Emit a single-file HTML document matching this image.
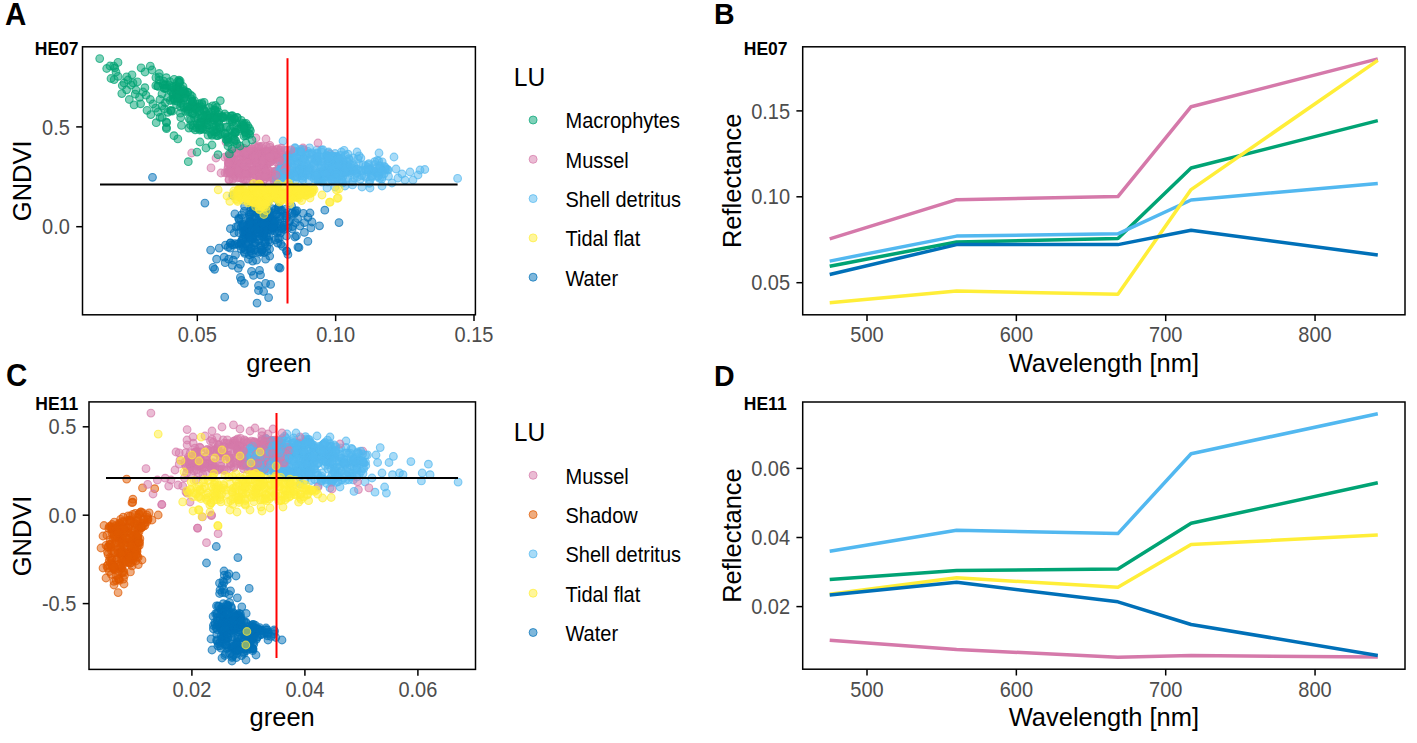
<!DOCTYPE html><html><head><meta charset="utf-8"><style>html,body{margin:0;padding:0;background:#fff;width:1417px;height:743px;overflow:hidden}</style></head><body><svg width="1417" height="743" viewBox="0 0 1417 743" style="position:absolute;left:0;top:0;font-family:'Liberation Sans',sans-serif">
<rect width="1417" height="743" fill="#fff"/>
<style>circle.g,circle.m,circle.s,circle.t,circle.w,circle.o{r:3.85px;fill-opacity:.5;stroke-opacity:.7;stroke-width:1.1px}circle.g{fill:#00A374;stroke:#00A374}circle.m{fill:#D579AA;stroke:#D579AA}circle.s{fill:#52B8F0;stroke:#52B8F0}circle.t{fill:#FFEE38;stroke:#FFEE38}circle.w{fill:#0070B8;stroke:#0070B8}circle.o{fill:#E05A00;stroke:#E05A00}</style>
<circle class="w" cx="249.9" cy="216.9"/>
<circle class="w" cx="279.4" cy="238.4"/>
<circle class="w" cx="269.9" cy="226.0"/>
<circle class="w" cx="266.0" cy="235.3"/>
<circle class="w" cx="244.3" cy="230.7"/>
<circle class="w" cx="252.2" cy="204.9"/>
<circle class="w" cx="258.0" cy="225.7"/>
<circle class="w" cx="262.9" cy="222.0"/>
<circle class="w" cx="260.0" cy="229.8"/>
<circle class="w" cx="239.0" cy="219.3"/>
<circle class="w" cx="271.9" cy="227.6"/>
<circle class="w" cx="272.0" cy="208.6"/>
<circle class="w" cx="281.6" cy="228.7"/>
<circle class="w" cx="263.5" cy="213.4"/>
<circle class="w" cx="277.1" cy="232.5"/>
<circle class="w" cx="260.0" cy="229.6"/>
<circle class="w" cx="271.8" cy="230.4"/>
<circle class="w" cx="273.8" cy="228.1"/>
<circle class="w" cx="243.5" cy="224.8"/>
<circle class="w" cx="243.3" cy="239.6"/>
<circle class="w" cx="274.3" cy="225.6"/>
<circle class="w" cx="286.4" cy="209.1"/>
<circle class="w" cx="281.6" cy="210.3"/>
<circle class="w" cx="236.1" cy="226.9"/>
<circle class="w" cx="254.9" cy="223.6"/>
<circle class="w" cx="262.9" cy="228.4"/>
<circle class="w" cx="269.4" cy="215.6"/>
<circle class="w" cx="248.7" cy="234.6"/>
<circle class="w" cx="282.7" cy="228.1"/>
<circle class="w" cx="264.9" cy="205.5"/>
<circle class="w" cx="269.7" cy="215.8"/>
<circle class="w" cx="280.5" cy="232.9"/>
<circle class="w" cx="254.8" cy="216.6"/>
<circle class="w" cx="258.6" cy="229.9"/>
<circle class="w" cx="267.4" cy="212.5"/>
<circle class="w" cx="264.8" cy="214.5"/>
<circle class="w" cx="257.3" cy="236.5"/>
<circle class="w" cx="255.8" cy="204.2"/>
<circle class="w" cx="251.7" cy="239.4"/>
<circle class="w" cx="241.2" cy="241.3"/>
<circle class="w" cx="259.9" cy="211.4"/>
<circle class="w" cx="256.0" cy="231.9"/>
<circle class="w" cx="278.4" cy="207.3"/>
<circle class="w" cx="261.0" cy="228.4"/>
<circle class="w" cx="280.9" cy="244.1"/>
<circle class="w" cx="288.8" cy="221.4"/>
<circle class="w" cx="243.3" cy="226.6"/>
<circle class="w" cx="246.9" cy="225.4"/>
<circle class="w" cx="255.7" cy="224.1"/>
<circle class="w" cx="267.3" cy="220.2"/>
<circle class="w" cx="278.9" cy="231.3"/>
<circle class="w" cx="241.7" cy="214.9"/>
<circle class="w" cx="244.6" cy="206.3"/>
<circle class="w" cx="264.1" cy="223.9"/>
<circle class="w" cx="268.6" cy="240.2"/>
<circle class="w" cx="274.8" cy="231.0"/>
<circle class="w" cx="261.6" cy="218.1"/>
<circle class="w" cx="230.4" cy="228.7"/>
<circle class="w" cx="259.2" cy="214.3"/>
<circle class="w" cx="250.7" cy="228.1"/>
<circle class="w" cx="285.4" cy="213.3"/>
<circle class="w" cx="254.8" cy="217.9"/>
<circle class="w" cx="257.1" cy="213.4"/>
<circle class="w" cx="263.8" cy="214.1"/>
<circle class="w" cx="275.5" cy="209.7"/>
<circle class="w" cx="245.3" cy="232.5"/>
<circle class="w" cx="265.0" cy="211.2"/>
<circle class="w" cx="263.6" cy="223.3"/>
<circle class="w" cx="277.9" cy="209.9"/>
<circle class="w" cx="234.2" cy="232.8"/>
<circle class="w" cx="271.7" cy="229.0"/>
<circle class="w" cx="251.2" cy="208.1"/>
<circle class="w" cx="235.5" cy="254.9"/>
<circle class="w" cx="258.7" cy="222.3"/>
<circle class="w" cx="266.9" cy="225.6"/>
<circle class="w" cx="249.5" cy="223.5"/>
<circle class="w" cx="263.7" cy="234.8"/>
<circle class="w" cx="292.6" cy="226.5"/>
<circle class="w" cx="268.9" cy="210.9"/>
<circle class="w" cx="251.1" cy="230.0"/>
<circle class="w" cx="249.9" cy="221.5"/>
<circle class="w" cx="296.8" cy="210.7"/>
<circle class="w" cx="253.3" cy="207.2"/>
<circle class="w" cx="269.2" cy="224.5"/>
<circle class="w" cx="258.9" cy="229.3"/>
<circle class="w" cx="228.1" cy="247.2"/>
<circle class="w" cx="274.9" cy="198.0"/>
<circle class="w" cx="265.6" cy="230.2"/>
<circle class="w" cx="273.8" cy="222.1"/>
<circle class="w" cx="279.8" cy="223.7"/>
<circle class="w" cx="258.9" cy="239.5"/>
<circle class="w" cx="242.6" cy="224.0"/>
<circle class="w" cx="258.7" cy="240.9"/>
<circle class="w" cx="249.6" cy="212.1"/>
<circle class="w" cx="246.6" cy="230.2"/>
<circle class="w" cx="261.8" cy="226.9"/>
<circle class="w" cx="243.2" cy="232.1"/>
<circle class="w" cx="278.0" cy="238.6"/>
<circle class="w" cx="279.1" cy="205.4"/>
<circle class="w" cx="266.0" cy="212.0"/>
<circle class="w" cx="269.0" cy="229.5"/>
<circle class="w" cx="251.3" cy="197.0"/>
<circle class="w" cx="263.4" cy="224.4"/>
<circle class="w" cx="255.8" cy="233.3"/>
<circle class="w" cx="255.5" cy="222.8"/>
<circle class="w" cx="267.4" cy="214.7"/>
<circle class="w" cx="271.6" cy="216.4"/>
<circle class="w" cx="260.4" cy="230.5"/>
<circle class="w" cx="280.1" cy="216.2"/>
<circle class="w" cx="263.6" cy="220.3"/>
<circle class="w" cx="238.2" cy="225.9"/>
<circle class="w" cx="295.2" cy="212.6"/>
<circle class="w" cx="274.6" cy="226.7"/>
<circle class="w" cx="279.9" cy="219.1"/>
<circle class="w" cx="272.1" cy="219.2"/>
<circle class="w" cx="297.6" cy="218.5"/>
<circle class="w" cx="263.7" cy="236.8"/>
<circle class="w" cx="252.4" cy="237.0"/>
<circle class="w" cx="291.6" cy="205.9"/>
<circle class="w" cx="268.6" cy="216.7"/>
<circle class="w" cx="262.8" cy="222.0"/>
<circle class="w" cx="235.0" cy="243.7"/>
<circle class="w" cx="264.1" cy="233.3"/>
<circle class="w" cx="251.8" cy="223.0"/>
<circle class="w" cx="252.9" cy="211.9"/>
<circle class="w" cx="292.2" cy="229.0"/>
<circle class="w" cx="283.9" cy="225.1"/>
<circle class="w" cx="258.5" cy="229.6"/>
<circle class="w" cx="310.9" cy="227.9"/>
<circle class="w" cx="264.2" cy="212.5"/>
<circle class="w" cx="266.0" cy="196.6"/>
<circle class="w" cx="276.6" cy="214.4"/>
<circle class="w" cx="262.4" cy="236.3"/>
<circle class="w" cx="284.8" cy="215.9"/>
<circle class="w" cx="244.2" cy="211.3"/>
<circle class="w" cx="248.2" cy="234.9"/>
<circle class="w" cx="266.2" cy="217.3"/>
<circle class="w" cx="263.6" cy="221.8"/>
<circle class="w" cx="242.8" cy="226.0"/>
<circle class="w" cx="286.5" cy="236.0"/>
<circle class="w" cx="254.0" cy="228.6"/>
<circle class="w" cx="247.4" cy="235.2"/>
<circle class="w" cx="261.1" cy="224.6"/>
<circle class="w" cx="283.4" cy="227.2"/>
<circle class="w" cx="271.0" cy="227.5"/>
<circle class="w" cx="267.4" cy="203.3"/>
<circle class="w" cx="267.5" cy="218.2"/>
<circle class="w" cx="286.4" cy="218.0"/>
<circle class="w" cx="249.3" cy="221.7"/>
<circle class="w" cx="277.6" cy="221.1"/>
<circle class="w" cx="267.0" cy="236.4"/>
<circle class="w" cx="271.6" cy="220.6"/>
<circle class="w" cx="283.7" cy="225.4"/>
<circle class="w" cx="271.2" cy="226.1"/>
<circle class="w" cx="225.5" cy="245.1"/>
<circle class="w" cx="258.3" cy="233.0"/>
<circle class="w" cx="253.7" cy="227.2"/>
<circle class="w" cx="245.9" cy="237.6"/>
<circle class="w" cx="254.5" cy="242.5"/>
<circle class="w" cx="265.8" cy="227.4"/>
<circle class="w" cx="248.9" cy="219.4"/>
<circle class="w" cx="267.3" cy="220.2"/>
<circle class="w" cx="257.6" cy="209.8"/>
<circle class="w" cx="257.8" cy="229.1"/>
<circle class="w" cx="240.6" cy="218.5"/>
<circle class="w" cx="246.4" cy="230.2"/>
<circle class="w" cx="250.9" cy="213.9"/>
<circle class="w" cx="254.5" cy="229.1"/>
<circle class="w" cx="244.9" cy="231.5"/>
<circle class="w" cx="294.3" cy="195.0"/>
<circle class="w" cx="249.1" cy="224.2"/>
<circle class="w" cx="269.1" cy="236.5"/>
<circle class="w" cx="259.3" cy="216.9"/>
<circle class="w" cx="232.8" cy="195.4"/>
<circle class="w" cx="239.3" cy="245.5"/>
<circle class="w" cx="244.1" cy="234.6"/>
<circle class="w" cx="267.2" cy="217.4"/>
<circle class="w" cx="244.6" cy="253.3"/>
<circle class="w" cx="274.2" cy="224.2"/>
<circle class="w" cx="238.9" cy="232.7"/>
<circle class="w" cx="234.9" cy="213.8"/>
<circle class="w" cx="261.5" cy="223.6"/>
<circle class="w" cx="265.9" cy="224.2"/>
<circle class="w" cx="259.2" cy="225.8"/>
<circle class="w" cx="241.2" cy="227.2"/>
<circle class="w" cx="275.3" cy="239.9"/>
<circle class="w" cx="233.9" cy="245.1"/>
<circle class="w" cx="252.2" cy="237.9"/>
<circle class="w" cx="250.5" cy="225.0"/>
<circle class="w" cx="262.0" cy="223.1"/>
<circle class="w" cx="264.3" cy="232.5"/>
<circle class="w" cx="272.5" cy="212.9"/>
<circle class="w" cx="274.4" cy="222.7"/>
<circle class="w" cx="238.7" cy="218.3"/>
<circle class="w" cx="284.3" cy="229.4"/>
<circle class="w" cx="250.4" cy="235.1"/>
<circle class="w" cx="249.6" cy="232.6"/>
<circle class="w" cx="294.1" cy="214.0"/>
<circle class="w" cx="280.5" cy="210.7"/>
<circle class="w" cx="258.2" cy="219.6"/>
<circle class="w" cx="289.7" cy="220.9"/>
<circle class="w" cx="249.3" cy="214.5"/>
<circle class="w" cx="259.5" cy="232.2"/>
<circle class="w" cx="276.2" cy="214.1"/>
<circle class="w" cx="275.4" cy="221.6"/>
<circle class="w" cx="259.6" cy="227.8"/>
<circle class="w" cx="292.2" cy="212.8"/>
<circle class="w" cx="262.3" cy="223.0"/>
<circle class="w" cx="256.5" cy="228.0"/>
<circle class="w" cx="253.3" cy="207.7"/>
<circle class="w" cx="263.8" cy="205.7"/>
<circle class="w" cx="264.0" cy="224.6"/>
<circle class="w" cx="288.0" cy="228.0"/>
<circle class="w" cx="267.6" cy="211.5"/>
<circle class="w" cx="269.8" cy="242.2"/>
<circle class="w" cx="272.9" cy="227.4"/>
<circle class="w" cx="303.4" cy="213.3"/>
<circle class="w" cx="242.8" cy="238.2"/>
<circle class="w" cx="264.8" cy="210.3"/>
<circle class="w" cx="286.6" cy="216.0"/>
<circle class="w" cx="282.7" cy="246.5"/>
<circle class="w" cx="269.7" cy="256.1"/>
<circle class="w" cx="252.8" cy="253.5"/>
<circle class="w" cx="228.6" cy="259.2"/>
<circle class="w" cx="264.3" cy="252.6"/>
<circle class="w" cx="280.1" cy="268.1"/>
<circle class="w" cx="232.0" cy="244.7"/>
<circle class="w" cx="230.5" cy="242.9"/>
<circle class="w" cx="244.2" cy="252.0"/>
<circle class="w" cx="252.9" cy="238.7"/>
<circle class="w" cx="261.0" cy="246.2"/>
<circle class="w" cx="265.5" cy="242.3"/>
<circle class="w" cx="240.7" cy="243.2"/>
<circle class="w" cx="247.5" cy="246.2"/>
<circle class="w" cx="260.5" cy="252.5"/>
<circle class="w" cx="254.7" cy="249.8"/>
<circle class="w" cx="249.4" cy="237.9"/>
<circle class="w" cx="246.0" cy="244.2"/>
<circle class="w" cx="249.7" cy="236.4"/>
<circle class="w" cx="245.8" cy="243.9"/>
<circle class="w" cx="240.6" cy="243.6"/>
<circle class="w" cx="250.5" cy="251.2"/>
<circle class="w" cx="265.1" cy="243.8"/>
<circle class="w" cx="259.4" cy="247.8"/>
<circle class="w" cx="249.4" cy="254.8"/>
<circle class="w" cx="261.8" cy="251.6"/>
<circle class="w" cx="238.1" cy="243.8"/>
<circle class="w" cx="266.9" cy="246.3"/>
<circle class="w" cx="242.0" cy="240.1"/>
<circle class="w" cx="255.7" cy="243.0"/>
<circle class="w" cx="287.9" cy="254.4"/>
<circle class="w" cx="254.3" cy="245.3"/>
<circle class="w" cx="258.4" cy="251.9"/>
<circle class="w" cx="248.8" cy="244.7"/>
<circle class="w" cx="266.7" cy="251.5"/>
<circle class="w" cx="261.9" cy="249.9"/>
<circle class="w" cx="245.1" cy="249.6"/>
<circle class="w" cx="261.9" cy="249.8"/>
<circle class="w" cx="251.5" cy="253.3"/>
<circle class="w" cx="241.1" cy="249.0"/>
<circle class="w" cx="250.7" cy="248.8"/>
<circle class="w" cx="264.4" cy="241.7"/>
<circle class="w" cx="251.0" cy="247.8"/>
<circle class="w" cx="252.7" cy="261.1"/>
<circle class="w" cx="243.4" cy="247.6"/>
<circle class="w" cx="295.5" cy="211.1"/>
<circle class="w" cx="324.8" cy="210.2"/>
<circle class="w" cx="339.0" cy="222.6"/>
<circle class="w" cx="319.5" cy="225.8"/>
<circle class="w" cx="307.9" cy="217.3"/>
<circle class="w" cx="304.4" cy="222.6"/>
<circle class="w" cx="295.5" cy="222.6"/>
<circle class="w" cx="304.4" cy="232.4"/>
<circle class="w" cx="307.9" cy="241.3"/>
<circle class="w" cx="299.0" cy="247.5"/>
<circle class="w" cx="296.4" cy="236.0"/>
<circle class="w" cx="286.6" cy="251.1"/>
<circle class="w" cx="204.9" cy="203.1"/>
<circle class="w" cx="152.5" cy="177.3"/>
<circle class="w" cx="310.0" cy="213.0"/>
<circle class="w" cx="312.0" cy="222.0"/>
<circle class="w" cx="300.0" cy="226.0"/>
<circle class="w" cx="210.6" cy="250.1"/>
<circle class="w" cx="219.2" cy="248.1"/>
<circle class="w" cx="216.6" cy="259.2"/>
<circle class="w" cx="213.1" cy="267.3"/>
<circle class="w" cx="214.6" cy="269.3"/>
<circle class="w" cx="224.2" cy="257.2"/>
<circle class="w" cx="225.2" cy="262.7"/>
<circle class="w" cx="230.3" cy="243.1"/>
<circle class="w" cx="230.3" cy="248.1"/>
<circle class="w" cx="233.3" cy="260.2"/>
<circle class="w" cx="232.3" cy="265.3"/>
<circle class="w" cx="238.3" cy="268.3"/>
<circle class="w" cx="240.4" cy="264.3"/>
<circle class="w" cx="240.4" cy="277.4"/>
<circle class="w" cx="241.4" cy="280.4"/>
<circle class="w" cx="244.4" cy="283.4"/>
<circle class="w" cx="251.5" cy="271.3"/>
<circle class="w" cx="253.5" cy="275.4"/>
<circle class="w" cx="259.5" cy="270.3"/>
<circle class="w" cx="260.5" cy="274.9"/>
<circle class="w" cx="258.5" cy="285.5"/>
<circle class="w" cx="258.5" cy="290.5"/>
<circle class="w" cx="265.6" cy="283.4"/>
<circle class="w" cx="270.6" cy="284.4"/>
<circle class="w" cx="263.6" cy="291.5"/>
<circle class="w" cx="268.6" cy="297.6"/>
<circle class="w" cx="224.7" cy="297.1"/>
<circle class="w" cx="257.0" cy="303.1"/>
<circle class="w" cx="278.7" cy="267.3"/>
<circle class="w" cx="286.8" cy="251.1"/>
<circle class="w" cx="269.6" cy="249.1"/>
<circle class="w" cx="265.6" cy="259.2"/>
<circle class="w" cx="256.5" cy="260.2"/>
<circle class="w" cx="248.4" cy="259.2"/>
<circle class="w" cx="297.9" cy="247.1"/>
<circle class="w" cx="277.7" cy="243.1"/>
<circle class="w" cx="294.9" cy="237.0"/>
<circle class="s" cx="353.0" cy="157.8"/>
<circle class="s" cx="290.5" cy="178.8"/>
<circle class="s" cx="379.3" cy="174.5"/>
<circle class="s" cx="322.5" cy="171.7"/>
<circle class="m" cx="235.1" cy="163.6"/>
<circle class="m" cx="273.0" cy="177.3"/>
<circle class="m" cx="250.1" cy="160.1"/>
<circle class="s" cx="280.0" cy="175.2"/>
<circle class="s" cx="371.7" cy="177.4"/>
<circle class="s" cx="289.5" cy="173.7"/>
<circle class="m" cx="262.9" cy="157.1"/>
<circle class="m" cx="248.0" cy="159.5"/>
<circle class="s" cx="337.6" cy="161.2"/>
<circle class="s" cx="298.8" cy="161.8"/>
<circle class="m" cx="259.4" cy="178.8"/>
<circle class="s" cx="294.9" cy="176.3"/>
<circle class="m" cx="273.4" cy="150.2"/>
<circle class="s" cx="369.9" cy="180.5"/>
<circle class="m" cx="243.8" cy="172.0"/>
<circle class="m" cx="233.3" cy="174.3"/>
<circle class="s" cx="342.8" cy="176.8"/>
<circle class="s" cx="335.1" cy="153.5"/>
<circle class="m" cx="252.5" cy="165.8"/>
<circle class="m" cx="276.9" cy="176.5"/>
<circle class="m" cx="260.0" cy="156.5"/>
<circle class="s" cx="321.1" cy="167.8"/>
<circle class="s" cx="327.8" cy="170.3"/>
<circle class="s" cx="321.8" cy="171.2"/>
<circle class="s" cx="323.0" cy="162.4"/>
<circle class="s" cx="303.9" cy="149.8"/>
<circle class="m" cx="266.8" cy="154.2"/>
<circle class="m" cx="267.4" cy="151.6"/>
<circle class="m" cx="280.5" cy="153.4"/>
<circle class="m" cx="256.8" cy="180.2"/>
<circle class="m" cx="272.9" cy="174.4"/>
<circle class="m" cx="243.3" cy="153.1"/>
<circle class="s" cx="336.7" cy="160.4"/>
<circle class="m" cx="251.5" cy="165.0"/>
<circle class="s" cx="335.6" cy="175.8"/>
<circle class="s" cx="327.8" cy="168.6"/>
<circle class="s" cx="290.1" cy="185.2"/>
<circle class="m" cx="250.2" cy="176.0"/>
<circle class="s" cx="319.8" cy="177.8"/>
<circle class="m" cx="243.7" cy="161.8"/>
<circle class="s" cx="284.9" cy="164.7"/>
<circle class="s" cx="309.2" cy="153.3"/>
<circle class="m" cx="230.2" cy="170.0"/>
<circle class="m" cx="255.3" cy="160.8"/>
<circle class="s" cx="340.6" cy="161.5"/>
<circle class="s" cx="325.1" cy="167.7"/>
<circle class="m" cx="211.0" cy="167.9"/>
<circle class="s" cx="330.8" cy="175.6"/>
<circle class="m" cx="253.7" cy="151.8"/>
<circle class="s" cx="336.4" cy="177.1"/>
<circle class="s" cx="297.2" cy="161.2"/>
<circle class="m" cx="233.3" cy="173.5"/>
<circle class="s" cx="326.7" cy="156.2"/>
<circle class="s" cx="314.1" cy="172.8"/>
<circle class="s" cx="317.0" cy="153.0"/>
<circle class="s" cx="297.2" cy="164.6"/>
<circle class="m" cx="252.4" cy="171.4"/>
<circle class="m" cx="224.8" cy="157.2"/>
<circle class="s" cx="295.4" cy="172.3"/>
<circle class="m" cx="221.0" cy="173.0"/>
<circle class="m" cx="280.5" cy="168.5"/>
<circle class="s" cx="340.2" cy="163.0"/>
<circle class="m" cx="228.6" cy="170.9"/>
<circle class="s" cx="349.8" cy="171.1"/>
<circle class="m" cx="235.3" cy="162.3"/>
<circle class="m" cx="266.0" cy="139.0"/>
<circle class="m" cx="279.5" cy="168.1"/>
<circle class="s" cx="334.6" cy="166.3"/>
<circle class="s" cx="283.9" cy="161.9"/>
<circle class="s" cx="336.4" cy="171.2"/>
<circle class="m" cx="264.2" cy="158.5"/>
<circle class="m" cx="240.1" cy="177.9"/>
<circle class="m" cx="230.3" cy="155.7"/>
<circle class="m" cx="258.2" cy="147.8"/>
<circle class="m" cx="263.7" cy="152.4"/>
<circle class="s" cx="324.7" cy="176.5"/>
<circle class="s" cx="344.6" cy="168.9"/>
<circle class="s" cx="296.5" cy="177.2"/>
<circle class="s" cx="308.0" cy="170.3"/>
<circle class="s" cx="366.0" cy="177.4"/>
<circle class="m" cx="242.7" cy="167.1"/>
<circle class="m" cx="330.0" cy="154.0"/>
<circle class="s" cx="317.1" cy="149.8"/>
<circle class="s" cx="294.4" cy="150.9"/>
<circle class="s" cx="330.9" cy="164.0"/>
<circle class="s" cx="362.1" cy="171.0"/>
<circle class="m" cx="267.5" cy="164.1"/>
<circle class="s" cx="302.9" cy="149.4"/>
<circle class="m" cx="238.9" cy="163.4"/>
<circle class="s" cx="385.1" cy="170.1"/>
<circle class="s" cx="348.4" cy="166.5"/>
<circle class="m" cx="276.2" cy="162.0"/>
<circle class="m" cx="270.7" cy="156.2"/>
<circle class="m" cx="269.2" cy="161.4"/>
<circle class="s" cx="371.8" cy="172.4"/>
<circle class="m" cx="252.5" cy="149.0"/>
<circle class="m" cx="262.0" cy="186.0"/>
<circle class="s" cx="332.0" cy="156.0"/>
<circle class="s" cx="367.9" cy="167.4"/>
<circle class="s" cx="281.6" cy="179.6"/>
<circle class="m" cx="244.3" cy="173.6"/>
<circle class="s" cx="292.1" cy="155.7"/>
<circle class="s" cx="308.9" cy="180.3"/>
<circle class="s" cx="352.6" cy="181.7"/>
<circle class="m" cx="241.0" cy="158.1"/>
<circle class="m" cx="283.3" cy="160.3"/>
<circle class="s" cx="331.1" cy="176.6"/>
<circle class="m" cx="272.0" cy="177.8"/>
<circle class="m" cx="261.6" cy="171.6"/>
<circle class="m" cx="261.0" cy="147.3"/>
<circle class="s" cx="365.7" cy="166.0"/>
<circle class="m" cx="240.3" cy="165.7"/>
<circle class="m" cx="245.3" cy="162.1"/>
<circle class="m" cx="251.2" cy="155.5"/>
<circle class="s" cx="307.8" cy="151.3"/>
<circle class="m" cx="262.7" cy="153.5"/>
<circle class="s" cx="374.7" cy="161.7"/>
<circle class="s" cx="299.4" cy="156.5"/>
<circle class="m" cx="234.3" cy="160.5"/>
<circle class="m" cx="253.2" cy="180.5"/>
<circle class="s" cx="348.3" cy="170.9"/>
<circle class="s" cx="284.1" cy="175.6"/>
<circle class="m" cx="280.7" cy="151.9"/>
<circle class="m" cx="263.1" cy="169.9"/>
<circle class="s" cx="315.5" cy="161.7"/>
<circle class="s" cx="296.0" cy="171.1"/>
<circle class="s" cx="297.5" cy="176.8"/>
<circle class="s" cx="382.2" cy="161.8"/>
<circle class="s" cx="322.7" cy="149.7"/>
<circle class="m" cx="281.3" cy="166.9"/>
<circle class="m" cx="318.0" cy="143.0"/>
<circle class="m" cx="239.0" cy="171.3"/>
<circle class="m" cx="271.0" cy="175.6"/>
<circle class="s" cx="348.3" cy="166.5"/>
<circle class="m" cx="276.3" cy="155.5"/>
<circle class="s" cx="301.7" cy="167.3"/>
<circle class="m" cx="263.1" cy="156.9"/>
<circle class="m" cx="272.5" cy="149.9"/>
<circle class="m" cx="241.6" cy="167.8"/>
<circle class="s" cx="287.5" cy="164.4"/>
<circle class="m" cx="256.6" cy="169.5"/>
<circle class="m" cx="280.0" cy="156.8"/>
<circle class="s" cx="332.2" cy="163.1"/>
<circle class="s" cx="378.7" cy="161.1"/>
<circle class="s" cx="338.3" cy="176.6"/>
<circle class="m" cx="228.4" cy="163.1"/>
<circle class="s" cx="302.2" cy="164.9"/>
<circle class="m" cx="280.2" cy="172.1"/>
<circle class="m" cx="277.9" cy="148.8"/>
<circle class="s" cx="309.5" cy="147.9"/>
<circle class="s" cx="327.5" cy="156.0"/>
<circle class="m" cx="231.3" cy="171.4"/>
<circle class="s" cx="365.7" cy="169.9"/>
<circle class="m" cx="250.6" cy="150.7"/>
<circle class="m" cx="242.2" cy="172.6"/>
<circle class="s" cx="295.1" cy="152.2"/>
<circle class="s" cx="301.8" cy="178.3"/>
<circle class="s" cx="384.5" cy="166.5"/>
<circle class="s" cx="275.2" cy="175.3"/>
<circle class="m" cx="259.7" cy="154.5"/>
<circle class="s" cx="337.6" cy="170.4"/>
<circle class="s" cx="328.1" cy="161.2"/>
<circle class="s" cx="327.7" cy="157.9"/>
<circle class="s" cx="289.5" cy="175.7"/>
<circle class="s" cx="324.2" cy="173.4"/>
<circle class="m" cx="245.2" cy="179.6"/>
<circle class="s" cx="304.6" cy="165.8"/>
<circle class="m" cx="246.2" cy="155.8"/>
<circle class="m" cx="234.4" cy="175.7"/>
<circle class="m" cx="266.8" cy="151.0"/>
<circle class="s" cx="424.8" cy="169.5"/>
<circle class="m" cx="266.8" cy="158.5"/>
<circle class="m" cx="227.1" cy="172.9"/>
<circle class="s" cx="294.6" cy="164.3"/>
<circle class="m" cx="252.8" cy="163.3"/>
<circle class="s" cx="322.2" cy="172.5"/>
<circle class="m" cx="279.0" cy="166.2"/>
<circle class="s" cx="295.1" cy="148.5"/>
<circle class="s" cx="392.0" cy="183.0"/>
<circle class="m" cx="282.0" cy="165.8"/>
<circle class="s" cx="368.2" cy="165.0"/>
<circle class="s" cx="283.0" cy="141.0"/>
<circle class="s" cx="290.4" cy="161.8"/>
<circle class="m" cx="228.2" cy="166.5"/>
<circle class="s" cx="376.5" cy="172.2"/>
<circle class="s" cx="288.7" cy="155.3"/>
<circle class="s" cx="337.9" cy="157.8"/>
<circle class="s" cx="382.0" cy="186.0"/>
<circle class="m" cx="240.5" cy="153.5"/>
<circle class="s" cx="295.4" cy="180.4"/>
<circle class="s" cx="297.9" cy="169.9"/>
<circle class="s" cx="405.0" cy="180.0"/>
<circle class="s" cx="285.1" cy="158.5"/>
<circle class="s" cx="298.2" cy="168.2"/>
<circle class="m" cx="274.3" cy="181.2"/>
<circle class="s" cx="374.3" cy="171.5"/>
<circle class="m" cx="266.7" cy="164.2"/>
<circle class="m" cx="227.8" cy="168.8"/>
<circle class="m" cx="237.4" cy="171.7"/>
<circle class="s" cx="317.3" cy="153.7"/>
<circle class="s" cx="288.2" cy="154.7"/>
<circle class="m" cx="274.0" cy="151.8"/>
<circle class="s" cx="341.4" cy="152.0"/>
<circle class="s" cx="321.2" cy="176.4"/>
<circle class="s" cx="306.2" cy="155.8"/>
<circle class="m" cx="241.1" cy="151.9"/>
<circle class="m" cx="275.7" cy="158.4"/>
<circle class="m" cx="262.9" cy="177.0"/>
<circle class="s" cx="336.8" cy="158.0"/>
<circle class="m" cx="228.4" cy="158.7"/>
<circle class="s" cx="378.3" cy="176.0"/>
<circle class="s" cx="316.5" cy="173.5"/>
<circle class="m" cx="216.0" cy="158.0"/>
<circle class="m" cx="253.3" cy="158.7"/>
<circle class="m" cx="266.6" cy="167.0"/>
<circle class="s" cx="339.0" cy="170.4"/>
<circle class="s" cx="342.7" cy="173.1"/>
<circle class="m" cx="233.5" cy="170.4"/>
<circle class="m" cx="271.4" cy="161.4"/>
<circle class="m" cx="249.5" cy="173.4"/>
<circle class="m" cx="247.2" cy="179.3"/>
<circle class="s" cx="394.0" cy="157.0"/>
<circle class="s" cx="338.3" cy="161.0"/>
<circle class="m" cx="240.1" cy="171.6"/>
<circle class="m" cx="263.9" cy="167.7"/>
<circle class="s" cx="374.6" cy="164.5"/>
<circle class="s" cx="322.3" cy="174.8"/>
<circle class="s" cx="349.5" cy="159.9"/>
<circle class="s" cx="320.8" cy="174.6"/>
<circle class="s" cx="291.2" cy="165.8"/>
<circle class="s" cx="361.6" cy="175.6"/>
<circle class="s" cx="346.9" cy="161.3"/>
<circle class="s" cx="329.9" cy="157.0"/>
<circle class="s" cx="369.3" cy="183.3"/>
<circle class="m" cx="276.8" cy="155.0"/>
<circle class="s" cx="339.7" cy="172.3"/>
<circle class="s" cx="362.0" cy="187.0"/>
<circle class="s" cx="307.9" cy="160.6"/>
<circle class="s" cx="334.6" cy="161.2"/>
<circle class="m" cx="235.5" cy="166.1"/>
<circle class="m" cx="273.1" cy="159.8"/>
<circle class="s" cx="278.4" cy="176.5"/>
<circle class="m" cx="246.8" cy="175.7"/>
<circle class="s" cx="345.0" cy="171.6"/>
<circle class="s" cx="329.4" cy="169.2"/>
<circle class="s" cx="289.3" cy="156.8"/>
<circle class="m" cx="233.3" cy="162.4"/>
<circle class="s" cx="292.6" cy="173.1"/>
<circle class="s" cx="344.1" cy="150.3"/>
<circle class="s" cx="360.2" cy="179.3"/>
<circle class="s" cx="311.1" cy="176.3"/>
<circle class="s" cx="332.3" cy="171.8"/>
<circle class="s" cx="314.0" cy="163.2"/>
<circle class="s" cx="344.9" cy="170.5"/>
<circle class="m" cx="265.0" cy="178.6"/>
<circle class="s" cx="346.4" cy="169.6"/>
<circle class="s" cx="346.0" cy="179.5"/>
<circle class="s" cx="286.8" cy="179.6"/>
<circle class="m" cx="234.3" cy="161.4"/>
<circle class="s" cx="343.8" cy="162.9"/>
<circle class="s" cx="340.8" cy="165.0"/>
<circle class="s" cx="323.0" cy="178.4"/>
<circle class="m" cx="281.2" cy="148.1"/>
<circle class="s" cx="348.1" cy="154.2"/>
<circle class="s" cx="381.4" cy="169.4"/>
<circle class="s" cx="345.4" cy="171.2"/>
<circle class="m" cx="236.4" cy="159.5"/>
<circle class="s" cx="321.2" cy="166.2"/>
<circle class="m" cx="266.3" cy="173.9"/>
<circle class="s" cx="289.1" cy="175.4"/>
<circle class="m" cx="237.3" cy="178.0"/>
<circle class="m" cx="245.2" cy="169.1"/>
<circle class="s" cx="326.4" cy="159.1"/>
<circle class="s" cx="323.6" cy="180.5"/>
<circle class="s" cx="396.0" cy="169.0"/>
<circle class="m" cx="254.7" cy="146.0"/>
<circle class="s" cx="290.0" cy="172.5"/>
<circle class="s" cx="306.7" cy="166.6"/>
<circle class="m" cx="303.0" cy="148.0"/>
<circle class="s" cx="388.1" cy="170.1"/>
<circle class="s" cx="303.2" cy="170.6"/>
<circle class="m" cx="237.2" cy="173.5"/>
<circle class="s" cx="321.5" cy="152.0"/>
<circle class="s" cx="278.9" cy="171.6"/>
<circle class="s" cx="320.2" cy="180.9"/>
<circle class="s" cx="336.6" cy="166.1"/>
<circle class="s" cx="341.8" cy="158.5"/>
<circle class="s" cx="348.0" cy="177.8"/>
<circle class="s" cx="357.1" cy="172.8"/>
<circle class="s" cx="386.0" cy="168.9"/>
<circle class="s" cx="295.0" cy="147.7"/>
<circle class="s" cx="413.0" cy="180.0"/>
<circle class="m" cx="257.6" cy="163.8"/>
<circle class="m" cx="270.7" cy="153.6"/>
<circle class="s" cx="292.2" cy="168.1"/>
<circle class="s" cx="317.0" cy="174.5"/>
<circle class="s" cx="335.4" cy="156.8"/>
<circle class="s" cx="312.4" cy="153.0"/>
<circle class="s" cx="302.9" cy="174.3"/>
<circle class="s" cx="356.3" cy="169.4"/>
<circle class="m" cx="233.3" cy="165.2"/>
<circle class="s" cx="333.0" cy="157.4"/>
<circle class="s" cx="331.0" cy="171.5"/>
<circle class="s" cx="316.7" cy="157.5"/>
<circle class="s" cx="326.5" cy="171.7"/>
<circle class="s" cx="360.7" cy="170.7"/>
<circle class="m" cx="264.9" cy="174.8"/>
<circle class="s" cx="293.7" cy="152.6"/>
<circle class="s" cx="309.5" cy="170.2"/>
<circle class="s" cx="340.7" cy="155.3"/>
<circle class="s" cx="319.0" cy="180.2"/>
<circle class="m" cx="248.8" cy="151.6"/>
<circle class="m" cx="238.8" cy="165.0"/>
<circle class="s" cx="294.2" cy="160.0"/>
<circle class="m" cx="273.4" cy="171.6"/>
<circle class="s" cx="314.0" cy="175.9"/>
<circle class="s" cx="304.6" cy="176.0"/>
<circle class="s" cx="326.2" cy="176.5"/>
<circle class="m" cx="243.2" cy="150.4"/>
<circle class="s" cx="285.3" cy="162.6"/>
<circle class="s" cx="317.9" cy="158.9"/>
<circle class="m" cx="239.6" cy="148.8"/>
<circle class="m" cx="241.4" cy="168.3"/>
<circle class="m" cx="266.4" cy="146.6"/>
<circle class="s" cx="278.0" cy="172.2"/>
<circle class="s" cx="351.9" cy="168.0"/>
<circle class="s" cx="310.3" cy="168.1"/>
<circle class="s" cx="333.3" cy="167.4"/>
<circle class="s" cx="370.5" cy="169.0"/>
<circle class="s" cx="300.5" cy="149.4"/>
<circle class="s" cx="326.5" cy="155.1"/>
<circle class="m" cx="248.8" cy="150.8"/>
<circle class="s" cx="368.1" cy="171.8"/>
<circle class="m" cx="242.4" cy="164.1"/>
<circle class="m" cx="252.5" cy="172.8"/>
<circle class="s" cx="376.2" cy="167.8"/>
<circle class="s" cx="314.3" cy="164.0"/>
<circle class="m" cx="276.3" cy="149.7"/>
<circle class="s" cx="339.4" cy="180.4"/>
<circle class="m" cx="230.2" cy="173.7"/>
<circle class="s" cx="348.0" cy="161.9"/>
<circle class="m" cx="228.9" cy="162.4"/>
<circle class="s" cx="338.2" cy="163.6"/>
<circle class="s" cx="303.2" cy="158.7"/>
<circle class="m" cx="256.0" cy="138.0"/>
<circle class="s" cx="287.4" cy="150.3"/>
<circle class="s" cx="302.9" cy="179.8"/>
<circle class="m" cx="247.6" cy="173.4"/>
<circle class="m" cx="268.3" cy="170.1"/>
<circle class="m" cx="267.8" cy="177.0"/>
<circle class="s" cx="358.8" cy="164.2"/>
<circle class="s" cx="304.7" cy="169.0"/>
<circle class="s" cx="301.1" cy="155.0"/>
<circle class="s" cx="281.2" cy="171.1"/>
<circle class="s" cx="321.5" cy="150.2"/>
<circle class="s" cx="336.4" cy="156.6"/>
<circle class="m" cx="244.0" cy="148.4"/>
<circle class="s" cx="300.7" cy="152.1"/>
<circle class="m" cx="252.3" cy="152.5"/>
<circle class="s" cx="377.2" cy="160.5"/>
<circle class="s" cx="287.2" cy="176.2"/>
<circle class="s" cx="384.1" cy="173.8"/>
<circle class="m" cx="243.1" cy="173.9"/>
<circle class="m" cx="234.5" cy="155.5"/>
<circle class="m" cx="243.3" cy="159.2"/>
<circle class="m" cx="225.0" cy="172.8"/>
<circle class="s" cx="372.7" cy="175.8"/>
<circle class="s" cx="309.1" cy="154.2"/>
<circle class="m" cx="239.2" cy="175.2"/>
<circle class="m" cx="250.6" cy="160.6"/>
<circle class="m" cx="239.0" cy="168.0"/>
<circle class="s" cx="380.0" cy="165.8"/>
<circle class="m" cx="269.9" cy="145.3"/>
<circle class="m" cx="257.2" cy="167.5"/>
<circle class="m" cx="252.2" cy="158.9"/>
<circle class="m" cx="271.3" cy="173.8"/>
<circle class="m" cx="234.5" cy="171.3"/>
<circle class="m" cx="262.8" cy="151.7"/>
<circle class="m" cx="244.5" cy="161.7"/>
<circle class="m" cx="269.3" cy="151.9"/>
<circle class="m" cx="252.7" cy="170.6"/>
<circle class="s" cx="348.2" cy="169.5"/>
<circle class="m" cx="229.1" cy="179.3"/>
<circle class="s" cx="420.0" cy="170.0"/>
<circle class="m" cx="243.4" cy="179.4"/>
<circle class="s" cx="309.8" cy="174.8"/>
<circle class="m" cx="245.7" cy="154.2"/>
<circle class="s" cx="331.9" cy="160.9"/>
<circle class="s" cx="353.8" cy="166.6"/>
<circle class="m" cx="263.4" cy="164.4"/>
<circle class="s" cx="297.9" cy="171.8"/>
<circle class="s" cx="328.8" cy="161.6"/>
<circle class="m" cx="274.7" cy="152.7"/>
<circle class="m" cx="272.5" cy="175.1"/>
<circle class="m" cx="256.9" cy="157.5"/>
<circle class="m" cx="229.8" cy="160.4"/>
<circle class="m" cx="280.8" cy="150.1"/>
<circle class="s" cx="334.2" cy="159.5"/>
<circle class="s" cx="410.0" cy="172.0"/>
<circle class="m" cx="261.7" cy="146.2"/>
<circle class="m" cx="267.8" cy="160.9"/>
<circle class="m" cx="234.0" cy="139.0"/>
<circle class="s" cx="300.5" cy="173.3"/>
<circle class="s" cx="303.4" cy="173.4"/>
<circle class="s" cx="347.9" cy="171.1"/>
<circle class="s" cx="347.0" cy="165.6"/>
<circle class="m" cx="264.0" cy="157.0"/>
<circle class="s" cx="332.6" cy="178.6"/>
<circle class="s" cx="331.9" cy="180.5"/>
<circle class="m" cx="232.7" cy="179.3"/>
<circle class="s" cx="316.0" cy="158.5"/>
<circle class="m" cx="262.8" cy="176.0"/>
<circle class="s" cx="330.9" cy="169.1"/>
<circle class="s" cx="402.0" cy="174.0"/>
<circle class="s" cx="333.2" cy="156.4"/>
<circle class="m" cx="246.1" cy="154.6"/>
<circle class="m" cx="257.1" cy="152.7"/>
<circle class="s" cx="300.4" cy="151.3"/>
<circle class="m" cx="272.8" cy="159.6"/>
<circle class="s" cx="313.8" cy="174.3"/>
<circle class="s" cx="377.9" cy="172.8"/>
<circle class="m" cx="247.2" cy="151.9"/>
<circle class="m" cx="263.4" cy="165.5"/>
<circle class="s" cx="276.3" cy="176.3"/>
<circle class="s" cx="285.3" cy="158.6"/>
<circle class="m" cx="270.0" cy="162.2"/>
<circle class="s" cx="357.0" cy="152.0"/>
<circle class="s" cx="328.6" cy="152.0"/>
<circle class="s" cx="334.6" cy="179.7"/>
<circle class="s" cx="322.3" cy="182.1"/>
<circle class="m" cx="254.0" cy="174.5"/>
<circle class="m" cx="267.4" cy="156.4"/>
<circle class="m" cx="245.8" cy="161.1"/>
<circle class="m" cx="256.0" cy="153.1"/>
<circle class="s" cx="387.4" cy="169.3"/>
<circle class="s" cx="327.9" cy="158.1"/>
<circle class="m" cx="256.6" cy="151.3"/>
<circle class="s" cx="457.6" cy="178.4"/>
<circle class="s" cx="300.7" cy="175.8"/>
<circle class="s" cx="290.5" cy="173.0"/>
<circle class="s" cx="342.0" cy="180.4"/>
<circle class="s" cx="293.1" cy="157.6"/>
<circle class="s" cx="301.8" cy="152.8"/>
<circle class="s" cx="342.6" cy="183.0"/>
<circle class="s" cx="276.3" cy="180.3"/>
<circle class="s" cx="321.8" cy="160.6"/>
<circle class="m" cx="265.1" cy="176.6"/>
<circle class="s" cx="345.4" cy="155.2"/>
<circle class="m" cx="241.0" cy="178.0"/>
<circle class="m" cx="227.5" cy="156.4"/>
<circle class="m" cx="274.3" cy="172.0"/>
<circle class="s" cx="378.7" cy="172.1"/>
<circle class="s" cx="335.2" cy="170.7"/>
<circle class="m" cx="236.9" cy="164.9"/>
<circle class="s" cx="330.7" cy="171.2"/>
<circle class="m" cx="257.5" cy="159.2"/>
<circle class="s" cx="350.4" cy="172.7"/>
<circle class="s" cx="299.8" cy="168.9"/>
<circle class="m" cx="245.3" cy="169.1"/>
<circle class="s" cx="317.8" cy="180.2"/>
<circle class="m" cx="261.8" cy="156.6"/>
<circle class="s" cx="314.9" cy="158.6"/>
<circle class="m" cx="246.5" cy="167.8"/>
<circle class="m" cx="260.6" cy="174.9"/>
<circle class="m" cx="262.8" cy="159.8"/>
<circle class="s" cx="328.0" cy="152.9"/>
<circle class="s" cx="281.7" cy="164.2"/>
<circle class="m" cx="270.1" cy="147.4"/>
<circle class="s" cx="398.0" cy="178.0"/>
<circle class="s" cx="300.1" cy="170.2"/>
<circle class="m" cx="239.8" cy="173.2"/>
<circle class="s" cx="302.5" cy="170.1"/>
<circle class="s" cx="335.6" cy="163.2"/>
<circle class="s" cx="354.3" cy="177.8"/>
<circle class="s" cx="339.6" cy="167.3"/>
<circle class="m" cx="260.8" cy="156.2"/>
<circle class="m" cx="264.9" cy="171.2"/>
<circle class="s" cx="291.2" cy="160.5"/>
<circle class="s" cx="371.3" cy="175.9"/>
<circle class="m" cx="251.2" cy="151.6"/>
<circle class="s" cx="382.2" cy="177.0"/>
<circle class="s" cx="329.6" cy="174.8"/>
<circle class="m" cx="259.6" cy="154.0"/>
<circle class="m" cx="291.0" cy="150.0"/>
<circle class="s" cx="277.3" cy="170.9"/>
<circle class="m" cx="231.9" cy="150.9"/>
<circle class="m" cx="257.1" cy="151.6"/>
<circle class="m" cx="243.2" cy="161.9"/>
<circle class="m" cx="244.7" cy="151.7"/>
<circle class="m" cx="243.7" cy="160.8"/>
<circle class="m" cx="266.6" cy="151.9"/>
<circle class="s" cx="326.5" cy="156.5"/>
<circle class="m" cx="268.2" cy="175.6"/>
<circle class="m" cx="247.3" cy="163.2"/>
<circle class="m" cx="282.1" cy="171.3"/>
<circle class="s" cx="388.5" cy="176.3"/>
<circle class="m" cx="270.8" cy="171.6"/>
<circle class="s" cx="309.5" cy="168.2"/>
<circle class="m" cx="230.8" cy="158.8"/>
<circle class="s" cx="354.3" cy="170.5"/>
<circle class="m" cx="284.0" cy="160.0"/>
<circle class="s" cx="339.9" cy="175.0"/>
<circle class="m" cx="231.2" cy="156.3"/>
<circle class="m" cx="243.0" cy="174.8"/>
<circle class="m" cx="265.2" cy="154.9"/>
<circle class="s" cx="305.1" cy="159.6"/>
<circle class="s" cx="337.3" cy="156.4"/>
<circle class="m" cx="238.6" cy="153.2"/>
<circle class="m" cx="260.7" cy="178.6"/>
<circle class="m" cx="265.0" cy="156.8"/>
<circle class="s" cx="327.5" cy="169.6"/>
<circle class="m" cx="275.5" cy="156.0"/>
<circle class="m" cx="281.2" cy="171.8"/>
<circle class="s" cx="379.4" cy="166.0"/>
<circle class="m" cx="279.8" cy="157.6"/>
<circle class="s" cx="287.7" cy="156.7"/>
<circle class="s" cx="287.4" cy="171.4"/>
<circle class="s" cx="332.8" cy="159.2"/>
<circle class="m" cx="276.6" cy="157.4"/>
<circle class="s" cx="317.5" cy="161.2"/>
<circle class="s" cx="355.9" cy="173.6"/>
<circle class="m" cx="235.8" cy="153.2"/>
<circle class="m" cx="252.7" cy="155.4"/>
<circle class="s" cx="379.0" cy="153.0"/>
<circle class="s" cx="372.4" cy="170.6"/>
<circle class="s" cx="297.0" cy="157.8"/>
<circle class="s" cx="316.0" cy="160.6"/>
<circle class="s" cx="327.0" cy="188.0"/>
<circle class="s" cx="322.6" cy="158.2"/>
<circle class="s" cx="381.7" cy="178.9"/>
<circle class="s" cx="276.7" cy="178.2"/>
<circle class="s" cx="338.6" cy="165.4"/>
<circle class="m" cx="255.7" cy="166.2"/>
<circle class="s" cx="357.9" cy="158.9"/>
<circle class="s" cx="342.3" cy="164.5"/>
<circle class="m" cx="248.0" cy="170.7"/>
<circle class="s" cx="331.7" cy="155.9"/>
<circle class="s" cx="329.1" cy="166.1"/>
<circle class="m" cx="270.0" cy="182.0"/>
<circle class="s" cx="334.6" cy="160.3"/>
<circle class="s" cx="337.1" cy="178.7"/>
<circle class="s" cx="303.1" cy="176.3"/>
<circle class="s" cx="357.2" cy="177.4"/>
<circle class="s" cx="323.3" cy="172.5"/>
<circle class="s" cx="385.2" cy="167.5"/>
<circle class="m" cx="233.2" cy="177.7"/>
<circle class="m" cx="228.3" cy="172.4"/>
<circle class="s" cx="335.0" cy="187.0"/>
<circle class="s" cx="343.0" cy="160.5"/>
<circle class="s" cx="359.1" cy="155.9"/>
<circle class="s" cx="330.6" cy="173.7"/>
<circle class="s" cx="339.0" cy="168.5"/>
<circle class="s" cx="303.9" cy="158.5"/>
<circle class="m" cx="275.8" cy="171.1"/>
<circle class="s" cx="314.2" cy="178.7"/>
<circle class="m" cx="277.4" cy="176.8"/>
<circle class="s" cx="302.4" cy="172.4"/>
<circle class="s" cx="345.9" cy="169.3"/>
<circle class="s" cx="318.0" cy="160.4"/>
<circle class="s" cx="280.2" cy="174.4"/>
<circle class="m" cx="259.0" cy="173.8"/>
<circle class="s" cx="335.9" cy="165.9"/>
<circle class="m" cx="191.7" cy="153.0"/>
<circle class="s" cx="287.4" cy="164.6"/>
<circle class="s" cx="348.4" cy="171.5"/>
<circle class="m" cx="226.0" cy="142.0"/>
<circle class="s" cx="327.8" cy="181.8"/>
<circle class="s" cx="286.9" cy="169.2"/>
<circle class="s" cx="335.1" cy="174.7"/>
<circle class="m" cx="258.5" cy="156.5"/>
<circle class="m" cx="255.5" cy="175.1"/>
<circle class="s" cx="354.0" cy="166.0"/>
<circle class="s" cx="308.2" cy="169.0"/>
<circle class="m" cx="254.3" cy="157.4"/>
<circle class="s" cx="332.7" cy="161.1"/>
<circle class="s" cx="348.8" cy="158.7"/>
<circle class="m" cx="237.4" cy="160.5"/>
<circle class="m" cx="243.5" cy="152.4"/>
<circle class="m" cx="258.1" cy="172.8"/>
<circle class="s" cx="289.0" cy="169.3"/>
<circle class="m" cx="270.3" cy="157.0"/>
<circle class="s" cx="332.3" cy="168.6"/>
<circle class="s" cx="379.5" cy="178.4"/>
<circle class="s" cx="302.6" cy="161.0"/>
<circle class="s" cx="281.6" cy="176.8"/>
<circle class="s" cx="281.8" cy="168.9"/>
<circle class="s" cx="282.1" cy="177.8"/>
<circle class="s" cx="280.4" cy="169.5"/>
<circle class="s" cx="341.6" cy="173.8"/>
<circle class="s" cx="345.3" cy="172.7"/>
<circle class="s" cx="352.8" cy="169.1"/>
<circle class="s" cx="317.4" cy="156.5"/>
<circle class="m" cx="228.6" cy="162.6"/>
<circle class="s" cx="341.2" cy="179.4"/>
<circle class="m" cx="258.7" cy="166.0"/>
<circle class="m" cx="246.1" cy="151.7"/>
<circle class="s" cx="313.4" cy="162.7"/>
<circle class="s" cx="365.9" cy="169.6"/>
<circle class="m" cx="260.9" cy="176.6"/>
<circle class="m" cx="270.3" cy="157.7"/>
<circle class="m" cx="279.3" cy="160.9"/>
<circle class="s" cx="364.5" cy="176.1"/>
<circle class="s" cx="368.7" cy="169.0"/>
<circle class="m" cx="256.5" cy="147.5"/>
<circle class="m" cx="254.0" cy="169.8"/>
<circle class="m" cx="258.6" cy="146.3"/>
<circle class="s" cx="313.6" cy="170.8"/>
<circle class="s" cx="338.5" cy="164.7"/>
<circle class="s" cx="294.2" cy="175.9"/>
<circle class="m" cx="276.1" cy="175.2"/>
<circle class="s" cx="327.7" cy="157.8"/>
<circle class="m" cx="285.3" cy="150.1"/>
<circle class="m" cx="266.8" cy="173.6"/>
<circle class="m" cx="250.1" cy="149.0"/>
<circle class="m" cx="265.6" cy="171.5"/>
<circle class="m" cx="270.2" cy="155.3"/>
<circle class="s" cx="290.8" cy="169.6"/>
<circle class="s" cx="317.6" cy="180.8"/>
<circle class="m" cx="238.9" cy="159.5"/>
<circle class="s" cx="325.4" cy="173.6"/>
<circle class="m" cx="241.1" cy="163.5"/>
<circle class="m" cx="264.4" cy="158.5"/>
<circle class="s" cx="418.0" cy="175.0"/>
<circle class="s" cx="370.0" cy="188.0"/>
<circle class="m" cx="285.8" cy="167.9"/>
<circle class="s" cx="345.0" cy="186.0"/>
<circle class="s" cx="338.9" cy="158.4"/>
<circle class="s" cx="346.0" cy="167.3"/>
<circle class="m" cx="228.8" cy="164.0"/>
<circle class="s" cx="307.1" cy="173.8"/>
<circle class="s" cx="379.6" cy="168.5"/>
<circle class="m" cx="231.5" cy="152.7"/>
<circle class="m" cx="285.1" cy="169.8"/>
<circle class="s" cx="350.5" cy="164.6"/>
<circle class="s" cx="360.9" cy="158.0"/>
<circle class="s" cx="357.8" cy="169.3"/>
<circle class="s" cx="284.5" cy="172.7"/>
<circle class="m" cx="251.2" cy="172.1"/>
<circle class="m" cx="261.5" cy="185.0"/>
<circle class="m" cx="229.0" cy="180.0"/>
<circle class="s" cx="335.9" cy="173.2"/>
<circle class="s" cx="308.2" cy="171.5"/>
<circle class="m" cx="256.8" cy="162.4"/>
<circle class="s" cx="368.8" cy="163.7"/>
<circle class="s" cx="311.6" cy="154.4"/>
<circle class="s" cx="310.8" cy="159.3"/>
<circle class="m" cx="261.5" cy="163.8"/>
<circle class="m" cx="262.5" cy="161.0"/>
<circle class="m" cx="238.2" cy="172.0"/>
<circle class="s" cx="320.1" cy="168.5"/>
<circle class="s" cx="352.5" cy="184.9"/>
<circle class="m" cx="245.3" cy="173.5"/>
<circle class="m" cx="244.0" cy="166.5"/>
<circle class="m" cx="264.6" cy="176.3"/>
<circle class="s" cx="321.4" cy="165.8"/>
<circle class="s" cx="335.9" cy="177.7"/>
<circle class="s" cx="377.7" cy="176.6"/>
<circle class="s" cx="381.9" cy="171.1"/>
<circle class="s" cx="363.1" cy="164.9"/>
<circle class="m" cx="230.1" cy="172.0"/>
<circle class="s" cx="315.6" cy="172.3"/>
<circle class="s" cx="367.9" cy="169.4"/>
<circle class="m" cx="238.5" cy="147.9"/>
<circle class="s" cx="305.7" cy="162.7"/>
<circle class="m" cx="273.1" cy="155.1"/>
<circle class="m" cx="253.6" cy="170.5"/>
<circle class="s" cx="316.3" cy="176.2"/>
<circle class="s" cx="328.7" cy="157.2"/>
<circle class="s" cx="294.6" cy="157.2"/>
<circle class="m" cx="237.6" cy="170.6"/>
<circle class="m" cx="270.0" cy="156.8"/>
<circle class="s" cx="331.8" cy="179.8"/>
<circle class="g" cx="159.0" cy="76.8"/>
<circle class="g" cx="209.1" cy="107.5"/>
<circle class="g" cx="193.2" cy="125.4"/>
<circle class="g" cx="219.6" cy="125.0"/>
<circle class="g" cx="218.6" cy="114.5"/>
<circle class="g" cx="222.6" cy="116.4"/>
<circle class="g" cx="189.4" cy="119.2"/>
<circle class="g" cx="165.0" cy="88.3"/>
<circle class="g" cx="198.0" cy="107.7"/>
<circle class="g" cx="182.4" cy="98.3"/>
<circle class="g" cx="166.9" cy="85.4"/>
<circle class="g" cx="188.0" cy="110.0"/>
<circle class="g" cx="215.7" cy="118.0"/>
<circle class="g" cx="238.8" cy="128.7"/>
<circle class="g" cx="158.1" cy="86.4"/>
<circle class="g" cx="179.0" cy="98.0"/>
<circle class="g" cx="249.7" cy="134.4"/>
<circle class="g" cx="205.5" cy="129.6"/>
<circle class="g" cx="232.8" cy="131.5"/>
<circle class="g" cx="174.3" cy="89.3"/>
<circle class="g" cx="240.5" cy="129.1"/>
<circle class="g" cx="242.0" cy="127.3"/>
<circle class="g" cx="191.2" cy="98.9"/>
<circle class="g" cx="214.0" cy="110.0"/>
<circle class="g" cx="175.9" cy="91.4"/>
<circle class="g" cx="194.7" cy="114.5"/>
<circle class="g" cx="203.6" cy="109.4"/>
<circle class="g" cx="198.3" cy="124.7"/>
<circle class="g" cx="206.3" cy="126.9"/>
<circle class="g" cx="204.0" cy="110.5"/>
<circle class="g" cx="212.5" cy="105.8"/>
<circle class="g" cx="204.2" cy="102.4"/>
<circle class="g" cx="157.6" cy="86.0"/>
<circle class="g" cx="226.4" cy="115.8"/>
<circle class="g" cx="192.0" cy="105.2"/>
<circle class="g" cx="195.4" cy="109.3"/>
<circle class="g" cx="216.9" cy="107.5"/>
<circle class="g" cx="245.1" cy="132.5"/>
<circle class="g" cx="211.0" cy="122.1"/>
<circle class="g" cx="185.6" cy="111.5"/>
<circle class="g" cx="163.0" cy="83.8"/>
<circle class="g" cx="180.5" cy="107.1"/>
<circle class="g" cx="193.6" cy="107.7"/>
<circle class="g" cx="222.3" cy="117.1"/>
<circle class="g" cx="178.9" cy="80.2"/>
<circle class="g" cx="176.8" cy="93.4"/>
<circle class="g" cx="181.4" cy="97.8"/>
<circle class="g" cx="204.1" cy="121.9"/>
<circle class="g" cx="192.1" cy="96.4"/>
<circle class="g" cx="235.2" cy="132.3"/>
<circle class="g" cx="203.2" cy="129.2"/>
<circle class="g" cx="241.3" cy="120.4"/>
<circle class="g" cx="206.9" cy="114.5"/>
<circle class="g" cx="205.2" cy="117.2"/>
<circle class="g" cx="198.1" cy="118.6"/>
<circle class="g" cx="159.3" cy="80.3"/>
<circle class="g" cx="218.6" cy="122.4"/>
<circle class="g" cx="199.0" cy="103.9"/>
<circle class="g" cx="233.8" cy="141.5"/>
<circle class="g" cx="201.8" cy="104.4"/>
<circle class="g" cx="244.3" cy="123.6"/>
<circle class="g" cx="177.2" cy="91.4"/>
<circle class="g" cx="245.3" cy="132.1"/>
<circle class="g" cx="230.4" cy="118.3"/>
<circle class="g" cx="187.3" cy="92.2"/>
<circle class="g" cx="169.9" cy="81.6"/>
<circle class="g" cx="165.3" cy="85.4"/>
<circle class="g" cx="177.5" cy="87.9"/>
<circle class="g" cx="192.1" cy="101.7"/>
<circle class="g" cx="202.4" cy="117.4"/>
<circle class="g" cx="179.3" cy="98.9"/>
<circle class="g" cx="234.5" cy="133.1"/>
<circle class="g" cx="222.2" cy="118.0"/>
<circle class="g" cx="164.2" cy="88.4"/>
<circle class="g" cx="216.4" cy="135.6"/>
<circle class="g" cx="201.5" cy="121.6"/>
<circle class="g" cx="194.5" cy="117.7"/>
<circle class="g" cx="174.8" cy="100.7"/>
<circle class="g" cx="159.3" cy="73.5"/>
<circle class="g" cx="190.4" cy="94.8"/>
<circle class="g" cx="173.1" cy="95.2"/>
<circle class="g" cx="233.6" cy="126.2"/>
<circle class="g" cx="226.1" cy="139.3"/>
<circle class="g" cx="227.8" cy="136.7"/>
<circle class="g" cx="176.5" cy="104.7"/>
<circle class="g" cx="177.7" cy="101.5"/>
<circle class="g" cx="232.5" cy="122.0"/>
<circle class="g" cx="184.6" cy="93.3"/>
<circle class="g" cx="174.0" cy="98.7"/>
<circle class="g" cx="237.3" cy="117.7"/>
<circle class="g" cx="177.9" cy="87.3"/>
<circle class="g" cx="183.3" cy="99.4"/>
<circle class="g" cx="234.1" cy="118.9"/>
<circle class="g" cx="235.0" cy="131.7"/>
<circle class="g" cx="228.0" cy="137.7"/>
<circle class="g" cx="173.8" cy="98.6"/>
<circle class="g" cx="213.1" cy="117.9"/>
<circle class="g" cx="155.9" cy="77.6"/>
<circle class="g" cx="180.4" cy="113.2"/>
<circle class="g" cx="208.7" cy="118.1"/>
<circle class="g" cx="188.5" cy="109.0"/>
<circle class="g" cx="201.1" cy="129.5"/>
<circle class="g" cx="172.9" cy="100.2"/>
<circle class="g" cx="208.5" cy="124.7"/>
<circle class="g" cx="211.3" cy="112.0"/>
<circle class="g" cx="163.7" cy="81.1"/>
<circle class="g" cx="226.9" cy="127.4"/>
<circle class="g" cx="248.5" cy="133.4"/>
<circle class="g" cx="172.3" cy="90.2"/>
<circle class="g" cx="220.0" cy="134.6"/>
<circle class="g" cx="206.2" cy="115.3"/>
<circle class="g" cx="211.9" cy="134.3"/>
<circle class="g" cx="193.1" cy="128.2"/>
<circle class="g" cx="188.9" cy="128.1"/>
<circle class="g" cx="195.7" cy="108.6"/>
<circle class="g" cx="174.1" cy="79.4"/>
<circle class="g" cx="215.4" cy="110.1"/>
<circle class="g" cx="246.1" cy="123.4"/>
<circle class="g" cx="163.7" cy="85.2"/>
<circle class="g" cx="184.7" cy="90.9"/>
<circle class="g" cx="236.3" cy="122.9"/>
<circle class="g" cx="221.2" cy="133.6"/>
<circle class="g" cx="195.2" cy="129.8"/>
<circle class="g" cx="180.1" cy="87.1"/>
<circle class="g" cx="183.0" cy="86.5"/>
<circle class="g" cx="199.7" cy="130.0"/>
<circle class="g" cx="224.8" cy="114.0"/>
<circle class="g" cx="217.1" cy="121.9"/>
<circle class="g" cx="236.1" cy="132.5"/>
<circle class="g" cx="232.3" cy="115.6"/>
<circle class="g" cx="173.3" cy="94.1"/>
<circle class="g" cx="185.6" cy="94.0"/>
<circle class="g" cx="191.7" cy="104.3"/>
<circle class="g" cx="199.6" cy="128.3"/>
<circle class="g" cx="229.7" cy="120.0"/>
<circle class="g" cx="194.6" cy="101.0"/>
<circle class="g" cx="197.9" cy="107.0"/>
<circle class="g" cx="187.8" cy="92.6"/>
<circle class="g" cx="196.8" cy="127.7"/>
<circle class="g" cx="171.3" cy="91.9"/>
<circle class="g" cx="166.4" cy="88.7"/>
<circle class="g" cx="249.5" cy="128.5"/>
<circle class="g" cx="170.2" cy="100.5"/>
<circle class="g" cx="190.5" cy="125.0"/>
<circle class="g" cx="241.3" cy="124.8"/>
<circle class="g" cx="180.7" cy="117.4"/>
<circle class="g" cx="221.7" cy="117.0"/>
<circle class="g" cx="217.9" cy="135.6"/>
<circle class="g" cx="192.5" cy="106.6"/>
<circle class="g" cx="204.1" cy="120.3"/>
<circle class="g" cx="192.9" cy="102.1"/>
<circle class="g" cx="231.9" cy="116.1"/>
<circle class="g" cx="214.5" cy="130.0"/>
<circle class="g" cx="178.3" cy="88.8"/>
<circle class="g" cx="218.2" cy="117.1"/>
<circle class="g" cx="243.6" cy="125.4"/>
<circle class="g" cx="244.0" cy="126.5"/>
<circle class="g" cx="230.7" cy="116.2"/>
<circle class="g" cx="206.3" cy="123.0"/>
<circle class="g" cx="177.6" cy="87.8"/>
<circle class="g" cx="201.0" cy="106.6"/>
<circle class="g" cx="207.0" cy="119.9"/>
<circle class="g" cx="213.8" cy="115.2"/>
<circle class="g" cx="199.6" cy="110.3"/>
<circle class="g" cx="193.3" cy="113.5"/>
<circle class="g" cx="188.1" cy="107.0"/>
<circle class="g" cx="216.8" cy="129.0"/>
<circle class="g" cx="212.8" cy="117.2"/>
<circle class="g" cx="216.1" cy="126.3"/>
<circle class="g" cx="214.1" cy="120.1"/>
<circle class="g" cx="227.5" cy="138.7"/>
<circle class="g" cx="176.8" cy="94.1"/>
<circle class="g" cx="192.2" cy="113.3"/>
<circle class="g" cx="225.1" cy="133.5"/>
<circle class="g" cx="216.0" cy="131.9"/>
<circle class="g" cx="188.1" cy="111.5"/>
<circle class="g" cx="214.4" cy="117.9"/>
<circle class="g" cx="246.3" cy="127.8"/>
<circle class="g" cx="181.0" cy="103.4"/>
<circle class="g" cx="212.0" cy="135.4"/>
<circle class="g" cx="179.3" cy="98.5"/>
<circle class="g" cx="232.7" cy="136.2"/>
<circle class="g" cx="232.3" cy="120.7"/>
<circle class="g" cx="207.2" cy="124.8"/>
<circle class="g" cx="172.8" cy="87.7"/>
<circle class="g" cx="208.1" cy="135.2"/>
<circle class="g" cx="169.6" cy="85.4"/>
<circle class="g" cx="196.9" cy="109.6"/>
<circle class="g" cx="214.0" cy="126.7"/>
<circle class="g" cx="247.7" cy="125.8"/>
<circle class="g" cx="155.8" cy="85.7"/>
<circle class="g" cx="210.7" cy="132.4"/>
<circle class="g" cx="207.5" cy="115.7"/>
<circle class="g" cx="179.6" cy="94.7"/>
<circle class="g" cx="223.6" cy="117.7"/>
<circle class="g" cx="226.8" cy="140.4"/>
<circle class="g" cx="183.2" cy="89.6"/>
<circle class="g" cx="177.9" cy="81.5"/>
<circle class="g" cx="246.4" cy="134.5"/>
<circle class="g" cx="234.7" cy="118.5"/>
<circle class="g" cx="201.3" cy="118.3"/>
<circle class="g" cx="242.6" cy="123.4"/>
<circle class="g" cx="181.5" cy="93.1"/>
<circle class="g" cx="166.3" cy="77.7"/>
<circle class="g" cx="220.3" cy="127.9"/>
<circle class="g" cx="199.4" cy="125.3"/>
<circle class="g" cx="180.2" cy="81.0"/>
<circle class="g" cx="167.7" cy="97.4"/>
<circle class="g" cx="201.8" cy="102.8"/>
<circle class="g" cx="225.7" cy="127.0"/>
<circle class="g" cx="234.4" cy="139.7"/>
<circle class="g" cx="215.2" cy="110.9"/>
<circle class="g" cx="176.5" cy="85.9"/>
<circle class="g" cx="205.6" cy="111.5"/>
<circle class="g" cx="212.9" cy="131.0"/>
<circle class="g" cx="244.5" cy="129.3"/>
<circle class="g" cx="192.4" cy="101.4"/>
<circle class="g" cx="244.0" cy="128.4"/>
<circle class="g" cx="190.7" cy="120.1"/>
<circle class="g" cx="224.7" cy="132.9"/>
<circle class="g" cx="246.0" cy="135.7"/>
<circle class="g" cx="184.0" cy="107.4"/>
<circle class="g" cx="167.8" cy="112.3"/>
<circle class="g" cx="179.3" cy="91.3"/>
<circle class="g" cx="199.7" cy="111.0"/>
<circle class="g" cx="162.0" cy="93.9"/>
<circle class="g" cx="202.4" cy="128.0"/>
<circle class="g" cx="203.2" cy="115.7"/>
<circle class="g" cx="172.0" cy="86.6"/>
<circle class="g" cx="172.3" cy="111.1"/>
<circle class="g" cx="190.4" cy="100.7"/>
<circle class="g" cx="182.9" cy="91.4"/>
<circle class="g" cx="230.4" cy="129.2"/>
<circle class="g" cx="219.3" cy="126.6"/>
<circle class="g" cx="228.4" cy="142.5"/>
<circle class="g" cx="215.5" cy="105.5"/>
<circle class="g" cx="197.4" cy="123.3"/>
<circle class="g" cx="183.5" cy="105.1"/>
<circle class="g" cx="177.3" cy="97.7"/>
<circle class="g" cx="217.0" cy="117.5"/>
<circle class="g" cx="236.9" cy="143.9"/>
<circle class="g" cx="200.6" cy="122.6"/>
<circle class="g" cx="184.3" cy="97.8"/>
<circle class="g" cx="235.6" cy="140.6"/>
<circle class="g" cx="187.0" cy="106.8"/>
<circle class="g" cx="99.7" cy="58.6"/>
<circle class="g" cx="106.7" cy="68.5"/>
<circle class="g" cx="113.7" cy="66.1"/>
<circle class="g" cx="118.0" cy="62.4"/>
<circle class="g" cx="114.8" cy="67.8"/>
<circle class="g" cx="111.0" cy="78.5"/>
<circle class="g" cx="114.2" cy="79.6"/>
<circle class="g" cx="118.0" cy="76.4"/>
<circle class="g" cx="122.3" cy="85.5"/>
<circle class="g" cx="126.6" cy="76.9"/>
<circle class="g" cx="132.0" cy="74.8"/>
<circle class="g" cx="133.0" cy="82.8"/>
<circle class="g" cx="137.4" cy="81.8"/>
<circle class="g" cx="121.8" cy="93.6"/>
<circle class="g" cx="126.6" cy="89.8"/>
<circle class="g" cx="129.3" cy="99.5"/>
<circle class="g" cx="134.1" cy="104.9"/>
<circle class="g" cx="135.2" cy="94.1"/>
<circle class="g" cx="139.5" cy="97.4"/>
<circle class="g" cx="140.6" cy="103.8"/>
<circle class="g" cx="144.9" cy="87.7"/>
<circle class="g" cx="146.0" cy="95.2"/>
<circle class="g" cx="150.3" cy="99.5"/>
<circle class="g" cx="147.0" cy="110.3"/>
<circle class="g" cx="150.8" cy="114.6"/>
<circle class="g" cx="155.7" cy="108.1"/>
<circle class="g" cx="156.2" cy="122.7"/>
<circle class="g" cx="160.0" cy="117.3"/>
<circle class="g" cx="166.4" cy="122.1"/>
<circle class="g" cx="166.4" cy="127.5"/>
<circle class="g" cx="160.0" cy="99.5"/>
<circle class="g" cx="165.3" cy="102.7"/>
<circle class="g" cx="170.7" cy="110.3"/>
<circle class="g" cx="141.1" cy="67.8"/>
<circle class="g" cx="150.3" cy="66.1"/>
<circle class="g" cx="179.3" cy="82.3"/>
<circle class="g" cx="179.4" cy="82.4"/>
<circle class="g" cx="220.3" cy="100.7"/>
<circle class="g" cx="218.7" cy="112.0"/>
<circle class="g" cx="237.0" cy="117.4"/>
<circle class="g" cx="250.4" cy="130.8"/>
<circle class="g" cx="166.5" cy="122.7"/>
<circle class="g" cx="166.5" cy="128.7"/>
<circle class="g" cx="174.0" cy="135.7"/>
<circle class="g" cx="177.8" cy="138.9"/>
<circle class="g" cx="181.5" cy="125.4"/>
<circle class="g" cx="170.8" cy="110.9"/>
<circle class="g" cx="162.2" cy="117.4"/>
<circle class="g" cx="164.3" cy="108.8"/>
<circle class="g" cx="131.0" cy="85.0"/>
<circle class="g" cx="128.0" cy="80.0"/>
<circle class="g" cx="124.0" cy="83.0"/>
<circle class="g" cx="136.0" cy="90.0"/>
<circle class="g" cx="143.0" cy="92.0"/>
<circle class="g" cx="153.0" cy="104.0"/>
<circle class="g" cx="158.0" cy="112.0"/>
<circle class="g" cx="162.0" cy="106.0"/>
<circle class="g" cx="116.0" cy="72.0"/>
<circle class="g" cx="110.0" cy="66.0"/>
<circle class="g" cx="145.0" cy="72.0"/>
<circle class="g" cx="152.0" cy="70.0"/>
<circle class="g" cx="197.0" cy="152.1"/>
<circle class="g" cx="188.3" cy="161.7"/>
<circle class="g" cx="218.0" cy="154.7"/>
<circle class="g" cx="229.4" cy="153.9"/>
<circle class="g" cx="232.0" cy="149.0"/>
<circle class="g" cx="240.0" cy="146.0"/>
<circle class="g" cx="246.0" cy="143.0"/>
<circle class="g" cx="252.0" cy="140.0"/>
<circle class="g" cx="244.0" cy="136.0"/>
<circle class="g" cx="228.0" cy="146.0"/>
<circle class="g" cx="212.0" cy="145.0"/>
<circle class="g" cx="200.0" cy="142.0"/>
<circle class="g" cx="206.0" cy="148.0"/>
<circle class="t" cx="273.8" cy="188.2"/>
<circle class="t" cx="265.9" cy="193.0"/>
<circle class="t" cx="302.6" cy="189.0"/>
<circle class="t" cx="300.5" cy="188.6"/>
<circle class="t" cx="259.4" cy="187.2"/>
<circle class="t" cx="263.7" cy="207.1"/>
<circle class="t" cx="295.9" cy="195.7"/>
<circle class="t" cx="270.0" cy="189.2"/>
<circle class="t" cx="233.9" cy="194.7"/>
<circle class="t" cx="248.1" cy="202.8"/>
<circle class="t" cx="241.1" cy="197.9"/>
<circle class="t" cx="306.0" cy="187.8"/>
<circle class="t" cx="256.4" cy="200.2"/>
<circle class="t" cx="259.5" cy="184.3"/>
<circle class="t" cx="258.2" cy="191.0"/>
<circle class="t" cx="261.7" cy="197.2"/>
<circle class="t" cx="286.0" cy="196.8"/>
<circle class="t" cx="299.3" cy="194.6"/>
<circle class="t" cx="272.6" cy="197.9"/>
<circle class="t" cx="242.3" cy="200.1"/>
<circle class="t" cx="239.1" cy="196.3"/>
<circle class="t" cx="252.8" cy="201.9"/>
<circle class="t" cx="249.0" cy="193.6"/>
<circle class="t" cx="290.0" cy="195.2"/>
<circle class="t" cx="308.7" cy="193.1"/>
<circle class="t" cx="238.3" cy="189.2"/>
<circle class="t" cx="266.3" cy="210.6"/>
<circle class="t" cx="270.1" cy="188.3"/>
<circle class="t" cx="264.3" cy="194.4"/>
<circle class="t" cx="260.3" cy="197.8"/>
<circle class="t" cx="306.4" cy="195.1"/>
<circle class="t" cx="266.7" cy="201.9"/>
<circle class="t" cx="270.3" cy="196.4"/>
<circle class="t" cx="292.6" cy="192.4"/>
<circle class="t" cx="250.6" cy="201.6"/>
<circle class="t" cx="279.4" cy="189.4"/>
<circle class="t" cx="300.3" cy="188.1"/>
<circle class="t" cx="298.3" cy="191.3"/>
<circle class="t" cx="265.5" cy="198.9"/>
<circle class="t" cx="305.9" cy="195.3"/>
<circle class="t" cx="276.9" cy="188.9"/>
<circle class="t" cx="267.3" cy="197.3"/>
<circle class="t" cx="314.1" cy="189.6"/>
<circle class="t" cx="279.4" cy="202.0"/>
<circle class="t" cx="255.6" cy="206.7"/>
<circle class="t" cx="285.0" cy="193.9"/>
<circle class="t" cx="241.6" cy="198.1"/>
<circle class="t" cx="233.8" cy="191.0"/>
<circle class="t" cx="235.7" cy="198.9"/>
<circle class="t" cx="269.8" cy="190.7"/>
<circle class="t" cx="239.9" cy="189.6"/>
<circle class="t" cx="297.2" cy="194.1"/>
<circle class="t" cx="267.7" cy="191.9"/>
<circle class="t" cx="266.9" cy="190.5"/>
<circle class="t" cx="262.2" cy="201.4"/>
<circle class="t" cx="275.4" cy="188.7"/>
<circle class="t" cx="239.2" cy="189.9"/>
<circle class="t" cx="268.8" cy="189.8"/>
<circle class="t" cx="291.0" cy="186.6"/>
<circle class="t" cx="265.8" cy="191.4"/>
<circle class="t" cx="255.6" cy="197.9"/>
<circle class="t" cx="293.3" cy="195.5"/>
<circle class="t" cx="274.4" cy="196.7"/>
<circle class="t" cx="262.8" cy="200.8"/>
<circle class="t" cx="257.6" cy="200.0"/>
<circle class="t" cx="295.7" cy="191.5"/>
<circle class="t" cx="246.2" cy="194.2"/>
<circle class="t" cx="237.4" cy="200.2"/>
<circle class="t" cx="305.9" cy="189.1"/>
<circle class="t" cx="306.8" cy="190.2"/>
<circle class="t" cx="237.6" cy="191.4"/>
<circle class="t" cx="261.1" cy="186.7"/>
<circle class="t" cx="242.2" cy="189.9"/>
<circle class="t" cx="247.7" cy="200.8"/>
<circle class="t" cx="265.3" cy="194.1"/>
<circle class="t" cx="264.9" cy="199.6"/>
<circle class="t" cx="253.6" cy="199.4"/>
<circle class="t" cx="252.6" cy="201.5"/>
<circle class="t" cx="299.4" cy="198.4"/>
<circle class="t" cx="272.9" cy="195.7"/>
<circle class="t" cx="263.8" cy="214.5"/>
<circle class="t" cx="313.0" cy="187.9"/>
<circle class="t" cx="304.7" cy="190.9"/>
<circle class="t" cx="245.1" cy="195.5"/>
<circle class="t" cx="283.9" cy="186.5"/>
<circle class="t" cx="260.6" cy="197.5"/>
<circle class="t" cx="262.5" cy="199.4"/>
<circle class="t" cx="267.9" cy="194.7"/>
<circle class="t" cx="289.0" cy="190.1"/>
<circle class="t" cx="247.8" cy="193.5"/>
<circle class="t" cx="292.8" cy="188.0"/>
<circle class="t" cx="303.3" cy="193.8"/>
<circle class="t" cx="309.8" cy="193.9"/>
<circle class="t" cx="249.2" cy="190.5"/>
<circle class="t" cx="271.6" cy="195.3"/>
<circle class="t" cx="290.3" cy="197.9"/>
<circle class="t" cx="275.0" cy="191.5"/>
<circle class="t" cx="291.6" cy="196.9"/>
<circle class="t" cx="260.3" cy="202.3"/>
<circle class="t" cx="294.0" cy="196.7"/>
<circle class="t" cx="253.6" cy="183.7"/>
<circle class="t" cx="237.6" cy="201.5"/>
<circle class="t" cx="272.8" cy="194.4"/>
<circle class="t" cx="279.4" cy="192.1"/>
<circle class="t" cx="261.4" cy="201.7"/>
<circle class="t" cx="246.9" cy="192.8"/>
<circle class="t" cx="282.1" cy="200.0"/>
<circle class="t" cx="253.6" cy="202.0"/>
<circle class="t" cx="260.7" cy="197.8"/>
<circle class="t" cx="278.0" cy="184.0"/>
<circle class="t" cx="290.5" cy="189.2"/>
<circle class="t" cx="305.9" cy="189.3"/>
<circle class="t" cx="278.4" cy="191.4"/>
<circle class="t" cx="267.5" cy="200.7"/>
<circle class="t" cx="298.2" cy="190.9"/>
<circle class="t" cx="289.3" cy="197.2"/>
<circle class="t" cx="248.6" cy="199.2"/>
<circle class="t" cx="296.3" cy="186.8"/>
<circle class="t" cx="253.2" cy="196.8"/>
<circle class="t" cx="298.4" cy="193.2"/>
<circle class="t" cx="234.3" cy="193.4"/>
<circle class="t" cx="254.1" cy="202.8"/>
<circle class="t" cx="301.6" cy="200.6"/>
<circle class="t" cx="304.4" cy="187.9"/>
<circle class="t" cx="258.7" cy="206.4"/>
<circle class="t" cx="251.5" cy="190.0"/>
<circle class="t" cx="288.5" cy="183.2"/>
<circle class="t" cx="259.5" cy="209.2"/>
<circle class="t" cx="305.3" cy="195.0"/>
<circle class="t" cx="259.1" cy="186.9"/>
<circle class="t" cx="297.5" cy="197.4"/>
<circle class="t" cx="261.6" cy="194.7"/>
<circle class="t" cx="246.3" cy="196.3"/>
<circle class="t" cx="281.5" cy="200.0"/>
<circle class="t" cx="252.7" cy="191.9"/>
<circle class="t" cx="290.8" cy="190.1"/>
<circle class="t" cx="273.1" cy="190.5"/>
<circle class="t" cx="259.3" cy="184.1"/>
<circle class="t" cx="254.9" cy="200.0"/>
<circle class="t" cx="301.6" cy="192.6"/>
<circle class="t" cx="293.9" cy="197.3"/>
<circle class="t" cx="245.4" cy="195.2"/>
<circle class="t" cx="284.9" cy="194.1"/>
<circle class="t" cx="268.8" cy="201.8"/>
<circle class="t" cx="263.7" cy="193.8"/>
<circle class="t" cx="276.3" cy="197.1"/>
<circle class="t" cx="274.5" cy="195.6"/>
<circle class="t" cx="243.0" cy="188.9"/>
<circle class="t" cx="266.7" cy="198.5"/>
<circle class="t" cx="292.6" cy="192.2"/>
<circle class="t" cx="253.0" cy="197.2"/>
<circle class="t" cx="266.3" cy="206.7"/>
<circle class="t" cx="264.9" cy="204.3"/>
<circle class="t" cx="287.2" cy="197.7"/>
<circle class="t" cx="257.9" cy="189.4"/>
<circle class="t" cx="254.4" cy="188.1"/>
<circle class="t" cx="292.5" cy="190.5"/>
<circle class="t" cx="262.0" cy="206.6"/>
<circle class="t" cx="297.9" cy="196.6"/>
<circle class="t" cx="249.0" cy="196.7"/>
<circle class="t" cx="284.3" cy="192.9"/>
<circle class="t" cx="243.7" cy="196.7"/>
<circle class="t" cx="245.1" cy="192.8"/>
<circle class="t" cx="257.9" cy="203.6"/>
<circle class="t" cx="296.1" cy="188.2"/>
<circle class="t" cx="277.4" cy="187.7"/>
<circle class="t" cx="289.8" cy="204.2"/>
<circle class="t" cx="258.1" cy="194.3"/>
<circle class="t" cx="306.7" cy="192.3"/>
<circle class="t" cx="253.7" cy="190.4"/>
<circle class="t" cx="238.6" cy="190.8"/>
<circle class="t" cx="264.3" cy="191.3"/>
<circle class="t" cx="295.5" cy="191.2"/>
<circle class="t" cx="277.5" cy="197.7"/>
<circle class="t" cx="286.7" cy="189.1"/>
<circle class="t" cx="258.5" cy="196.3"/>
<circle class="t" cx="285.0" cy="195.2"/>
<circle class="t" cx="253.9" cy="188.4"/>
<circle class="t" cx="259.8" cy="194.1"/>
<circle class="t" cx="246.8" cy="198.5"/>
<circle class="t" cx="291.5" cy="190.3"/>
<circle class="t" cx="311.8" cy="192.0"/>
<circle class="t" cx="299.9" cy="191.6"/>
<circle class="t" cx="267.7" cy="198.8"/>
<circle class="t" cx="296.4" cy="192.5"/>
<circle class="t" cx="288.6" cy="201.4"/>
<circle class="t" cx="288.8" cy="197.4"/>
<circle class="t" cx="265.5" cy="192.9"/>
<circle class="t" cx="287.5" cy="198.0"/>
<circle class="t" cx="258.7" cy="193.5"/>
<circle class="t" cx="295.3" cy="190.4"/>
<circle class="t" cx="277.6" cy="199.1"/>
<circle class="t" cx="260.5" cy="201.7"/>
<circle class="t" cx="241.0" cy="191.1"/>
<circle class="t" cx="293.2" cy="196.2"/>
<circle class="t" cx="280.5" cy="194.7"/>
<circle class="t" cx="237.6" cy="196.4"/>
<circle class="t" cx="276.3" cy="194.8"/>
<circle class="t" cx="289.7" cy="195.3"/>
<circle class="t" cx="264.7" cy="190.3"/>
<circle class="t" cx="309.8" cy="191.7"/>
<circle class="t" cx="302.4" cy="193.1"/>
<circle class="t" cx="297.8" cy="197.6"/>
<circle class="t" cx="292.1" cy="196.9"/>
<circle class="t" cx="268.4" cy="188.8"/>
<circle class="t" cx="237.4" cy="191.8"/>
<circle class="t" cx="257.4" cy="194.6"/>
<circle class="t" cx="296.7" cy="190.9"/>
<circle class="t" cx="258.7" cy="201.9"/>
<circle class="t" cx="240.1" cy="189.0"/>
<circle class="t" cx="272.5" cy="189.6"/>
<circle class="t" cx="297.5" cy="189.7"/>
<circle class="t" cx="245.5" cy="188.6"/>
<circle class="t" cx="261.3" cy="206.3"/>
<circle class="t" cx="265.0" cy="204.2"/>
<circle class="t" cx="312.4" cy="189.9"/>
<circle class="t" cx="288.5" cy="195.1"/>
<circle class="t" cx="306.1" cy="191.3"/>
<circle class="t" cx="275.7" cy="190.6"/>
<circle class="t" cx="291.8" cy="198.8"/>
<circle class="t" cx="252.2" cy="186.9"/>
<circle class="t" cx="256.7" cy="191.8"/>
<circle class="t" cx="259.6" cy="202.9"/>
<circle class="t" cx="239.0" cy="189.8"/>
<circle class="t" cx="280.4" cy="201.1"/>
<circle class="t" cx="300.5" cy="194.5"/>
<circle class="t" cx="259.5" cy="209.7"/>
<circle class="t" cx="288.6" cy="192.0"/>
<circle class="t" cx="283.3" cy="195.1"/>
<circle class="t" cx="312.3" cy="192.6"/>
<circle class="t" cx="218.2" cy="189.8"/>
<circle class="t" cx="229.8" cy="201.3"/>
<circle class="t" cx="330.1" cy="202.2"/>
<circle class="t" cx="338.1" cy="197.8"/>
<circle class="t" cx="336.4" cy="189.8"/>
<circle class="t" cx="339.0" cy="188.8"/>
<circle class="t" cx="337.2" cy="198.4"/>
<circle class="t" cx="329.5" cy="202.2"/>
<circle class="t" cx="227.0" cy="196.0"/>
<circle class="t" cx="322.0" cy="195.0"/>
<circle class="t" cx="310.0" cy="198.0"/>
<line x1="100" y1="184.4" x2="457.6" y2="184.4" stroke="#000" stroke-width="2"/>
<line x1="287.5" y1="58.2" x2="287.5" y2="303.5" stroke="#FF0000" stroke-width="2"/>
<rect x="82.5" y="46.8" width="392.9" height="268.0" fill="none" stroke="#000" stroke-width="1.5"/>
<line x1="197.3" y1="314.8" x2="197.3" y2="321.1" stroke="#000" stroke-width="1.5"/>
<text transform="translate(197.3,342.1) scale(1,1.06)" text-anchor="middle" font-size="20" fill="#4d4d4d">0.05</text>
<line x1="335.65" y1="314.8" x2="335.65" y2="321.1" stroke="#000" stroke-width="1.5"/>
<text transform="translate(335.65,342.1) scale(1,1.06)" text-anchor="middle" font-size="20" fill="#4d4d4d">0.10</text>
<line x1="474.0" y1="314.8" x2="474.0" y2="321.1" stroke="#000" stroke-width="1.5"/>
<text transform="translate(474.0,342.1) scale(1,1.06)" text-anchor="middle" font-size="20" fill="#4d4d4d">0.15</text>
<line x1="76.2" y1="126.9" x2="82.5" y2="126.9" stroke="#000" stroke-width="1.5"/>
<text transform="translate(69.9,134.5) scale(1,1.06)" text-anchor="end" font-size="20" fill="#4d4d4d">0.5</text>
<line x1="76.2" y1="226.7" x2="82.5" y2="226.7" stroke="#000" stroke-width="1.5"/>
<text transform="translate(69.9,234.29999999999998) scale(1,1.06)" text-anchor="end" font-size="20" fill="#4d4d4d">0.0</text>
<text transform="translate(278.9,371.7) scale(1,1.01)" text-anchor="middle" font-size="25.5" fill="#000">green</text>
<text transform="translate(31.0,180.8) rotate(-90) scale(1,1.01)" text-anchor="middle" font-size="25.5" fill="#000">GNDVI</text>
<circle class="o" cx="134.5" cy="523.0"/>
<circle class="o" cx="126.6" cy="552.9"/>
<circle class="o" cx="127.8" cy="553.9"/>
<circle class="o" cx="147.7" cy="520.0"/>
<circle class="o" cx="115.9" cy="542.3"/>
<circle class="o" cx="123.3" cy="571.0"/>
<circle class="o" cx="118.7" cy="525.2"/>
<circle class="o" cx="129.4" cy="520.6"/>
<circle class="o" cx="137.1" cy="551.6"/>
<circle class="o" cx="129.4" cy="520.2"/>
<circle class="o" cx="137.9" cy="542.7"/>
<circle class="o" cx="128.6" cy="562.3"/>
<circle class="o" cx="121.9" cy="557.8"/>
<circle class="o" cx="112.8" cy="565.4"/>
<circle class="o" cx="125.8" cy="527.2"/>
<circle class="o" cx="139.3" cy="545.5"/>
<circle class="o" cx="120.3" cy="548.9"/>
<circle class="o" cx="107.8" cy="568.2"/>
<circle class="o" cx="144.5" cy="522.8"/>
<circle class="o" cx="139.3" cy="513.6"/>
<circle class="o" cx="137.2" cy="524.8"/>
<circle class="o" cx="134.0" cy="557.1"/>
<circle class="o" cx="127.6" cy="557.3"/>
<circle class="o" cx="125.9" cy="552.8"/>
<circle class="o" cx="142.8" cy="512.9"/>
<circle class="o" cx="127.0" cy="520.6"/>
<circle class="o" cx="124.8" cy="531.2"/>
<circle class="o" cx="134.3" cy="554.7"/>
<circle class="o" cx="132.1" cy="565.9"/>
<circle class="o" cx="116.4" cy="559.7"/>
<circle class="o" cx="112.0" cy="527.1"/>
<circle class="o" cx="106.9" cy="535.2"/>
<circle class="o" cx="132.3" cy="545.2"/>
<circle class="o" cx="138.6" cy="514.4"/>
<circle class="o" cx="147.4" cy="517.4"/>
<circle class="o" cx="128.1" cy="528.1"/>
<circle class="o" cx="127.5" cy="539.5"/>
<circle class="o" cx="122.2" cy="572.7"/>
<circle class="o" cx="111.5" cy="558.2"/>
<circle class="o" cx="136.9" cy="548.8"/>
<circle class="o" cx="146.9" cy="521.9"/>
<circle class="o" cx="120.6" cy="519.4"/>
<circle class="o" cx="119.4" cy="564.0"/>
<circle class="o" cx="139.9" cy="538.7"/>
<circle class="o" cx="136.9" cy="537.7"/>
<circle class="o" cx="149.2" cy="512.8"/>
<circle class="o" cx="111.5" cy="550.7"/>
<circle class="o" cx="110.8" cy="546.9"/>
<circle class="o" cx="125.1" cy="529.6"/>
<circle class="o" cx="134.5" cy="549.4"/>
<circle class="o" cx="118.6" cy="571.5"/>
<circle class="o" cx="133.4" cy="560.4"/>
<circle class="o" cx="110.9" cy="544.6"/>
<circle class="o" cx="134.6" cy="547.5"/>
<circle class="o" cx="122.2" cy="525.5"/>
<circle class="o" cx="135.9" cy="535.0"/>
<circle class="o" cx="135.7" cy="543.4"/>
<circle class="o" cx="129.4" cy="552.9"/>
<circle class="o" cx="123.5" cy="579.1"/>
<circle class="o" cx="106.0" cy="545.3"/>
<circle class="o" cx="136.5" cy="553.6"/>
<circle class="o" cx="143.7" cy="519.3"/>
<circle class="o" cx="121.9" cy="550.2"/>
<circle class="o" cx="130.6" cy="521.1"/>
<circle class="o" cx="117.3" cy="557.9"/>
<circle class="o" cx="121.9" cy="567.8"/>
<circle class="o" cx="123.9" cy="559.0"/>
<circle class="o" cx="119.5" cy="533.6"/>
<circle class="o" cx="106.9" cy="566.1"/>
<circle class="o" cx="118.3" cy="553.1"/>
<circle class="o" cx="130.8" cy="562.8"/>
<circle class="o" cx="112.0" cy="529.4"/>
<circle class="o" cx="113.2" cy="531.8"/>
<circle class="o" cx="116.2" cy="580.3"/>
<circle class="o" cx="109.5" cy="544.3"/>
<circle class="o" cx="113.8" cy="553.0"/>
<circle class="o" cx="140.6" cy="512.1"/>
<circle class="o" cx="129.3" cy="553.9"/>
<circle class="o" cx="136.8" cy="539.4"/>
<circle class="o" cx="111.3" cy="574.3"/>
<circle class="o" cx="119.3" cy="535.9"/>
<circle class="o" cx="118.8" cy="527.1"/>
<circle class="o" cx="135.8" cy="534.1"/>
<circle class="o" cx="118.0" cy="529.6"/>
<circle class="o" cx="133.1" cy="530.4"/>
<circle class="o" cx="123.2" cy="564.3"/>
<circle class="o" cx="117.7" cy="549.9"/>
<circle class="o" cx="140.9" cy="528.0"/>
<circle class="o" cx="135.5" cy="543.1"/>
<circle class="o" cx="108.6" cy="547.1"/>
<circle class="o" cx="119.5" cy="580.3"/>
<circle class="o" cx="135.3" cy="540.3"/>
<circle class="o" cx="133.5" cy="525.5"/>
<circle class="o" cx="125.5" cy="553.1"/>
<circle class="o" cx="113.8" cy="529.1"/>
<circle class="o" cx="118.7" cy="540.8"/>
<circle class="o" cx="130.4" cy="571.9"/>
<circle class="o" cx="113.4" cy="538.5"/>
<circle class="o" cx="121.2" cy="537.3"/>
<circle class="o" cx="138.5" cy="519.9"/>
<circle class="o" cx="124.8" cy="531.3"/>
<circle class="o" cx="139.0" cy="531.7"/>
<circle class="o" cx="114.4" cy="567.0"/>
<circle class="o" cx="112.1" cy="524.5"/>
<circle class="o" cx="119.1" cy="579.0"/>
<circle class="o" cx="114.1" cy="569.0"/>
<circle class="o" cx="111.8" cy="529.0"/>
<circle class="o" cx="123.1" cy="562.7"/>
<circle class="o" cx="110.3" cy="562.9"/>
<circle class="o" cx="110.1" cy="539.7"/>
<circle class="o" cx="137.9" cy="517.4"/>
<circle class="o" cx="139.0" cy="526.7"/>
<circle class="o" cx="119.4" cy="543.3"/>
<circle class="o" cx="121.1" cy="568.0"/>
<circle class="o" cx="140.7" cy="523.3"/>
<circle class="o" cx="127.6" cy="542.6"/>
<circle class="o" cx="115.4" cy="537.8"/>
<circle class="o" cx="119.6" cy="552.5"/>
<circle class="o" cx="137.1" cy="520.9"/>
<circle class="o" cx="123.7" cy="528.6"/>
<circle class="o" cx="109.4" cy="571.5"/>
<circle class="o" cx="137.6" cy="546.7"/>
<circle class="o" cx="107.9" cy="564.9"/>
<circle class="o" cx="132.5" cy="536.3"/>
<circle class="o" cx="139.0" cy="542.1"/>
<circle class="o" cx="132.5" cy="535.3"/>
<circle class="o" cx="114.1" cy="536.7"/>
<circle class="o" cx="130.2" cy="516.1"/>
<circle class="o" cx="109.9" cy="557.5"/>
<circle class="o" cx="123.9" cy="521.8"/>
<circle class="o" cx="134.9" cy="540.8"/>
<circle class="o" cx="138.2" cy="557.2"/>
<circle class="o" cx="114.6" cy="569.9"/>
<circle class="o" cx="128.5" cy="527.3"/>
<circle class="o" cx="135.3" cy="513.4"/>
<circle class="o" cx="148.1" cy="518.9"/>
<circle class="o" cx="119.6" cy="539.0"/>
<circle class="o" cx="132.9" cy="558.7"/>
<circle class="o" cx="131.4" cy="559.6"/>
<circle class="o" cx="134.9" cy="536.6"/>
<circle class="o" cx="112.0" cy="533.0"/>
<circle class="o" cx="120.5" cy="565.8"/>
<circle class="o" cx="117.6" cy="564.7"/>
<circle class="o" cx="111.9" cy="560.2"/>
<circle class="o" cx="136.3" cy="521.5"/>
<circle class="o" cx="136.8" cy="549.8"/>
<circle class="o" cx="138.3" cy="564.6"/>
<circle class="o" cx="110.2" cy="544.4"/>
<circle class="o" cx="127.5" cy="542.4"/>
<circle class="o" cx="120.2" cy="523.5"/>
<circle class="o" cx="132.8" cy="514.3"/>
<circle class="o" cx="137.9" cy="538.0"/>
<circle class="o" cx="109.2" cy="526.6"/>
<circle class="o" cx="120.8" cy="536.7"/>
<circle class="o" cx="119.7" cy="565.8"/>
<circle class="o" cx="118.3" cy="578.7"/>
<circle class="o" cx="135.7" cy="542.5"/>
<circle class="o" cx="121.8" cy="542.7"/>
<circle class="o" cx="137.2" cy="556.7"/>
<circle class="o" cx="134.6" cy="549.3"/>
<circle class="o" cx="113.9" cy="581.3"/>
<circle class="o" cx="107.5" cy="551.9"/>
<circle class="o" cx="116.4" cy="575.5"/>
<circle class="o" cx="138.5" cy="529.6"/>
<circle class="o" cx="124.4" cy="575.4"/>
<circle class="o" cx="116.4" cy="529.7"/>
<circle class="o" cx="143.3" cy="526.5"/>
<circle class="o" cx="127.7" cy="531.6"/>
<circle class="o" cx="115.6" cy="525.8"/>
<circle class="o" cx="119.7" cy="526.1"/>
<circle class="o" cx="111.9" cy="563.9"/>
<circle class="o" cx="121.9" cy="538.3"/>
<circle class="o" cx="128.9" cy="556.5"/>
<circle class="o" cx="128.6" cy="562.1"/>
<circle class="o" cx="117.5" cy="536.7"/>
<circle class="o" cx="141.3" cy="526.7"/>
<circle class="o" cx="120.7" cy="558.5"/>
<circle class="o" cx="111.8" cy="547.1"/>
<circle class="o" cx="123.9" cy="549.9"/>
<circle class="o" cx="112.2" cy="564.8"/>
<circle class="o" cx="121.9" cy="541.8"/>
<circle class="o" cx="123.9" cy="572.5"/>
<circle class="o" cx="108.1" cy="554.4"/>
<circle class="o" cx="126.0" cy="559.7"/>
<circle class="o" cx="109.3" cy="560.6"/>
<circle class="o" cx="136.8" cy="536.0"/>
<circle class="o" cx="127.0" cy="538.1"/>
<circle class="o" cx="125.5" cy="545.4"/>
<circle class="o" cx="130.1" cy="520.0"/>
<circle class="o" cx="126.1" cy="538.3"/>
<circle class="o" cx="129.9" cy="563.5"/>
<circle class="o" cx="123.2" cy="517.2"/>
<circle class="o" cx="112.8" cy="567.8"/>
<circle class="o" cx="127.3" cy="532.1"/>
<circle class="o" cx="130.6" cy="542.7"/>
<circle class="o" cx="130.2" cy="552.0"/>
<circle class="o" cx="123.6" cy="544.0"/>
<circle class="o" cx="128.2" cy="515.8"/>
<circle class="o" cx="131.1" cy="547.2"/>
<circle class="o" cx="131.4" cy="545.4"/>
<circle class="o" cx="135.2" cy="529.1"/>
<circle class="o" cx="120.9" cy="551.7"/>
<circle class="o" cx="133.4" cy="536.7"/>
<circle class="o" cx="114.3" cy="529.0"/>
<circle class="o" cx="113.9" cy="529.5"/>
<circle class="o" cx="120.6" cy="546.7"/>
<circle class="o" cx="118.9" cy="530.0"/>
<circle class="o" cx="118.9" cy="523.6"/>
<circle class="o" cx="122.3" cy="521.5"/>
<circle class="o" cx="115.9" cy="535.2"/>
<circle class="o" cx="132.1" cy="555.6"/>
<circle class="o" cx="135.9" cy="561.0"/>
<circle class="o" cx="116.2" cy="530.1"/>
<circle class="o" cx="107.7" cy="547.1"/>
<circle class="o" cx="135.3" cy="524.7"/>
<circle class="o" cx="138.0" cy="538.2"/>
<circle class="o" cx="124.4" cy="527.4"/>
<circle class="o" cx="143.6" cy="519.5"/>
<circle class="o" cx="130.5" cy="522.1"/>
<circle class="o" cx="108.8" cy="528.4"/>
<circle class="o" cx="117.7" cy="531.6"/>
<circle class="o" cx="114.1" cy="567.5"/>
<circle class="o" cx="123.7" cy="534.7"/>
<circle class="o" cx="132.3" cy="552.7"/>
<circle class="o" cx="114.0" cy="534.8"/>
<circle class="o" cx="110.4" cy="526.4"/>
<circle class="o" cx="141.6" cy="527.6"/>
<circle class="o" cx="113.9" cy="551.8"/>
<circle class="o" cx="134.7" cy="546.7"/>
<circle class="o" cx="114.2" cy="568.0"/>
<circle class="o" cx="129.9" cy="537.9"/>
<circle class="o" cx="135.0" cy="551.3"/>
<circle class="o" cx="134.7" cy="548.3"/>
<circle class="o" cx="125.4" cy="560.8"/>
<circle class="o" cx="121.9" cy="555.6"/>
<circle class="o" cx="129.7" cy="557.2"/>
<circle class="o" cx="120.8" cy="553.4"/>
<circle class="o" cx="116.1" cy="527.8"/>
<circle class="o" cx="139.6" cy="542.7"/>
<circle class="o" cx="123.2" cy="528.3"/>
<circle class="o" cx="112.9" cy="566.2"/>
<circle class="o" cx="130.7" cy="544.9"/>
<circle class="o" cx="132.8" cy="533.5"/>
<circle class="o" cx="114.3" cy="522.1"/>
<circle class="o" cx="115.3" cy="543.5"/>
<circle class="o" cx="137.8" cy="534.9"/>
<circle class="o" cx="121.4" cy="553.0"/>
<circle class="o" cx="141.2" cy="526.9"/>
<circle class="o" cx="144.8" cy="525.7"/>
<circle class="o" cx="118.2" cy="532.8"/>
<circle class="o" cx="118.1" cy="592.6"/>
<circle class="o" cx="132.7" cy="502.2"/>
<circle class="o" cx="126.7" cy="479.1"/>
<circle class="o" cx="142.5" cy="487.9"/>
<circle class="o" cx="154.7" cy="488.7"/>
<circle class="o" cx="132.9" cy="499.2"/>
<circle class="o" cx="132.0" cy="502.7"/>
<circle class="o" cx="104.0" cy="525.5"/>
<circle class="o" cx="158.2" cy="515.0"/>
<circle class="o" cx="152.0" cy="520.0"/>
<circle class="o" cx="147.0" cy="515.0"/>
<circle class="o" cx="141.0" cy="512.0"/>
<circle class="o" cx="136.0" cy="555.0"/>
<circle class="o" cx="142.0" cy="560.0"/>
<circle class="o" cx="103.0" cy="568.0"/>
<circle class="o" cx="106.0" cy="578.0"/>
<circle class="o" cx="114.0" cy="585.0"/>
<circle class="o" cx="124.0" cy="584.0"/>
<circle class="o" cx="101.0" cy="548.0"/>
<circle class="o" cx="103.0" cy="536.0"/>
<circle class="w" cx="223.8" cy="621.4"/>
<circle class="w" cx="219.9" cy="626.3"/>
<circle class="w" cx="251.8" cy="633.1"/>
<circle class="w" cx="263.5" cy="633.3"/>
<circle class="w" cx="236.5" cy="648.7"/>
<circle class="w" cx="223.6" cy="636.2"/>
<circle class="w" cx="237.1" cy="628.1"/>
<circle class="w" cx="223.8" cy="637.4"/>
<circle class="w" cx="234.3" cy="629.3"/>
<circle class="w" cx="259.6" cy="627.6"/>
<circle class="w" cx="224.8" cy="655.5"/>
<circle class="w" cx="230.0" cy="620.6"/>
<circle class="w" cx="237.2" cy="628.5"/>
<circle class="w" cx="213.4" cy="625.5"/>
<circle class="w" cx="238.0" cy="616.4"/>
<circle class="w" cx="246.7" cy="643.5"/>
<circle class="w" cx="225.4" cy="638.3"/>
<circle class="w" cx="219.7" cy="626.5"/>
<circle class="w" cx="219.8" cy="645.8"/>
<circle class="w" cx="246.3" cy="638.2"/>
<circle class="w" cx="220.9" cy="648.1"/>
<circle class="w" cx="227.6" cy="605.1"/>
<circle class="w" cx="224.9" cy="632.6"/>
<circle class="w" cx="230.5" cy="630.3"/>
<circle class="w" cx="227.1" cy="627.6"/>
<circle class="w" cx="239.2" cy="629.8"/>
<circle class="w" cx="215.1" cy="624.4"/>
<circle class="w" cx="225.2" cy="644.5"/>
<circle class="w" cx="256.3" cy="639.3"/>
<circle class="w" cx="262.3" cy="630.5"/>
<circle class="w" cx="224.6" cy="626.4"/>
<circle class="w" cx="275.8" cy="637.5"/>
<circle class="w" cx="238.3" cy="631.4"/>
<circle class="w" cx="240.4" cy="618.4"/>
<circle class="w" cx="251.4" cy="637.9"/>
<circle class="w" cx="231.5" cy="608.0"/>
<circle class="w" cx="240.4" cy="614.2"/>
<circle class="w" cx="257.9" cy="629.5"/>
<circle class="w" cx="235.0" cy="628.2"/>
<circle class="w" cx="226.8" cy="648.5"/>
<circle class="w" cx="234.2" cy="613.7"/>
<circle class="w" cx="235.4" cy="619.4"/>
<circle class="w" cx="242.6" cy="626.3"/>
<circle class="w" cx="250.7" cy="641.3"/>
<circle class="w" cx="237.5" cy="638.9"/>
<circle class="w" cx="217.4" cy="614.3"/>
<circle class="w" cx="220.4" cy="608.9"/>
<circle class="w" cx="232.6" cy="656.3"/>
<circle class="w" cx="217.4" cy="617.7"/>
<circle class="w" cx="245.0" cy="648.3"/>
<circle class="w" cx="225.7" cy="639.3"/>
<circle class="w" cx="240.5" cy="627.2"/>
<circle class="w" cx="235.6" cy="617.0"/>
<circle class="w" cx="253.8" cy="644.1"/>
<circle class="w" cx="246.4" cy="650.7"/>
<circle class="w" cx="252.7" cy="633.8"/>
<circle class="w" cx="232.0" cy="657.5"/>
<circle class="w" cx="231.6" cy="621.8"/>
<circle class="w" cx="223.4" cy="608.9"/>
<circle class="w" cx="238.1" cy="621.8"/>
<circle class="w" cx="236.7" cy="617.9"/>
<circle class="w" cx="259.8" cy="631.0"/>
<circle class="w" cx="246.1" cy="644.7"/>
<circle class="w" cx="246.6" cy="644.0"/>
<circle class="w" cx="217.0" cy="625.5"/>
<circle class="w" cx="256.4" cy="631.0"/>
<circle class="w" cx="247.0" cy="636.9"/>
<circle class="w" cx="267.4" cy="629.9"/>
<circle class="w" cx="251.9" cy="627.4"/>
<circle class="w" cx="245.9" cy="623.1"/>
<circle class="w" cx="243.1" cy="632.2"/>
<circle class="w" cx="217.5" cy="629.8"/>
<circle class="w" cx="236.3" cy="620.9"/>
<circle class="w" cx="216.9" cy="613.5"/>
<circle class="w" cx="232.3" cy="638.8"/>
<circle class="w" cx="247.3" cy="649.1"/>
<circle class="w" cx="232.7" cy="647.3"/>
<circle class="w" cx="222.0" cy="607.2"/>
<circle class="w" cx="256.9" cy="631.1"/>
<circle class="w" cx="243.4" cy="651.8"/>
<circle class="w" cx="237.2" cy="615.1"/>
<circle class="w" cx="231.8" cy="648.7"/>
<circle class="w" cx="243.8" cy="653.4"/>
<circle class="w" cx="224.4" cy="618.4"/>
<circle class="w" cx="242.4" cy="637.1"/>
<circle class="w" cx="233.3" cy="648.2"/>
<circle class="w" cx="237.3" cy="642.0"/>
<circle class="w" cx="267.7" cy="633.9"/>
<circle class="w" cx="216.8" cy="634.3"/>
<circle class="w" cx="228.0" cy="629.8"/>
<circle class="w" cx="248.9" cy="644.8"/>
<circle class="w" cx="271.0" cy="636.4"/>
<circle class="w" cx="253.2" cy="649.1"/>
<circle class="w" cx="245.2" cy="628.9"/>
<circle class="w" cx="254.9" cy="629.6"/>
<circle class="w" cx="226.7" cy="618.8"/>
<circle class="w" cx="236.5" cy="643.6"/>
<circle class="w" cx="225.5" cy="653.7"/>
<circle class="w" cx="222.5" cy="641.8"/>
<circle class="w" cx="223.5" cy="616.4"/>
<circle class="w" cx="221.9" cy="630.5"/>
<circle class="w" cx="236.9" cy="653.6"/>
<circle class="w" cx="253.6" cy="637.8"/>
<circle class="w" cx="233.5" cy="655.0"/>
<circle class="w" cx="267.6" cy="635.8"/>
<circle class="w" cx="216.7" cy="639.9"/>
<circle class="w" cx="229.1" cy="648.2"/>
<circle class="w" cx="226.4" cy="645.1"/>
<circle class="w" cx="244.1" cy="638.5"/>
<circle class="w" cx="222.4" cy="625.8"/>
<circle class="w" cx="227.5" cy="606.5"/>
<circle class="w" cx="226.0" cy="640.3"/>
<circle class="w" cx="251.7" cy="628.4"/>
<circle class="w" cx="227.9" cy="605.8"/>
<circle class="w" cx="241.5" cy="626.7"/>
<circle class="w" cx="216.5" cy="605.9"/>
<circle class="w" cx="221.8" cy="623.4"/>
<circle class="w" cx="238.8" cy="647.0"/>
<circle class="w" cx="244.9" cy="634.3"/>
<circle class="w" cx="222.4" cy="621.4"/>
<circle class="w" cx="220.0" cy="627.6"/>
<circle class="w" cx="225.5" cy="611.9"/>
<circle class="w" cx="250.4" cy="625.6"/>
<circle class="w" cx="247.9" cy="630.3"/>
<circle class="w" cx="238.6" cy="649.8"/>
<circle class="w" cx="253.5" cy="627.1"/>
<circle class="w" cx="252.2" cy="625.6"/>
<circle class="w" cx="239.3" cy="630.1"/>
<circle class="w" cx="241.6" cy="655.6"/>
<circle class="w" cx="239.2" cy="646.8"/>
<circle class="w" cx="231.7" cy="628.0"/>
<circle class="w" cx="247.2" cy="630.4"/>
<circle class="w" cx="246.2" cy="635.3"/>
<circle class="w" cx="225.8" cy="622.7"/>
<circle class="w" cx="229.9" cy="621.5"/>
<circle class="w" cx="238.1" cy="648.1"/>
<circle class="w" cx="221.7" cy="638.7"/>
<circle class="w" cx="251.6" cy="639.9"/>
<circle class="w" cx="252.7" cy="650.6"/>
<circle class="w" cx="238.6" cy="615.4"/>
<circle class="w" cx="255.4" cy="632.5"/>
<circle class="w" cx="246.1" cy="626.6"/>
<circle class="w" cx="252.5" cy="624.6"/>
<circle class="w" cx="222.9" cy="636.6"/>
<circle class="w" cx="217.9" cy="646.0"/>
<circle class="w" cx="239.7" cy="643.5"/>
<circle class="w" cx="227.9" cy="621.2"/>
<circle class="w" cx="220.0" cy="642.3"/>
<circle class="w" cx="231.4" cy="631.0"/>
<circle class="w" cx="213.4" cy="628.8"/>
<circle class="w" cx="258.6" cy="628.9"/>
<circle class="w" cx="222.6" cy="615.8"/>
<circle class="w" cx="233.3" cy="615.9"/>
<circle class="w" cx="225.3" cy="618.0"/>
<circle class="w" cx="233.4" cy="646.3"/>
<circle class="w" cx="221.5" cy="609.8"/>
<circle class="w" cx="274.5" cy="631.4"/>
<circle class="w" cx="233.0" cy="628.5"/>
<circle class="w" cx="214.8" cy="622.5"/>
<circle class="w" cx="249.6" cy="648.5"/>
<circle class="w" cx="229.8" cy="624.9"/>
<circle class="w" cx="223.3" cy="603.7"/>
<circle class="w" cx="227.9" cy="637.4"/>
<circle class="w" cx="249.3" cy="640.6"/>
<circle class="w" cx="236.5" cy="645.0"/>
<circle class="w" cx="238.0" cy="637.4"/>
<circle class="w" cx="216.9" cy="640.8"/>
<circle class="w" cx="229.5" cy="629.6"/>
<circle class="w" cx="234.5" cy="630.5"/>
<circle class="w" cx="224.0" cy="632.5"/>
<circle class="w" cx="240.7" cy="617.2"/>
<circle class="w" cx="236.4" cy="627.3"/>
<circle class="w" cx="265.6" cy="632.6"/>
<circle class="w" cx="230.9" cy="633.3"/>
<circle class="w" cx="255.2" cy="632.1"/>
<circle class="w" cx="220.3" cy="619.4"/>
<circle class="w" cx="259.9" cy="629.8"/>
<circle class="w" cx="251.7" cy="647.8"/>
<circle class="w" cx="224.5" cy="638.6"/>
<circle class="w" cx="238.0" cy="614.6"/>
<circle class="w" cx="244.7" cy="648.4"/>
<circle class="w" cx="221.3" cy="635.9"/>
<circle class="w" cx="250.1" cy="628.8"/>
<circle class="w" cx="223.5" cy="610.8"/>
<circle class="w" cx="253.4" cy="642.3"/>
<circle class="w" cx="240.2" cy="619.8"/>
<circle class="w" cx="255.8" cy="632.1"/>
<circle class="w" cx="268.4" cy="632.3"/>
<circle class="w" cx="232.2" cy="614.2"/>
<circle class="w" cx="243.8" cy="621.4"/>
<circle class="w" cx="253.8" cy="628.1"/>
<circle class="w" cx="241.5" cy="637.7"/>
<circle class="w" cx="239.1" cy="613.4"/>
<circle class="w" cx="222.8" cy="609.5"/>
<circle class="w" cx="233.6" cy="637.3"/>
<circle class="w" cx="250.2" cy="641.4"/>
<circle class="w" cx="261.9" cy="634.5"/>
<circle class="w" cx="231.7" cy="647.1"/>
<circle class="w" cx="234.1" cy="616.7"/>
<circle class="w" cx="231.2" cy="606.5"/>
<circle class="w" cx="226.7" cy="627.4"/>
<circle class="w" cx="245.9" cy="622.2"/>
<circle class="w" cx="246.2" cy="645.2"/>
<circle class="w" cx="227.5" cy="638.1"/>
<circle class="w" cx="226.5" cy="632.8"/>
<circle class="w" cx="260.3" cy="634.6"/>
<circle class="w" cx="252.4" cy="648.5"/>
<circle class="w" cx="226.4" cy="625.7"/>
<circle class="w" cx="217.3" cy="621.1"/>
<circle class="w" cx="246.2" cy="633.2"/>
<circle class="w" cx="237.1" cy="644.4"/>
<circle class="w" cx="252.5" cy="636.3"/>
<circle class="w" cx="246.4" cy="647.0"/>
<circle class="w" cx="219.1" cy="606.3"/>
<circle class="w" cx="223.3" cy="611.1"/>
<circle class="w" cx="215.6" cy="613.7"/>
<circle class="w" cx="257.1" cy="637.2"/>
<circle class="w" cx="222.2" cy="611.2"/>
<circle class="w" cx="247.4" cy="645.0"/>
<circle class="w" cx="238.1" cy="623.6"/>
<circle class="w" cx="220.7" cy="614.8"/>
<circle class="w" cx="233.3" cy="612.6"/>
<circle class="w" cx="235.8" cy="650.3"/>
<circle class="w" cx="229.0" cy="611.7"/>
<circle class="w" cx="228.0" cy="621.1"/>
<circle class="w" cx="244.7" cy="634.9"/>
<circle class="w" cx="273.8" cy="633.8"/>
<circle class="w" cx="233.3" cy="643.9"/>
<circle class="w" cx="223.7" cy="610.1"/>
<circle class="w" cx="236.3" cy="657.6"/>
<circle class="w" cx="221.6" cy="629.3"/>
<circle class="w" cx="253.1" cy="638.7"/>
<circle class="w" cx="222.4" cy="622.7"/>
<circle class="w" cx="227.9" cy="614.5"/>
<circle class="w" cx="226.0" cy="644.6"/>
<circle class="w" cx="229.5" cy="653.3"/>
<circle class="w" cx="253.5" cy="624.3"/>
<circle class="w" cx="265.7" cy="629.7"/>
<circle class="w" cx="218.8" cy="622.9"/>
<circle class="w" cx="241.1" cy="649.0"/>
<circle class="w" cx="213.1" cy="616.3"/>
<circle class="w" cx="248.2" cy="631.2"/>
<circle class="w" cx="225.2" cy="610.9"/>
<circle class="w" cx="249.4" cy="634.5"/>
<circle class="w" cx="225.3" cy="628.7"/>
<circle class="w" cx="246.0" cy="635.5"/>
<circle class="w" cx="216.2" cy="628.1"/>
<circle class="w" cx="231.8" cy="623.7"/>
<circle class="w" cx="218.3" cy="643.7"/>
<circle class="w" cx="255.4" cy="625.4"/>
<circle class="w" cx="239.7" cy="625.8"/>
<circle class="w" cx="237.8" cy="650.6"/>
<circle class="w" cx="233.8" cy="621.0"/>
<circle class="w" cx="250.7" cy="630.6"/>
<circle class="w" cx="237.4" cy="624.7"/>
<circle class="w" cx="257.6" cy="637.0"/>
<circle class="w" cx="240.4" cy="622.5"/>
<circle class="w" cx="241.4" cy="620.8"/>
<circle class="w" cx="226.7" cy="613.7"/>
<circle class="w" cx="252.7" cy="648.7"/>
<circle class="w" cx="222.1" cy="592.5"/>
<circle class="w" cx="224.3" cy="575.2"/>
<circle class="w" cx="223.7" cy="589.5"/>
<circle class="w" cx="222.3" cy="585.7"/>
<circle class="w" cx="230.5" cy="590.9"/>
<circle class="w" cx="219.5" cy="583.1"/>
<circle class="w" cx="229.6" cy="602.6"/>
<circle class="w" cx="227.2" cy="579.5"/>
<circle class="w" cx="219.6" cy="593.5"/>
<circle class="w" cx="224.0" cy="582.4"/>
<circle class="w" cx="229.1" cy="594.6"/>
<circle class="w" cx="222.9" cy="581.1"/>
<circle class="w" cx="226.6" cy="604.7"/>
<circle class="w" cx="227.2" cy="575.7"/>
<circle class="w" cx="237.4" cy="597.8"/>
<circle class="w" cx="225.1" cy="592.8"/>
<circle class="w" cx="206.5" cy="563.0"/>
<circle class="w" cx="216.3" cy="546.5"/>
<circle class="w" cx="237.9" cy="557.6"/>
<circle class="w" cx="249.2" cy="588.4"/>
<circle class="w" cx="241.8" cy="606.8"/>
<circle class="w" cx="246.2" cy="613.5"/>
<circle class="w" cx="224.0" cy="571.0"/>
<circle class="w" cx="229.0" cy="574.0"/>
<circle class="w" cx="236.0" cy="576.0"/>
<circle class="w" cx="211.0" cy="639.0"/>
<circle class="w" cx="212.0" cy="650.0"/>
<circle class="w" cx="222.0" cy="658.0"/>
<circle class="w" cx="232.0" cy="661.0"/>
<circle class="w" cx="246.0" cy="660.0"/>
<circle class="w" cx="256.0" cy="655.0"/>
<circle class="w" cx="266.0" cy="628.0"/>
<circle class="w" cx="274.0" cy="630.0"/>
<circle class="w" cx="282.0" cy="640.0"/>
<circle class="w" cx="268.0" cy="640.0"/>
<circle class="w" cx="220.0" cy="590.0"/>
<circle class="w" cx="218.0" cy="606.0"/>
<circle class="s" cx="294.9" cy="453.7"/>
<circle class="m" cx="275.7" cy="457.0"/>
<circle class="s" cx="360.4" cy="460.6"/>
<circle class="s" cx="333.1" cy="455.3"/>
<circle class="s" cx="268.5" cy="450.2"/>
<circle class="s" cx="380.2" cy="447.6"/>
<circle class="m" cx="195.8" cy="464.8"/>
<circle class="s" cx="265.6" cy="465.9"/>
<circle class="s" cx="389.0" cy="462.5"/>
<circle class="s" cx="329.6" cy="453.9"/>
<circle class="m" cx="203.4" cy="464.5"/>
<circle class="s" cx="351.8" cy="473.7"/>
<circle class="s" cx="330.1" cy="443.6"/>
<circle class="s" cx="271.5" cy="456.4"/>
<circle class="s" cx="296.1" cy="454.5"/>
<circle class="m" cx="280.2" cy="466.3"/>
<circle class="m" cx="209.4" cy="465.3"/>
<circle class="s" cx="340.3" cy="454.1"/>
<circle class="s" cx="341.3" cy="470.7"/>
<circle class="m" cx="242.5" cy="462.0"/>
<circle class="m" cx="218.7" cy="445.1"/>
<circle class="s" cx="290.0" cy="483.0"/>
<circle class="m" cx="229.2" cy="443.7"/>
<circle class="m" cx="207.7" cy="464.0"/>
<circle class="m" cx="262.7" cy="454.2"/>
<circle class="s" cx="307.9" cy="465.0"/>
<circle class="s" cx="339.1" cy="467.7"/>
<circle class="m" cx="205.5" cy="459.6"/>
<circle class="s" cx="287.9" cy="441.8"/>
<circle class="s" cx="346.6" cy="453.1"/>
<circle class="s" cx="260.7" cy="467.2"/>
<circle class="s" cx="314.9" cy="454.6"/>
<circle class="s" cx="289.8" cy="452.4"/>
<circle class="m" cx="238.1" cy="445.5"/>
<circle class="m" cx="219.4" cy="451.6"/>
<circle class="s" cx="322.0" cy="459.3"/>
<circle class="m" cx="275.0" cy="458.2"/>
<circle class="s" cx="311.2" cy="467.6"/>
<circle class="s" cx="357.0" cy="477.0"/>
<circle class="s" cx="291.7" cy="443.6"/>
<circle class="m" cx="277.2" cy="453.9"/>
<circle class="s" cx="293.6" cy="452.6"/>
<circle class="m" cx="273.5" cy="448.5"/>
<circle class="m" cx="224.2" cy="470.5"/>
<circle class="m" cx="362.7" cy="451.1"/>
<circle class="m" cx="171.0" cy="480.0"/>
<circle class="m" cx="275.7" cy="448.7"/>
<circle class="m" cx="186.6" cy="473.2"/>
<circle class="s" cx="297.9" cy="474.1"/>
<circle class="s" cx="321.5" cy="481.3"/>
<circle class="s" cx="328.0" cy="461.4"/>
<circle class="s" cx="328.1" cy="464.8"/>
<circle class="s" cx="329.3" cy="479.9"/>
<circle class="m" cx="254.5" cy="447.9"/>
<circle class="m" cx="279.5" cy="455.3"/>
<circle class="s" cx="275.6" cy="457.6"/>
<circle class="s" cx="281.5" cy="448.1"/>
<circle class="s" cx="272.3" cy="450.1"/>
<circle class="s" cx="283.7" cy="458.4"/>
<circle class="m" cx="199.6" cy="447.2"/>
<circle class="s" cx="309.9" cy="441.7"/>
<circle class="s" cx="332.4" cy="474.0"/>
<circle class="s" cx="302.9" cy="460.6"/>
<circle class="m" cx="223.1" cy="440.0"/>
<circle class="m" cx="189.8" cy="463.7"/>
<circle class="s" cx="365.5" cy="462.1"/>
<circle class="m" cx="195.3" cy="451.9"/>
<circle class="s" cx="259.8" cy="461.6"/>
<circle class="s" cx="344.5" cy="473.7"/>
<circle class="s" cx="314.6" cy="479.5"/>
<circle class="s" cx="317.0" cy="436.0"/>
<circle class="m" cx="257.0" cy="456.7"/>
<circle class="s" cx="313.8" cy="452.9"/>
<circle class="s" cx="365.8" cy="465.5"/>
<circle class="s" cx="355.5" cy="457.4"/>
<circle class="s" cx="351.4" cy="448.3"/>
<circle class="m" cx="188.7" cy="459.5"/>
<circle class="s" cx="358.5" cy="461.2"/>
<circle class="s" cx="335.7" cy="467.9"/>
<circle class="m" cx="179.2" cy="452.9"/>
<circle class="m" cx="190.0" cy="468.8"/>
<circle class="s" cx="318.0" cy="486.0"/>
<circle class="m" cx="261.4" cy="465.7"/>
<circle class="m" cx="278.9" cy="445.3"/>
<circle class="s" cx="304.0" cy="447.1"/>
<circle class="m" cx="274.6" cy="449.5"/>
<circle class="s" cx="324.7" cy="449.8"/>
<circle class="s" cx="296.1" cy="465.7"/>
<circle class="s" cx="254.0" cy="461.8"/>
<circle class="s" cx="346.6" cy="475.0"/>
<circle class="s" cx="288.0" cy="471.1"/>
<circle class="m" cx="203.0" cy="463.9"/>
<circle class="m" cx="224.3" cy="452.8"/>
<circle class="s" cx="265.1" cy="439.9"/>
<circle class="s" cx="296.7" cy="457.2"/>
<circle class="s" cx="311.3" cy="469.5"/>
<circle class="s" cx="384.6" cy="487.0"/>
<circle class="s" cx="327.9" cy="452.1"/>
<circle class="m" cx="176.0" cy="452.0"/>
<circle class="m" cx="217.0" cy="452.8"/>
<circle class="m" cx="274.3" cy="463.3"/>
<circle class="m" cx="213.2" cy="466.9"/>
<circle class="s" cx="325.9" cy="456.5"/>
<circle class="s" cx="265.0" cy="468.8"/>
<circle class="m" cx="274.5" cy="440.1"/>
<circle class="s" cx="331.3" cy="454.2"/>
<circle class="s" cx="261.9" cy="454.9"/>
<circle class="s" cx="343.8" cy="461.7"/>
<circle class="s" cx="269.9" cy="455.1"/>
<circle class="s" cx="305.0" cy="460.7"/>
<circle class="m" cx="275.1" cy="440.7"/>
<circle class="m" cx="199.8" cy="465.7"/>
<circle class="s" cx="365.0" cy="482.0"/>
<circle class="s" cx="273.9" cy="468.0"/>
<circle class="m" cx="198.0" cy="460.6"/>
<circle class="m" cx="217.9" cy="446.6"/>
<circle class="s" cx="313.4" cy="447.8"/>
<circle class="s" cx="273.3" cy="461.5"/>
<circle class="s" cx="339.0" cy="472.8"/>
<circle class="s" cx="262.6" cy="452.9"/>
<circle class="m" cx="187.0" cy="440.0"/>
<circle class="s" cx="295.9" cy="453.7"/>
<circle class="m" cx="153.0" cy="494.0"/>
<circle class="s" cx="266.3" cy="470.9"/>
<circle class="s" cx="247.5" cy="462.5"/>
<circle class="s" cx="262.6" cy="469.6"/>
<circle class="s" cx="293.4" cy="468.9"/>
<circle class="s" cx="312.7" cy="452.3"/>
<circle class="s" cx="353.3" cy="460.6"/>
<circle class="s" cx="334.4" cy="468.7"/>
<circle class="s" cx="286.2" cy="470.3"/>
<circle class="s" cx="275.3" cy="454.2"/>
<circle class="m" cx="236.9" cy="452.0"/>
<circle class="m" cx="273.8" cy="442.6"/>
<circle class="s" cx="310.2" cy="467.5"/>
<circle class="s" cx="322.7" cy="456.5"/>
<circle class="s" cx="306.2" cy="459.4"/>
<circle class="m" cx="187.5" cy="468.9"/>
<circle class="s" cx="306.0" cy="439.0"/>
<circle class="m" cx="190.0" cy="502.0"/>
<circle class="s" cx="277.3" cy="453.2"/>
<circle class="s" cx="335.3" cy="457.7"/>
<circle class="s" cx="321.1" cy="456.3"/>
<circle class="s" cx="375.0" cy="492.2"/>
<circle class="s" cx="311.4" cy="475.2"/>
<circle class="s" cx="252.9" cy="460.3"/>
<circle class="m" cx="217.4" cy="448.7"/>
<circle class="s" cx="327.5" cy="440.1"/>
<circle class="s" cx="330.2" cy="445.9"/>
<circle class="s" cx="284.6" cy="477.5"/>
<circle class="m" cx="221.2" cy="466.4"/>
<circle class="m" cx="233.5" cy="441.4"/>
<circle class="s" cx="299.6" cy="452.0"/>
<circle class="s" cx="324.7" cy="450.6"/>
<circle class="s" cx="349.6" cy="464.8"/>
<circle class="s" cx="298.5" cy="443.3"/>
<circle class="m" cx="214.9" cy="469.7"/>
<circle class="m" cx="201.9" cy="468.5"/>
<circle class="s" cx="282.5" cy="449.8"/>
<circle class="m" cx="274.1" cy="459.5"/>
<circle class="s" cx="314.8" cy="468.9"/>
<circle class="m" cx="200.4" cy="447.8"/>
<circle class="m" cx="245.1" cy="458.1"/>
<circle class="s" cx="428.4" cy="464.2"/>
<circle class="s" cx="312.6" cy="446.8"/>
<circle class="m" cx="220.3" cy="458.9"/>
<circle class="m" cx="230.7" cy="466.4"/>
<circle class="s" cx="342.9" cy="461.4"/>
<circle class="s" cx="272.0" cy="455.5"/>
<circle class="s" cx="275.3" cy="466.4"/>
<circle class="s" cx="430.1" cy="474.7"/>
<circle class="s" cx="291.3" cy="472.7"/>
<circle class="m" cx="246.8" cy="448.4"/>
<circle class="m" cx="195.8" cy="451.8"/>
<circle class="s" cx="348.7" cy="479.8"/>
<circle class="s" cx="262.8" cy="445.7"/>
<circle class="s" cx="276.6" cy="448.6"/>
<circle class="s" cx="307.4" cy="442.2"/>
<circle class="m" cx="278.3" cy="456.8"/>
<circle class="s" cx="274.2" cy="443.7"/>
<circle class="s" cx="350.1" cy="476.4"/>
<circle class="m" cx="190.3" cy="452.7"/>
<circle class="s" cx="302.7" cy="474.8"/>
<circle class="m" cx="275.5" cy="443.7"/>
<circle class="s" cx="286.8" cy="445.0"/>
<circle class="s" cx="289.0" cy="472.8"/>
<circle class="s" cx="287.5" cy="459.7"/>
<circle class="m" cx="266.1" cy="445.3"/>
<circle class="m" cx="186.5" cy="466.4"/>
<circle class="m" cx="179.2" cy="464.2"/>
<circle class="s" cx="361.0" cy="471.3"/>
<circle class="s" cx="307.6" cy="455.9"/>
<circle class="m" cx="193.0" cy="437.0"/>
<circle class="s" cx="309.4" cy="473.5"/>
<circle class="s" cx="277.0" cy="445.0"/>
<circle class="m" cx="245.5" cy="453.2"/>
<circle class="s" cx="310.0" cy="463.6"/>
<circle class="m" cx="251.4" cy="441.1"/>
<circle class="s" cx="256.6" cy="453.1"/>
<circle class="s" cx="296.7" cy="445.5"/>
<circle class="s" cx="345.3" cy="464.2"/>
<circle class="m" cx="222.4" cy="469.1"/>
<circle class="s" cx="323.5" cy="455.2"/>
<circle class="s" cx="312.1" cy="445.2"/>
<circle class="s" cx="300.0" cy="484.0"/>
<circle class="s" cx="284.6" cy="436.3"/>
<circle class="s" cx="270.7" cy="473.1"/>
<circle class="m" cx="229.8" cy="464.3"/>
<circle class="s" cx="277.6" cy="472.3"/>
<circle class="m" cx="205.9" cy="456.8"/>
<circle class="m" cx="157.4" cy="480.0"/>
<circle class="s" cx="303.0" cy="466.8"/>
<circle class="s" cx="363.0" cy="462.1"/>
<circle class="m" cx="251.5" cy="448.7"/>
<circle class="s" cx="314.7" cy="453.8"/>
<circle class="s" cx="263.2" cy="445.3"/>
<circle class="m" cx="244.1" cy="464.9"/>
<circle class="s" cx="328.1" cy="453.3"/>
<circle class="s" cx="266.2" cy="465.8"/>
<circle class="m" cx="182.7" cy="486.1"/>
<circle class="s" cx="301.9" cy="475.2"/>
<circle class="m" cx="226.5" cy="443.4"/>
<circle class="s" cx="279.7" cy="442.4"/>
<circle class="m" cx="193.2" cy="443.2"/>
<circle class="m" cx="220.2" cy="455.2"/>
<circle class="s" cx="352.9" cy="462.5"/>
<circle class="s" cx="316.9" cy="458.2"/>
<circle class="s" cx="341.4" cy="458.1"/>
<circle class="m" cx="269.0" cy="444.8"/>
<circle class="m" cx="260.0" cy="448.8"/>
<circle class="s" cx="288.3" cy="448.6"/>
<circle class="m" cx="270.8" cy="450.8"/>
<circle class="s" cx="263.7" cy="467.0"/>
<circle class="m" cx="248.9" cy="457.6"/>
<circle class="s" cx="352.3" cy="449.4"/>
<circle class="s" cx="357.1" cy="474.4"/>
<circle class="m" cx="229.7" cy="457.8"/>
<circle class="m" cx="234.7" cy="440.7"/>
<circle class="s" cx="289.0" cy="471.0"/>
<circle class="m" cx="242.0" cy="465.2"/>
<circle class="m" cx="243.2" cy="455.1"/>
<circle class="m" cx="200.2" cy="466.1"/>
<circle class="m" cx="228.9" cy="456.0"/>
<circle class="s" cx="296.5" cy="466.1"/>
<circle class="s" cx="308.4" cy="475.5"/>
<circle class="s" cx="319.7" cy="458.9"/>
<circle class="m" cx="147.7" cy="484.4"/>
<circle class="s" cx="278.8" cy="465.7"/>
<circle class="m" cx="280.5" cy="444.4"/>
<circle class="m" cx="267.9" cy="457.0"/>
<circle class="s" cx="320.3" cy="451.0"/>
<circle class="m" cx="190.1" cy="459.2"/>
<circle class="s" cx="253.6" cy="458.9"/>
<circle class="s" cx="313.6" cy="457.7"/>
<circle class="m" cx="247.2" cy="465.9"/>
<circle class="m" cx="251.4" cy="470.1"/>
<circle class="m" cx="233.5" cy="424.9"/>
<circle class="s" cx="302.9" cy="458.8"/>
<circle class="m" cx="271.8" cy="449.2"/>
<circle class="m" cx="250.0" cy="431.0"/>
<circle class="m" cx="197.5" cy="451.7"/>
<circle class="s" cx="301.3" cy="450.5"/>
<circle class="s" cx="350.7" cy="457.1"/>
<circle class="s" cx="315.4" cy="460.6"/>
<circle class="m" cx="194.2" cy="466.1"/>
<circle class="m" cx="274.3" cy="468.5"/>
<circle class="s" cx="285.8" cy="448.5"/>
<circle class="s" cx="348.6" cy="472.9"/>
<circle class="s" cx="325.5" cy="479.9"/>
<circle class="m" cx="194.9" cy="448.2"/>
<circle class="m" cx="233.6" cy="442.8"/>
<circle class="s" cx="294.6" cy="460.9"/>
<circle class="s" cx="330.4" cy="453.7"/>
<circle class="m" cx="213.6" cy="470.5"/>
<circle class="s" cx="328.9" cy="451.6"/>
<circle class="s" cx="293.6" cy="447.1"/>
<circle class="s" cx="265.4" cy="469.4"/>
<circle class="s" cx="326.9" cy="459.2"/>
<circle class="m" cx="206.7" cy="459.9"/>
<circle class="s" cx="336.9" cy="466.8"/>
<circle class="m" cx="244.3" cy="439.8"/>
<circle class="s" cx="338.5" cy="449.4"/>
<circle class="m" cx="217.7" cy="470.2"/>
<circle class="m" cx="261.7" cy="455.1"/>
<circle class="s" cx="294.1" cy="473.8"/>
<circle class="m" cx="358.4" cy="489.6"/>
<circle class="s" cx="332.0" cy="450.0"/>
<circle class="s" cx="357.5" cy="461.0"/>
<circle class="m" cx="207.1" cy="463.4"/>
<circle class="s" cx="328.0" cy="469.0"/>
<circle class="s" cx="305.0" cy="474.3"/>
<circle class="m" cx="175.0" cy="470.0"/>
<circle class="m" cx="220.3" cy="453.3"/>
<circle class="s" cx="308.7" cy="448.6"/>
<circle class="s" cx="307.4" cy="465.7"/>
<circle class="m" cx="178.0" cy="485.0"/>
<circle class="s" cx="393.4" cy="456.4"/>
<circle class="s" cx="295.0" cy="471.6"/>
<circle class="m" cx="271.4" cy="441.7"/>
<circle class="s" cx="377.6" cy="462.5"/>
<circle class="s" cx="322.9" cy="444.7"/>
<circle class="m" cx="244.5" cy="458.4"/>
<circle class="s" cx="309.8" cy="453.6"/>
<circle class="s" cx="290.3" cy="471.6"/>
<circle class="m" cx="240.0" cy="429.0"/>
<circle class="s" cx="365.6" cy="455.1"/>
<circle class="s" cx="341.5" cy="479.8"/>
<circle class="m" cx="248.2" cy="441.9"/>
<circle class="m" cx="248.5" cy="464.7"/>
<circle class="s" cx="292.4" cy="459.3"/>
<circle class="s" cx="316.9" cy="464.2"/>
<circle class="m" cx="184.5" cy="477.9"/>
<circle class="m" cx="228.4" cy="447.8"/>
<circle class="s" cx="297.4" cy="469.7"/>
<circle class="s" cx="334.5" cy="456.1"/>
<circle class="m" cx="202.8" cy="463.1"/>
<circle class="m" cx="212.3" cy="466.6"/>
<circle class="s" cx="353.2" cy="479.9"/>
<circle class="s" cx="330.0" cy="461.5"/>
<circle class="m" cx="285.7" cy="455.7"/>
<circle class="s" cx="338.0" cy="481.8"/>
<circle class="m" cx="262.8" cy="468.4"/>
<circle class="m" cx="150.9" cy="413.1"/>
<circle class="m" cx="234.8" cy="443.1"/>
<circle class="m" cx="195.5" cy="463.5"/>
<circle class="m" cx="271.8" cy="440.7"/>
<circle class="s" cx="262.9" cy="470.3"/>
<circle class="s" cx="287.0" cy="434.0"/>
<circle class="m" cx="261.8" cy="435.7"/>
<circle class="s" cx="304.4" cy="456.1"/>
<circle class="m" cx="256.4" cy="469.2"/>
<circle class="s" cx="306.0" cy="444.9"/>
<circle class="s" cx="277.4" cy="471.4"/>
<circle class="m" cx="227.7" cy="451.3"/>
<circle class="m" cx="264.8" cy="463.6"/>
<circle class="s" cx="333.0" cy="453.9"/>
<circle class="m" cx="265.6" cy="438.2"/>
<circle class="m" cx="203.0" cy="467.1"/>
<circle class="m" cx="260.6" cy="447.3"/>
<circle class="s" cx="310.7" cy="443.4"/>
<circle class="s" cx="304.4" cy="452.0"/>
<circle class="m" cx="272.7" cy="454.4"/>
<circle class="s" cx="292.3" cy="450.1"/>
<circle class="s" cx="308.1" cy="439.3"/>
<circle class="s" cx="345.8" cy="447.3"/>
<circle class="m" cx="229.4" cy="457.9"/>
<circle class="m" cx="226.8" cy="469.7"/>
<circle class="s" cx="279.0" cy="464.4"/>
<circle class="m" cx="191.1" cy="465.0"/>
<circle class="m" cx="231.2" cy="444.9"/>
<circle class="m" cx="207.4" cy="474.1"/>
<circle class="m" cx="244.0" cy="459.6"/>
<circle class="m" cx="282.5" cy="454.8"/>
<circle class="m" cx="286.8" cy="447.1"/>
<circle class="s" cx="334.0" cy="472.0"/>
<circle class="s" cx="317.5" cy="475.1"/>
<circle class="s" cx="421.4" cy="480.9"/>
<circle class="m" cx="258.1" cy="446.7"/>
<circle class="s" cx="301.8" cy="445.0"/>
<circle class="m" cx="368.9" cy="487.9"/>
<circle class="s" cx="269.4" cy="455.4"/>
<circle class="s" cx="309.6" cy="454.0"/>
<circle class="m" cx="191.5" cy="466.4"/>
<circle class="m" cx="210.4" cy="464.3"/>
<circle class="m" cx="270.8" cy="440.3"/>
<circle class="s" cx="271.2" cy="447.2"/>
<circle class="m" cx="242.6" cy="454.7"/>
<circle class="s" cx="345.6" cy="453.0"/>
<circle class="s" cx="307.1" cy="468.0"/>
<circle class="m" cx="185.5" cy="465.3"/>
<circle class="s" cx="314.2" cy="447.8"/>
<circle class="m" cx="195.9" cy="452.5"/>
<circle class="s" cx="410.9" cy="461.6"/>
<circle class="s" cx="422.2" cy="473.0"/>
<circle class="s" cx="302.9" cy="465.3"/>
<circle class="m" cx="196.0" cy="480.0"/>
<circle class="s" cx="354.2" cy="458.0"/>
<circle class="m" cx="212.0" cy="463.7"/>
<circle class="s" cx="272.5" cy="454.1"/>
<circle class="s" cx="325.7" cy="461.6"/>
<circle class="s" cx="249.0" cy="455.8"/>
<circle class="m" cx="146.0" cy="468.6"/>
<circle class="s" cx="265.1" cy="457.1"/>
<circle class="m" cx="268.6" cy="444.5"/>
<circle class="s" cx="304.0" cy="456.7"/>
<circle class="m" cx="217.0" cy="437.6"/>
<circle class="s" cx="332.7" cy="480.9"/>
<circle class="m" cx="240.5" cy="438.4"/>
<circle class="m" cx="199.8" cy="456.6"/>
<circle class="m" cx="238.4" cy="450.4"/>
<circle class="m" cx="279.2" cy="447.9"/>
<circle class="m" cx="241.2" cy="463.5"/>
<circle class="m" cx="261.3" cy="441.1"/>
<circle class="m" cx="213.5" cy="450.4"/>
<circle class="m" cx="240.2" cy="445.9"/>
<circle class="s" cx="290.6" cy="475.7"/>
<circle class="s" cx="309.6" cy="460.0"/>
<circle class="s" cx="362.5" cy="468.4"/>
<circle class="s" cx="330.4" cy="456.6"/>
<circle class="s" cx="318.3" cy="463.3"/>
<circle class="m" cx="268.9" cy="450.8"/>
<circle class="m" cx="273.7" cy="444.9"/>
<circle class="m" cx="280.6" cy="449.2"/>
<circle class="s" cx="286.0" cy="438.0"/>
<circle class="s" cx="314.1" cy="469.4"/>
<circle class="m" cx="215.0" cy="449.9"/>
<circle class="m" cx="265.1" cy="459.4"/>
<circle class="m" cx="262.9" cy="460.7"/>
<circle class="m" cx="261.7" cy="459.7"/>
<circle class="m" cx="265.8" cy="451.1"/>
<circle class="m" cx="264.0" cy="459.3"/>
<circle class="m" cx="268.9" cy="453.8"/>
<circle class="s" cx="360.7" cy="451.2"/>
<circle class="m" cx="245.1" cy="454.7"/>
<circle class="s" cx="270.0" cy="441.3"/>
<circle class="m" cx="247.6" cy="465.3"/>
<circle class="m" cx="213.3" cy="442.2"/>
<circle class="m" cx="202.4" cy="516.9"/>
<circle class="m" cx="263.9" cy="461.4"/>
<circle class="m" cx="197.3" cy="461.4"/>
<circle class="s" cx="280.9" cy="472.2"/>
<circle class="s" cx="297.5" cy="471.3"/>
<circle class="s" cx="308.7" cy="460.3"/>
<circle class="m" cx="212.6" cy="451.7"/>
<circle class="m" cx="206.5" cy="456.1"/>
<circle class="s" cx="305.3" cy="470.4"/>
<circle class="s" cx="307.5" cy="472.0"/>
<circle class="m" cx="259.3" cy="462.7"/>
<circle class="m" cx="187.1" cy="429.6"/>
<circle class="m" cx="255.6" cy="450.8"/>
<circle class="s" cx="399.5" cy="473.0"/>
<circle class="s" cx="331.2" cy="445.9"/>
<circle class="s" cx="279.1" cy="476.8"/>
<circle class="s" cx="301.0" cy="438.6"/>
<circle class="s" cx="355.8" cy="463.0"/>
<circle class="s" cx="359.0" cy="453.5"/>
<circle class="m" cx="274.7" cy="466.3"/>
<circle class="m" cx="318.0" cy="487.0"/>
<circle class="m" cx="233.1" cy="444.7"/>
<circle class="s" cx="353.1" cy="458.6"/>
<circle class="s" cx="320.9" cy="480.5"/>
<circle class="s" cx="285.0" cy="459.8"/>
<circle class="m" cx="259.3" cy="465.1"/>
<circle class="m" cx="196.1" cy="460.4"/>
<circle class="s" cx="367.4" cy="454.9"/>
<circle class="s" cx="331.0" cy="456.7"/>
<circle class="s" cx="306.4" cy="440.6"/>
<circle class="s" cx="348.6" cy="463.0"/>
<circle class="m" cx="253.3" cy="463.3"/>
<circle class="s" cx="250.3" cy="459.9"/>
<circle class="s" cx="291.3" cy="448.1"/>
<circle class="s" cx="288.4" cy="455.7"/>
<circle class="m" cx="210.6" cy="449.5"/>
<circle class="s" cx="321.9" cy="445.6"/>
<circle class="s" cx="264.1" cy="452.8"/>
<circle class="s" cx="333.0" cy="450.4"/>
<circle class="m" cx="237.9" cy="449.5"/>
<circle class="s" cx="298.3" cy="464.9"/>
<circle class="s" cx="326.8" cy="483.5"/>
<circle class="m" cx="220.6" cy="463.1"/>
<circle class="m" cx="212.5" cy="465.3"/>
<circle class="m" cx="234.3" cy="467.0"/>
<circle class="s" cx="265.8" cy="438.6"/>
<circle class="m" cx="252.2" cy="452.0"/>
<circle class="m" cx="229.4" cy="458.2"/>
<circle class="m" cx="188.2" cy="459.0"/>
<circle class="m" cx="243.5" cy="468.8"/>
<circle class="s" cx="343.1" cy="463.1"/>
<circle class="m" cx="189.5" cy="463.4"/>
<circle class="m" cx="233.4" cy="462.3"/>
<circle class="m" cx="224.8" cy="455.8"/>
<circle class="s" cx="252.2" cy="446.6"/>
<circle class="s" cx="286.6" cy="469.2"/>
<circle class="m" cx="270.7" cy="463.9"/>
<circle class="m" cx="202.8" cy="474.3"/>
<circle class="s" cx="279.4" cy="459.4"/>
<circle class="s" cx="331.9" cy="451.3"/>
<circle class="m" cx="195.7" cy="451.6"/>
<circle class="s" cx="308.1" cy="449.6"/>
<circle class="m" cx="237.5" cy="458.7"/>
<circle class="s" cx="305.5" cy="436.7"/>
<circle class="m" cx="264.9" cy="441.6"/>
<circle class="m" cx="261.6" cy="453.2"/>
<circle class="s" cx="324.2" cy="443.5"/>
<circle class="s" cx="340.5" cy="447.9"/>
<circle class="s" cx="311.3" cy="480.5"/>
<circle class="s" cx="353.9" cy="466.1"/>
<circle class="s" cx="284.5" cy="452.7"/>
<circle class="s" cx="285.9" cy="454.7"/>
<circle class="s" cx="284.7" cy="468.9"/>
<circle class="s" cx="299.4" cy="477.2"/>
<circle class="s" cx="297.3" cy="444.0"/>
<circle class="s" cx="260.2" cy="451.6"/>
<circle class="m" cx="237.0" cy="449.6"/>
<circle class="s" cx="343.8" cy="459.3"/>
<circle class="m" cx="219.0" cy="469.2"/>
<circle class="s" cx="346.0" cy="441.0"/>
<circle class="m" cx="207.1" cy="449.5"/>
<circle class="s" cx="292.1" cy="473.6"/>
<circle class="m" cx="259.6" cy="444.7"/>
<circle class="s" cx="362.6" cy="454.0"/>
<circle class="s" cx="282.4" cy="438.5"/>
<circle class="m" cx="186.0" cy="492.0"/>
<circle class="s" cx="246.9" cy="456.7"/>
<circle class="s" cx="337.9" cy="474.8"/>
<circle class="s" cx="282.6" cy="447.5"/>
<circle class="m" cx="261.7" cy="439.7"/>
<circle class="s" cx="301.0" cy="448.0"/>
<circle class="s" cx="283.3" cy="473.1"/>
<circle class="m" cx="180.0" cy="460.0"/>
<circle class="s" cx="288.9" cy="460.0"/>
<circle class="s" cx="323.8" cy="450.7"/>
<circle class="s" cx="277.9" cy="445.3"/>
<circle class="s" cx="311.4" cy="457.0"/>
<circle class="s" cx="255.7" cy="452.5"/>
<circle class="m" cx="279.7" cy="449.4"/>
<circle class="m" cx="262.8" cy="464.1"/>
<circle class="m" cx="267.7" cy="447.8"/>
<circle class="s" cx="322.1" cy="473.0"/>
<circle class="s" cx="349.6" cy="473.6"/>
<circle class="m" cx="233.7" cy="467.6"/>
<circle class="s" cx="269.1" cy="450.1"/>
<circle class="m" cx="161.7" cy="504.5"/>
<circle class="s" cx="246.7" cy="465.1"/>
<circle class="m" cx="255.7" cy="467.9"/>
<circle class="m" cx="237.6" cy="451.5"/>
<circle class="s" cx="259.1" cy="462.8"/>
<circle class="s" cx="350.6" cy="460.6"/>
<circle class="s" cx="303.6" cy="455.7"/>
<circle class="s" cx="261.0" cy="469.1"/>
<circle class="m" cx="239.5" cy="451.9"/>
<circle class="m" cx="281.0" cy="443.2"/>
<circle class="s" cx="280.4" cy="456.9"/>
<circle class="s" cx="271.5" cy="440.9"/>
<circle class="m" cx="262.9" cy="453.7"/>
<circle class="s" cx="284.5" cy="457.9"/>
<circle class="s" cx="345.2" cy="464.7"/>
<circle class="s" cx="259.2" cy="467.0"/>
<circle class="s" cx="352.2" cy="476.2"/>
<circle class="s" cx="331.0" cy="477.0"/>
<circle class="m" cx="213.6" cy="458.7"/>
<circle class="s" cx="284.2" cy="462.2"/>
<circle class="m" cx="237.8" cy="438.8"/>
<circle class="s" cx="273.8" cy="471.4"/>
<circle class="s" cx="256.0" cy="455.4"/>
<circle class="s" cx="321.3" cy="476.1"/>
<circle class="m" cx="254.4" cy="441.7"/>
<circle class="m" cx="243.1" cy="446.7"/>
<circle class="m" cx="257.9" cy="443.6"/>
<circle class="s" cx="255.9" cy="452.7"/>
<circle class="m" cx="230.6" cy="463.3"/>
<circle class="m" cx="267.5" cy="457.3"/>
<circle class="s" cx="264.4" cy="469.5"/>
<circle class="m" cx="237.7" cy="455.8"/>
<circle class="s" cx="350.5" cy="453.4"/>
<circle class="m" cx="188.7" cy="462.8"/>
<circle class="s" cx="289.3" cy="467.2"/>
<circle class="m" cx="235.6" cy="446.0"/>
<circle class="s" cx="346.9" cy="468.7"/>
<circle class="s" cx="354.0" cy="491.4"/>
<circle class="m" cx="247.8" cy="469.7"/>
<circle class="m" cx="265.4" cy="457.4"/>
<circle class="s" cx="270.6" cy="453.0"/>
<circle class="s" cx="364.1" cy="463.0"/>
<circle class="s" cx="305.6" cy="474.7"/>
<circle class="s" cx="386.4" cy="493.1"/>
<circle class="s" cx="357.2" cy="467.9"/>
<circle class="m" cx="205.3" cy="467.4"/>
<circle class="s" cx="266.4" cy="458.6"/>
<circle class="s" cx="308.8" cy="457.7"/>
<circle class="s" cx="303.4" cy="471.2"/>
<circle class="s" cx="343.6" cy="478.1"/>
<circle class="s" cx="329.9" cy="446.7"/>
<circle class="m" cx="233.7" cy="458.5"/>
<circle class="m" cx="188.4" cy="456.8"/>
<circle class="s" cx="328.1" cy="458.1"/>
<circle class="s" cx="339.1" cy="461.5"/>
<circle class="s" cx="246.5" cy="451.4"/>
<circle class="s" cx="340.6" cy="458.7"/>
<circle class="s" cx="309.4" cy="439.7"/>
<circle class="s" cx="277.3" cy="469.7"/>
<circle class="m" cx="285.0" cy="458.9"/>
<circle class="m" cx="191.2" cy="473.9"/>
<circle class="m" cx="264.6" cy="469.0"/>
<circle class="s" cx="306.8" cy="442.6"/>
<circle class="s" cx="282.1" cy="443.5"/>
<circle class="s" cx="278.1" cy="441.5"/>
<circle class="s" cx="363.8" cy="468.6"/>
<circle class="m" cx="269.9" cy="461.2"/>
<circle class="m" cx="192.2" cy="462.2"/>
<circle class="m" cx="197.5" cy="528.1"/>
<circle class="s" cx="359.5" cy="459.6"/>
<circle class="s" cx="294.3" cy="442.9"/>
<circle class="s" cx="275.8" cy="453.7"/>
<circle class="s" cx="317.4" cy="447.9"/>
<circle class="m" cx="276.3" cy="457.7"/>
<circle class="m" cx="239.6" cy="446.9"/>
<circle class="m" cx="240.1" cy="462.1"/>
<circle class="m" cx="269.8" cy="446.1"/>
<circle class="s" cx="293.8" cy="438.0"/>
<circle class="s" cx="357.9" cy="452.0"/>
<circle class="s" cx="317.7" cy="475.1"/>
<circle class="s" cx="392.5" cy="474.7"/>
<circle class="s" cx="348.7" cy="454.2"/>
<circle class="s" cx="320.4" cy="450.4"/>
<circle class="s" cx="301.5" cy="471.2"/>
<circle class="m" cx="279.9" cy="463.6"/>
<circle class="s" cx="313.8" cy="445.2"/>
<circle class="s" cx="286.9" cy="464.0"/>
<circle class="m" cx="207.7" cy="449.9"/>
<circle class="m" cx="260.9" cy="467.4"/>
<circle class="s" cx="304.0" cy="445.2"/>
<circle class="s" cx="285.1" cy="474.5"/>
<circle class="s" cx="297.2" cy="448.6"/>
<circle class="m" cx="218.6" cy="444.4"/>
<circle class="m" cx="198.6" cy="473.0"/>
<circle class="s" cx="286.4" cy="443.6"/>
<circle class="m" cx="284.7" cy="463.1"/>
<circle class="m" cx="256.3" cy="444.2"/>
<circle class="m" cx="218.1" cy="533.7"/>
<circle class="m" cx="264.3" cy="457.4"/>
<circle class="s" cx="292.8" cy="440.6"/>
<circle class="s" cx="331.3" cy="480.2"/>
<circle class="m" cx="224.4" cy="443.2"/>
<circle class="s" cx="355.6" cy="468.1"/>
<circle class="m" cx="165.2" cy="478.2"/>
<circle class="s" cx="323.0" cy="479.1"/>
<circle class="s" cx="339.0" cy="456.5"/>
<circle class="s" cx="310.6" cy="471.6"/>
<circle class="m" cx="257.9" cy="470.8"/>
<circle class="s" cx="330.8" cy="468.5"/>
<circle class="s" cx="264.4" cy="449.2"/>
<circle class="s" cx="308.6" cy="474.6"/>
<circle class="m" cx="273.0" cy="429.0"/>
<circle class="s" cx="275.9" cy="463.4"/>
<circle class="s" cx="313.6" cy="462.0"/>
<circle class="m" cx="289.1" cy="450.7"/>
<circle class="s" cx="344.5" cy="463.3"/>
<circle class="m" cx="275.0" cy="470.7"/>
<circle class="s" cx="331.5" cy="482.3"/>
<circle class="m" cx="205.7" cy="466.7"/>
<circle class="s" cx="348.0" cy="472.0"/>
<circle class="m" cx="265.5" cy="441.9"/>
<circle class="m" cx="233.9" cy="445.4"/>
<circle class="s" cx="304.5" cy="467.7"/>
<circle class="s" cx="356.7" cy="468.5"/>
<circle class="s" cx="280.9" cy="470.9"/>
<circle class="s" cx="247.1" cy="453.2"/>
<circle class="s" cx="311.7" cy="443.9"/>
<circle class="m" cx="236.3" cy="449.7"/>
<circle class="m" cx="197.6" cy="528.1"/>
<circle class="s" cx="278.6" cy="458.2"/>
<circle class="s" cx="330.0" cy="488.0"/>
<circle class="m" cx="332.0" cy="489.0"/>
<circle class="s" cx="334.6" cy="470.6"/>
<circle class="m" cx="185.7" cy="452.7"/>
<circle class="m" cx="211.2" cy="468.4"/>
<circle class="s" cx="325.2" cy="465.5"/>
<circle class="m" cx="253.5" cy="442.4"/>
<circle class="m" cx="211.6" cy="515.0"/>
<circle class="s" cx="274.2" cy="473.6"/>
<circle class="s" cx="325.9" cy="461.9"/>
<circle class="s" cx="330.3" cy="462.9"/>
<circle class="m" cx="261.1" cy="449.7"/>
<circle class="s" cx="334.9" cy="473.8"/>
<circle class="s" cx="305.0" cy="461.6"/>
<circle class="m" cx="258.0" cy="469.0"/>
<circle class="s" cx="293.6" cy="474.1"/>
<circle class="m" cx="340.0" cy="444.0"/>
<circle class="s" cx="317.1" cy="472.8"/>
<circle class="s" cx="323.9" cy="453.0"/>
<circle class="s" cx="301.4" cy="458.4"/>
<circle class="m" cx="168.7" cy="486.1"/>
<circle class="m" cx="254.5" cy="470.6"/>
<circle class="s" cx="334.0" cy="479.2"/>
<circle class="m" cx="258.7" cy="463.7"/>
<circle class="s" cx="285.7" cy="465.0"/>
<circle class="s" cx="270.5" cy="465.2"/>
<circle class="s" cx="257.7" cy="456.6"/>
<circle class="s" cx="274.8" cy="473.1"/>
<circle class="s" cx="314.1" cy="466.6"/>
<circle class="s" cx="304.9" cy="480.6"/>
<circle class="m" cx="281.2" cy="451.0"/>
<circle class="s" cx="256.3" cy="459.4"/>
<circle class="m" cx="269.3" cy="441.5"/>
<circle class="s" cx="345.2" cy="480.4"/>
<circle class="m" cx="213.1" cy="462.7"/>
<circle class="s" cx="335.8" cy="460.9"/>
<circle class="s" cx="252.8" cy="446.2"/>
<circle class="s" cx="300.1" cy="442.8"/>
<circle class="s" cx="340.0" cy="487.0"/>
<circle class="s" cx="334.3" cy="445.0"/>
<circle class="m" cx="278.7" cy="455.1"/>
<circle class="s" cx="319.9" cy="449.1"/>
<circle class="m" cx="223.9" cy="446.6"/>
<circle class="m" cx="184.9" cy="462.1"/>
<circle class="s" cx="296.5" cy="457.9"/>
<circle class="s" cx="300.2" cy="467.7"/>
<circle class="m" cx="242.2" cy="465.5"/>
<circle class="m" cx="261.7" cy="463.4"/>
<circle class="s" cx="382.0" cy="473.0"/>
<circle class="m" cx="243.3" cy="442.6"/>
<circle class="m" cx="197.7" cy="466.2"/>
<circle class="s" cx="363.4" cy="462.5"/>
<circle class="s" cx="260.4" cy="456.3"/>
<circle class="s" cx="294.8" cy="465.2"/>
<circle class="s" cx="255.7" cy="463.8"/>
<circle class="m" cx="212.0" cy="431.0"/>
<circle class="m" cx="192.6" cy="455.7"/>
<circle class="m" cx="211.2" cy="469.0"/>
<circle class="s" cx="312.5" cy="457.9"/>
<circle class="m" cx="242.3" cy="458.0"/>
<circle class="m" cx="300.0" cy="437.0"/>
<circle class="s" cx="293.5" cy="442.5"/>
<circle class="m" cx="262.0" cy="432.0"/>
<circle class="s" cx="286.1" cy="473.8"/>
<circle class="s" cx="323.0" cy="461.1"/>
<circle class="m" cx="268.0" cy="434.0"/>
<circle class="m" cx="226.2" cy="458.9"/>
<circle class="s" cx="318.0" cy="462.9"/>
<circle class="m" cx="285.5" cy="453.8"/>
<circle class="m" cx="256.3" cy="453.9"/>
<circle class="s" cx="255.8" cy="458.7"/>
<circle class="m" cx="227.3" cy="439.9"/>
<circle class="m" cx="161.9" cy="504.5"/>
<circle class="s" cx="338.6" cy="477.0"/>
<circle class="m" cx="194.0" cy="470.9"/>
<circle class="s" cx="357.2" cy="453.3"/>
<circle class="m" cx="262.1" cy="441.0"/>
<circle class="s" cx="262.5" cy="468.9"/>
<circle class="s" cx="353.5" cy="461.1"/>
<circle class="s" cx="273.5" cy="460.7"/>
<circle class="s" cx="302.3" cy="465.0"/>
<circle class="s" cx="265.4" cy="455.5"/>
<circle class="s" cx="337.0" cy="475.8"/>
<circle class="m" cx="255.6" cy="442.7"/>
<circle class="m" cx="201.8" cy="463.9"/>
<circle class="s" cx="335.7" cy="446.7"/>
<circle class="m" cx="261.7" cy="463.9"/>
<circle class="s" cx="363.0" cy="473.6"/>
<circle class="m" cx="262.3" cy="445.2"/>
<circle class="s" cx="269.3" cy="450.7"/>
<circle class="s" cx="344.7" cy="462.4"/>
<circle class="s" cx="258.8" cy="459.1"/>
<circle class="s" cx="284.2" cy="459.0"/>
<circle class="s" cx="305.1" cy="443.2"/>
<circle class="s" cx="284.8" cy="476.7"/>
<circle class="s" cx="359.3" cy="474.8"/>
<circle class="m" cx="269.8" cy="446.3"/>
<circle class="m" cx="223.0" cy="453.4"/>
<circle class="m" cx="264.8" cy="450.8"/>
<circle class="m" cx="206.5" cy="542.7"/>
<circle class="s" cx="328.7" cy="448.1"/>
<circle class="s" cx="324.2" cy="443.8"/>
<circle class="s" cx="254.1" cy="459.6"/>
<circle class="s" cx="296.0" cy="433.0"/>
<circle class="m" cx="222.0" cy="427.0"/>
<circle class="m" cx="246.9" cy="442.7"/>
<circle class="s" cx="323.8" cy="444.5"/>
<circle class="s" cx="333.4" cy="464.2"/>
<circle class="m" cx="283.5" cy="462.8"/>
<circle class="s" cx="336.0" cy="450.4"/>
<circle class="m" cx="254.2" cy="460.6"/>
<circle class="s" cx="336.2" cy="482.4"/>
<circle class="s" cx="300.1" cy="446.5"/>
<circle class="s" cx="376.0" cy="455.0"/>
<circle class="m" cx="278.5" cy="440.0"/>
<circle class="m" cx="245.4" cy="440.8"/>
<circle class="m" cx="267.3" cy="453.6"/>
<circle class="s" cx="276.5" cy="448.6"/>
<circle class="s" cx="260.8" cy="459.0"/>
<circle class="s" cx="332.2" cy="460.9"/>
<circle class="m" cx="191.9" cy="460.7"/>
<circle class="m" cx="224.6" cy="447.3"/>
<circle class="s" cx="280.5" cy="450.2"/>
<circle class="m" cx="237.0" cy="463.4"/>
<circle class="m" cx="255.0" cy="428.0"/>
<circle class="s" cx="306.0" cy="463.9"/>
<circle class="s" cx="250.2" cy="448.4"/>
<circle class="s" cx="313.2" cy="456.0"/>
<circle class="s" cx="403.0" cy="474.7"/>
<circle class="s" cx="299.7" cy="460.3"/>
<circle class="m" cx="211.9" cy="439.2"/>
<circle class="m" cx="210.5" cy="441.0"/>
<circle class="s" cx="308.7" cy="442.8"/>
<circle class="m" cx="245.4" cy="463.9"/>
<circle class="m" cx="280.6" cy="457.1"/>
<circle class="s" cx="458.1" cy="482.1"/>
<circle class="m" cx="255.5" cy="467.0"/>
<circle class="s" cx="289.0" cy="458.1"/>
<circle class="s" cx="272.6" cy="445.8"/>
<circle class="s" cx="341.1" cy="471.3"/>
<circle class="s" cx="281.1" cy="474.8"/>
<circle class="s" cx="325.0" cy="442.5"/>
<circle class="s" cx="335.4" cy="451.9"/>
<circle class="s" cx="293.4" cy="461.2"/>
<circle class="m" cx="205.0" cy="436.0"/>
<circle class="m" cx="196.4" cy="470.1"/>
<circle class="s" cx="330.0" cy="437.0"/>
<circle class="m" cx="215.2" cy="466.9"/>
<circle class="s" cx="356.9" cy="469.8"/>
<circle class="s" cx="319.2" cy="446.3"/>
<circle class="s" cx="298.5" cy="453.8"/>
<circle class="m" cx="260.7" cy="457.5"/>
<circle class="m" cx="229.4" cy="455.2"/>
<circle class="s" cx="260.3" cy="465.3"/>
<circle class="s" cx="302.5" cy="450.9"/>
<circle class="s" cx="274.7" cy="470.3"/>
<circle class="s" cx="297.2" cy="444.4"/>
<circle class="s" cx="362.4" cy="460.8"/>
<circle class="s" cx="269.8" cy="452.0"/>
<circle class="s" cx="372.0" cy="478.0"/>
<circle class="s" cx="320.7" cy="477.9"/>
<circle class="s" cx="281.2" cy="440.7"/>
<circle class="s" cx="290.3" cy="472.6"/>
<circle class="m" cx="272.6" cy="453.6"/>
<circle class="m" cx="243.3" cy="450.7"/>
<circle class="s" cx="322.6" cy="451.9"/>
<circle class="m" cx="211.4" cy="515.7"/>
<circle class="m" cx="357.5" cy="481.7"/>
<circle class="s" cx="295.5" cy="451.0"/>
<circle class="m" cx="187.1" cy="445.0"/>
<circle class="s" cx="279.1" cy="452.9"/>
<circle class="m" cx="243.3" cy="451.5"/>
<circle class="s" cx="303.9" cy="451.4"/>
<circle class="m" cx="197.9" cy="456.9"/>
<circle class="m" cx="282.0" cy="433.0"/>
<circle class="s" cx="256.2" cy="455.8"/>
<circle class="m" cx="187.1" cy="493.1"/>
<circle class="m" cx="210.0" cy="450.7"/>
<circle class="s" cx="288.9" cy="477.5"/>
<circle class="s" cx="276.2" cy="445.3"/>
<circle class="m" cx="200.8" cy="451.9"/>
<circle class="m" cx="236.7" cy="439.9"/>
<circle class="m" cx="257.7" cy="463.2"/>
<circle class="t" cx="270.7" cy="496.8"/>
<circle class="t" cx="286.5" cy="498.1"/>
<circle class="t" cx="239.1" cy="485.7"/>
<circle class="t" cx="260.9" cy="476.4"/>
<circle class="t" cx="214.2" cy="484.7"/>
<circle class="t" cx="245.5" cy="505.2"/>
<circle class="t" cx="275.6" cy="483.3"/>
<circle class="t" cx="263.3" cy="498.6"/>
<circle class="t" cx="281.0" cy="500.6"/>
<circle class="t" cx="230.1" cy="483.9"/>
<circle class="t" cx="215.3" cy="495.1"/>
<circle class="t" cx="316.3" cy="490.1"/>
<circle class="t" cx="276.1" cy="496.1"/>
<circle class="t" cx="260.2" cy="499.9"/>
<circle class="t" cx="260.4" cy="479.0"/>
<circle class="t" cx="199.4" cy="496.6"/>
<circle class="t" cx="257.9" cy="479.9"/>
<circle class="t" cx="309.4" cy="490.7"/>
<circle class="t" cx="270.0" cy="489.9"/>
<circle class="t" cx="258.5" cy="478.5"/>
<circle class="t" cx="213.0" cy="477.0"/>
<circle class="t" cx="249.6" cy="488.9"/>
<circle class="t" cx="283.6" cy="490.1"/>
<circle class="t" cx="236.3" cy="480.5"/>
<circle class="t" cx="309.5" cy="489.3"/>
<circle class="t" cx="300.1" cy="497.4"/>
<circle class="t" cx="232.5" cy="491.7"/>
<circle class="t" cx="265.0" cy="478.9"/>
<circle class="t" cx="235.9" cy="473.9"/>
<circle class="t" cx="254.2" cy="497.2"/>
<circle class="t" cx="255.7" cy="473.6"/>
<circle class="t" cx="216.7" cy="482.3"/>
<circle class="t" cx="220.1" cy="499.6"/>
<circle class="t" cx="237.8" cy="499.8"/>
<circle class="t" cx="284.8" cy="494.4"/>
<circle class="t" cx="280.2" cy="486.2"/>
<circle class="t" cx="239.1" cy="502.5"/>
<circle class="t" cx="260.8" cy="486.9"/>
<circle class="t" cx="213.9" cy="473.7"/>
<circle class="t" cx="214.6" cy="482.3"/>
<circle class="t" cx="232.9" cy="504.3"/>
<circle class="t" cx="271.2" cy="491.0"/>
<circle class="t" cx="298.6" cy="502.2"/>
<circle class="t" cx="306.8" cy="490.2"/>
<circle class="t" cx="263.2" cy="484.3"/>
<circle class="t" cx="308.6" cy="500.7"/>
<circle class="t" cx="200.9" cy="498.6"/>
<circle class="t" cx="300.5" cy="494.3"/>
<circle class="t" cx="269.9" cy="478.8"/>
<circle class="t" cx="266.6" cy="500.9"/>
<circle class="t" cx="268.8" cy="486.1"/>
<circle class="t" cx="238.3" cy="483.5"/>
<circle class="t" cx="255.7" cy="496.6"/>
<circle class="t" cx="286.2" cy="484.0"/>
<circle class="t" cx="305.9" cy="488.7"/>
<circle class="t" cx="254.3" cy="485.9"/>
<circle class="t" cx="217.3" cy="494.7"/>
<circle class="t" cx="278.8" cy="500.9"/>
<circle class="t" cx="242.6" cy="486.1"/>
<circle class="t" cx="224.1" cy="485.6"/>
<circle class="t" cx="187.0" cy="490.8"/>
<circle class="t" cx="294.2" cy="494.6"/>
<circle class="t" cx="305.0" cy="490.4"/>
<circle class="t" cx="261.6" cy="499.1"/>
<circle class="t" cx="256.0" cy="489.0"/>
<circle class="t" cx="287.8" cy="491.5"/>
<circle class="t" cx="216.6" cy="487.4"/>
<circle class="t" cx="265.8" cy="495.2"/>
<circle class="t" cx="244.8" cy="483.6"/>
<circle class="t" cx="206.6" cy="494.8"/>
<circle class="t" cx="257.5" cy="492.8"/>
<circle class="t" cx="192.9" cy="496.8"/>
<circle class="t" cx="220.8" cy="489.7"/>
<circle class="t" cx="246.1" cy="483.8"/>
<circle class="t" cx="236.2" cy="486.4"/>
<circle class="t" cx="227.9" cy="502.2"/>
<circle class="t" cx="248.0" cy="479.5"/>
<circle class="t" cx="275.7" cy="492.9"/>
<circle class="t" cx="275.0" cy="495.0"/>
<circle class="t" cx="245.0" cy="488.0"/>
<circle class="t" cx="278.2" cy="486.6"/>
<circle class="t" cx="200.0" cy="490.6"/>
<circle class="t" cx="290.0" cy="479.2"/>
<circle class="t" cx="190.7" cy="488.9"/>
<circle class="t" cx="307.6" cy="494.1"/>
<circle class="t" cx="232.3" cy="492.5"/>
<circle class="t" cx="294.5" cy="481.7"/>
<circle class="t" cx="270.6" cy="485.2"/>
<circle class="t" cx="246.8" cy="475.0"/>
<circle class="t" cx="209.8" cy="504.8"/>
<circle class="t" cx="251.6" cy="486.8"/>
<circle class="t" cx="281.3" cy="499.9"/>
<circle class="t" cx="295.5" cy="494.4"/>
<circle class="t" cx="242.9" cy="479.2"/>
<circle class="t" cx="296.6" cy="490.0"/>
<circle class="t" cx="279.7" cy="479.8"/>
<circle class="t" cx="255.5" cy="473.4"/>
<circle class="t" cx="265.4" cy="494.4"/>
<circle class="t" cx="245.9" cy="493.9"/>
<circle class="t" cx="265.6" cy="498.5"/>
<circle class="t" cx="217.6" cy="490.1"/>
<circle class="t" cx="226.1" cy="494.3"/>
<circle class="t" cx="288.1" cy="481.4"/>
<circle class="t" cx="302.8" cy="484.0"/>
<circle class="t" cx="301.8" cy="487.7"/>
<circle class="t" cx="245.4" cy="500.5"/>
<circle class="t" cx="207.9" cy="492.9"/>
<circle class="t" cx="199.0" cy="486.1"/>
<circle class="t" cx="255.6" cy="492.5"/>
<circle class="t" cx="257.0" cy="488.8"/>
<circle class="t" cx="249.3" cy="479.8"/>
<circle class="t" cx="289.4" cy="486.7"/>
<circle class="t" cx="312.0" cy="489.9"/>
<circle class="t" cx="289.8" cy="489.2"/>
<circle class="t" cx="213.2" cy="489.0"/>
<circle class="t" cx="236.5" cy="497.4"/>
<circle class="t" cx="290.3" cy="484.0"/>
<circle class="t" cx="261.0" cy="507.0"/>
<circle class="t" cx="202.5" cy="489.2"/>
<circle class="t" cx="204.5" cy="479.5"/>
<circle class="t" cx="301.2" cy="499.5"/>
<circle class="t" cx="295.3" cy="480.4"/>
<circle class="t" cx="214.8" cy="497.2"/>
<circle class="t" cx="256.1" cy="493.6"/>
<circle class="t" cx="284.8" cy="491.0"/>
<circle class="t" cx="198.2" cy="497.2"/>
<circle class="t" cx="305.7" cy="485.0"/>
<circle class="t" cx="242.2" cy="492.2"/>
<circle class="t" cx="307.4" cy="494.8"/>
<circle class="t" cx="317.8" cy="494.2"/>
<circle class="t" cx="275.5" cy="476.2"/>
<circle class="t" cx="280.7" cy="477.3"/>
<circle class="t" cx="263.2" cy="482.1"/>
<circle class="t" cx="274.1" cy="478.6"/>
<circle class="t" cx="233.4" cy="488.1"/>
<circle class="t" cx="300.6" cy="494.3"/>
<circle class="t" cx="242.9" cy="481.0"/>
<circle class="t" cx="196.8" cy="488.7"/>
<circle class="t" cx="258.6" cy="490.6"/>
<circle class="t" cx="240.9" cy="499.3"/>
<circle class="t" cx="270.9" cy="484.4"/>
<circle class="t" cx="213.7" cy="493.4"/>
<circle class="t" cx="215.2" cy="495.6"/>
<circle class="t" cx="290.6" cy="490.2"/>
<circle class="t" cx="279.5" cy="487.3"/>
<circle class="t" cx="208.5" cy="480.5"/>
<circle class="t" cx="263.7" cy="482.7"/>
<circle class="t" cx="230.6" cy="500.6"/>
<circle class="t" cx="211.0" cy="502.8"/>
<circle class="t" cx="239.3" cy="500.1"/>
<circle class="t" cx="298.7" cy="485.7"/>
<circle class="t" cx="241.8" cy="490.2"/>
<circle class="t" cx="260.6" cy="476.3"/>
<circle class="t" cx="293.0" cy="485.9"/>
<circle class="t" cx="255.3" cy="480.5"/>
<circle class="t" cx="253.9" cy="501.7"/>
<circle class="t" cx="191.2" cy="481.9"/>
<circle class="t" cx="231.4" cy="489.6"/>
<circle class="t" cx="259.1" cy="475.5"/>
<circle class="t" cx="283.6" cy="484.4"/>
<circle class="t" cx="208.2" cy="497.5"/>
<circle class="t" cx="255.8" cy="488.5"/>
<circle class="t" cx="244.9" cy="503.9"/>
<circle class="t" cx="232.8" cy="498.8"/>
<circle class="t" cx="232.6" cy="476.5"/>
<circle class="t" cx="212.2" cy="477.5"/>
<circle class="t" cx="225.6" cy="490.0"/>
<circle class="t" cx="262.2" cy="485.3"/>
<circle class="t" cx="223.5" cy="484.5"/>
<circle class="t" cx="258.8" cy="486.7"/>
<circle class="t" cx="228.7" cy="477.2"/>
<circle class="t" cx="203.4" cy="482.3"/>
<circle class="t" cx="266.2" cy="494.3"/>
<circle class="t" cx="220.0" cy="497.3"/>
<circle class="t" cx="239.2" cy="491.2"/>
<circle class="t" cx="235.7" cy="488.6"/>
<circle class="t" cx="273.1" cy="496.3"/>
<circle class="t" cx="274.5" cy="481.3"/>
<circle class="t" cx="246.0" cy="482.0"/>
<circle class="t" cx="314.4" cy="491.4"/>
<circle class="t" cx="253.1" cy="494.3"/>
<circle class="t" cx="250.4" cy="474.5"/>
<circle class="t" cx="247.6" cy="492.3"/>
<circle class="t" cx="269.2" cy="499.0"/>
<circle class="t" cx="275.8" cy="478.0"/>
<circle class="t" cx="196.2" cy="494.0"/>
<circle class="t" cx="294.5" cy="492.1"/>
<circle class="t" cx="291.5" cy="482.9"/>
<circle class="t" cx="213.6" cy="500.5"/>
<circle class="t" cx="238.7" cy="499.3"/>
<circle class="t" cx="239.0" cy="497.2"/>
<circle class="t" cx="216.5" cy="499.7"/>
<circle class="t" cx="220.9" cy="501.9"/>
<circle class="t" cx="272.8" cy="491.4"/>
<circle class="t" cx="238.4" cy="497.0"/>
<circle class="t" cx="285.8" cy="489.9"/>
<circle class="t" cx="280.5" cy="496.2"/>
<circle class="t" cx="290.5" cy="496.0"/>
<circle class="t" cx="252.9" cy="474.8"/>
<circle class="t" cx="284.8" cy="495.4"/>
<circle class="t" cx="303.8" cy="496.9"/>
<circle class="t" cx="293.4" cy="491.1"/>
<circle class="t" cx="215.6" cy="488.8"/>
<circle class="t" cx="217.0" cy="491.8"/>
<circle class="t" cx="245.6" cy="499.0"/>
<circle class="t" cx="262.3" cy="491.4"/>
<circle class="t" cx="211.0" cy="486.7"/>
<circle class="t" cx="252.2" cy="475.2"/>
<circle class="t" cx="188.3" cy="493.2"/>
<circle class="t" cx="275.4" cy="484.3"/>
<circle class="t" cx="282.3" cy="482.3"/>
<circle class="t" cx="206.0" cy="498.4"/>
<circle class="t" cx="246.2" cy="486.4"/>
<circle class="t" cx="251.4" cy="497.3"/>
<circle class="t" cx="312.1" cy="490.5"/>
<circle class="t" cx="218.5" cy="485.5"/>
<circle class="t" cx="221.6" cy="494.0"/>
<circle class="t" cx="264.7" cy="486.5"/>
<circle class="t" cx="190.6" cy="489.9"/>
<circle class="t" cx="256.8" cy="484.6"/>
<circle class="t" cx="278.3" cy="480.6"/>
<circle class="t" cx="250.0" cy="479.7"/>
<circle class="t" cx="194.0" cy="480.6"/>
<circle class="t" cx="204.8" cy="486.9"/>
<circle class="t" cx="287.7" cy="494.4"/>
<circle class="t" cx="222.6" cy="488.1"/>
<circle class="t" cx="211.2" cy="502.8"/>
<circle class="t" cx="199.7" cy="489.8"/>
<circle class="t" cx="265.0" cy="499.6"/>
<circle class="t" cx="256.3" cy="476.5"/>
<circle class="t" cx="234.7" cy="497.2"/>
<circle class="t" cx="239.9" cy="477.3"/>
<circle class="t" cx="193.9" cy="493.0"/>
<circle class="t" cx="243.0" cy="493.5"/>
<circle class="t" cx="224.9" cy="475.4"/>
<circle class="t" cx="322.6" cy="498.0"/>
<circle class="t" cx="288.9" cy="497.2"/>
<circle class="t" cx="260.2" cy="483.2"/>
<circle class="t" cx="274.4" cy="483.3"/>
<circle class="t" cx="207.0" cy="500.3"/>
<circle class="t" cx="158.2" cy="434.1"/>
<circle class="t" cx="201.1" cy="437.1"/>
<circle class="t" cx="182.7" cy="501.9"/>
<circle class="t" cx="198.5" cy="509.7"/>
<circle class="t" cx="202.0" cy="516.7"/>
<circle class="t" cx="217.7" cy="525.5"/>
<circle class="t" cx="181.0" cy="460.7"/>
<circle class="t" cx="331.2" cy="497.5"/>
<circle class="t" cx="218.1" cy="525.9"/>
<circle class="t" cx="199.0" cy="510.1"/>
<circle class="t" cx="246.9" cy="631.5"/>
<circle class="t" cx="245.8" cy="645.0"/>
<circle class="t" cx="205.0" cy="452.0"/>
<circle class="t" cx="215.0" cy="458.0"/>
<circle class="t" cx="192.0" cy="455.0"/>
<circle class="t" cx="230.0" cy="510.0"/>
<circle class="t" cx="250.0" cy="510.0"/>
<circle class="t" cx="270.0" cy="508.0"/>
<circle class="t" cx="285.0" cy="500.0"/>
<circle class="t" cx="240.0" cy="456.0"/>
<circle class="t" cx="260.0" cy="452.0"/>
<circle class="t" cx="222.0" cy="450.0"/>
<circle class="t" cx="199.0" cy="461.0"/>
<circle class="t" cx="226.0" cy="459.0"/>
<circle class="t" cx="251.0" cy="463.0"/>
<circle class="t" cx="276.0" cy="466.0"/>
<circle class="t" cx="184.0" cy="472.0"/>
<circle class="t" cx="193.0" cy="511.0"/>
<circle class="t" cx="210.0" cy="512.0"/>
<circle class="t" cx="237.0" cy="512.0"/>
<circle class="t" cx="262.0" cy="511.0"/>
<circle class="t" cx="283.0" cy="507.0"/>
<line x1="106" y1="478" x2="458" y2="478" stroke="#000" stroke-width="2"/>
<line x1="276.5" y1="413" x2="276.5" y2="658" stroke="#FF0000" stroke-width="2"/>
<rect x="89.0" y="401.9" width="386.5" height="267.5" fill="none" stroke="#000" stroke-width="1.5"/>
<line x1="191.9" y1="669.4" x2="191.9" y2="675.6999999999999" stroke="#000" stroke-width="1.5"/>
<text transform="translate(191.9,696.6999999999999) scale(1,1.06)" text-anchor="middle" font-size="20" fill="#4d4d4d">0.02</text>
<line x1="304.9" y1="669.4" x2="304.9" y2="675.6999999999999" stroke="#000" stroke-width="1.5"/>
<text transform="translate(304.9,696.6999999999999) scale(1,1.06)" text-anchor="middle" font-size="20" fill="#4d4d4d">0.04</text>
<line x1="417.9" y1="669.4" x2="417.9" y2="675.6999999999999" stroke="#000" stroke-width="1.5"/>
<text transform="translate(417.9,696.6999999999999) scale(1,1.06)" text-anchor="middle" font-size="20" fill="#4d4d4d">0.06</text>
<line x1="82.7" y1="426.80000000000007" x2="89.0" y2="426.80000000000007" stroke="#000" stroke-width="1.5"/>
<text transform="translate(76.4,434.4000000000001) scale(1,1.06)" text-anchor="end" font-size="20" fill="#4d4d4d">0.5</text>
<line x1="82.7" y1="515.2" x2="89.0" y2="515.2" stroke="#000" stroke-width="1.5"/>
<text transform="translate(76.4,522.8000000000001) scale(1,1.06)" text-anchor="end" font-size="20" fill="#4d4d4d">0.0</text>
<line x1="82.7" y1="603.6" x2="89.0" y2="603.6" stroke="#000" stroke-width="1.5"/>
<text transform="translate(76.4,611.2) scale(1,1.06)" text-anchor="end" font-size="20" fill="#4d4d4d">-0.5</text>
<text transform="translate(282.2,725.9) scale(1,1.01)" text-anchor="middle" font-size="25.5" fill="#000">green</text>
<text transform="translate(31.0,536.0) rotate(-90) scale(1,1.01)" text-anchor="middle" font-size="25.5" fill="#000">GNDVI</text>
<polyline points="829.7,266.2 956.6,242.0 1117.9,238.4 1191.1,168.0 1377.8,120.6" fill="none" stroke="#00A374" stroke-width="3.5" stroke-linejoin="round"/>
<polyline points="829.7,238.8 956.6,199.7 1117.9,196.6 1191.1,106.7 1377.8,58.9" fill="none" stroke="#D579AA" stroke-width="3.5" stroke-linejoin="round"/>
<polyline points="829.7,261.1 956.6,236.1 1117.9,233.8 1191.1,200.0 1377.8,183.5" fill="none" stroke="#52B8F0" stroke-width="3.5" stroke-linejoin="round"/>
<polyline points="829.7,302.8 956.6,291.1 1117.9,294.2 1191.1,189.6 1377.8,60.4" fill="none" stroke="#FFEE38" stroke-width="3.5" stroke-linejoin="round"/>
<polyline points="829.7,274.5 956.6,244.6 1117.9,244.6 1191.1,230.3 1377.8,255.0" fill="none" stroke="#0070B8" stroke-width="3.5" stroke-linejoin="round"/>
<rect x="802.7" y="46.8" width="602.3" height="268.0" fill="none" stroke="#000" stroke-width="1.5"/>
<line x1="867.0" y1="314.8" x2="867.0" y2="321.1" stroke="#000" stroke-width="1.5"/>
<text transform="translate(867.0,342.1) scale(1,1.06)" text-anchor="middle" font-size="20" fill="#4d4d4d">500</text>
<line x1="1016.35" y1="314.8" x2="1016.35" y2="321.1" stroke="#000" stroke-width="1.5"/>
<text transform="translate(1016.35,342.1) scale(1,1.06)" text-anchor="middle" font-size="20" fill="#4d4d4d">600</text>
<line x1="1165.7" y1="314.8" x2="1165.7" y2="321.1" stroke="#000" stroke-width="1.5"/>
<text transform="translate(1165.7,342.1) scale(1,1.06)" text-anchor="middle" font-size="20" fill="#4d4d4d">700</text>
<line x1="1315.05" y1="314.8" x2="1315.05" y2="321.1" stroke="#000" stroke-width="1.5"/>
<text transform="translate(1315.05,342.1) scale(1,1.06)" text-anchor="middle" font-size="20" fill="#4d4d4d">800</text>
<line x1="796.4000000000001" y1="110.90000000000003" x2="802.7" y2="110.90000000000003" stroke="#000" stroke-width="1.5"/>
<text transform="translate(790.1,118.50000000000003) scale(1,1.06)" text-anchor="end" font-size="20" fill="#4d4d4d">0.15</text>
<line x1="796.4000000000001" y1="196.8" x2="802.7" y2="196.8" stroke="#000" stroke-width="1.5"/>
<text transform="translate(790.1,204.4) scale(1,1.06)" text-anchor="end" font-size="20" fill="#4d4d4d">0.10</text>
<line x1="796.4000000000001" y1="282.70000000000005" x2="802.7" y2="282.70000000000005" stroke="#000" stroke-width="1.5"/>
<text transform="translate(790.1,290.30000000000007) scale(1,1.06)" text-anchor="end" font-size="20" fill="#4d4d4d">0.05</text>
<text transform="translate(1103.9,371.7) scale(1,1.01)" text-anchor="middle" font-size="25.5" fill="#000">Wavelength [nm]</text>
<text transform="translate(740.5,180.8) rotate(-90) scale(1,1.01)" text-anchor="middle" font-size="25.5" fill="#000">Reflectance</text>
<polyline points="829.7,579.4 956.6,570.6 1117.9,569.0 1191.1,523.3 1377.8,482.8" fill="none" stroke="#00A374" stroke-width="3.5" stroke-linejoin="round"/>
<polyline points="829.7,640.2 956.6,649.5 1117.9,657.3 1191.1,655.6 1377.8,657.1" fill="none" stroke="#D579AA" stroke-width="3.5" stroke-linejoin="round"/>
<polyline points="829.7,551.3 956.6,530.2 1117.9,533.6 1191.1,453.7 1377.8,413.8" fill="none" stroke="#52B8F0" stroke-width="3.5" stroke-linejoin="round"/>
<polyline points="829.7,594.2 956.6,577.8 1117.9,587.3 1191.1,544.6 1377.8,535.1" fill="none" stroke="#FFEE38" stroke-width="3.5" stroke-linejoin="round"/>
<polyline points="829.7,595.0 956.6,582.2 1117.9,601.8 1191.1,624.5 1377.8,655.4" fill="none" stroke="#0070B8" stroke-width="3.5" stroke-linejoin="round"/>
<rect x="802.7" y="402.0" width="602.3" height="267.20000000000005" fill="none" stroke="#000" stroke-width="1.5"/>
<line x1="867.0" y1="669.2" x2="867.0" y2="675.5" stroke="#000" stroke-width="1.5"/>
<text transform="translate(867.0,696.5) scale(1,1.06)" text-anchor="middle" font-size="20" fill="#4d4d4d">500</text>
<line x1="1016.35" y1="669.2" x2="1016.35" y2="675.5" stroke="#000" stroke-width="1.5"/>
<text transform="translate(1016.35,696.5) scale(1,1.06)" text-anchor="middle" font-size="20" fill="#4d4d4d">600</text>
<line x1="1165.7" y1="669.2" x2="1165.7" y2="675.5" stroke="#000" stroke-width="1.5"/>
<text transform="translate(1165.7,696.5) scale(1,1.06)" text-anchor="middle" font-size="20" fill="#4d4d4d">700</text>
<line x1="1315.05" y1="669.2" x2="1315.05" y2="675.5" stroke="#000" stroke-width="1.5"/>
<text transform="translate(1315.05,696.5) scale(1,1.06)" text-anchor="middle" font-size="20" fill="#4d4d4d">800</text>
<line x1="796.4000000000001" y1="468.4" x2="802.7" y2="468.4" stroke="#000" stroke-width="1.5"/>
<text transform="translate(790.1,476.0) scale(1,1.06)" text-anchor="end" font-size="20" fill="#4d4d4d">0.06</text>
<line x1="796.4000000000001" y1="537.5" x2="802.7" y2="537.5" stroke="#000" stroke-width="1.5"/>
<text transform="translate(790.1,545.1) scale(1,1.06)" text-anchor="end" font-size="20" fill="#4d4d4d">0.04</text>
<line x1="796.4000000000001" y1="606.6" x2="802.7" y2="606.6" stroke="#000" stroke-width="1.5"/>
<text transform="translate(790.1,614.2) scale(1,1.06)" text-anchor="end" font-size="20" fill="#4d4d4d">0.02</text>
<text transform="translate(1103.9,725.9) scale(1,1.01)" text-anchor="middle" font-size="25.5" fill="#000">Wavelength [nm]</text>
<text transform="translate(740.5,535.5) rotate(-90) scale(1,1.01)" text-anchor="middle" font-size="25.5" fill="#000">Reflectance</text>
<text transform="translate(5,24.6) scale(1,1.04)" font-size="29.5" font-weight="bold" fill="#000">A</text>
<text transform="translate(714.0,24.3) scale(1,1.04)" font-size="28.5" font-weight="bold" fill="#000">B</text>
<text transform="translate(6,385.6) scale(1,1.04)" font-size="29.5" font-weight="bold" fill="#000">C</text>
<text transform="translate(714.0,385.6) scale(1,1.04)" font-size="28.5" font-weight="bold" fill="#000">D</text>
<text transform="translate(34.8,55) scale(1,1.0)" font-size="17.5" font-weight="bold" fill="#000">HE07</text>
<text transform="translate(743.8,55) scale(1,1.0)" font-size="17.5" font-weight="bold" fill="#000">HE07</text>
<text transform="translate(35.3,410) scale(1,1.0)" font-size="17.5" font-weight="bold" fill="#000">HE11</text>
<text transform="translate(743.8,410) scale(1,1.0)" font-size="17.5" font-weight="bold" fill="#000">HE11</text>
<text transform="translate(513.8,86.3) scale(1,1.04)" font-size="24.6" fill="#000">LU</text>
<circle cx="533.1" cy="120.0" r="4.0" fill="#00A374" fill-opacity="0.5" stroke="#00A374" stroke-opacity="0.7" stroke-width="1.0"/>
<text transform="translate(565.5,128.3) scale(1,1.06)" font-size="20" fill="#000">Macrophytes</text>
<circle cx="533.1" cy="159.3" r="4.0" fill="#D579AA" fill-opacity="0.5" stroke="#D579AA" stroke-opacity="0.7" stroke-width="1.0"/>
<text transform="translate(565.5,167.60000000000002) scale(1,1.06)" font-size="20" fill="#000">Mussel</text>
<circle cx="533.1" cy="198.6" r="4.0" fill="#52B8F0" fill-opacity="0.5" stroke="#52B8F0" stroke-opacity="0.7" stroke-width="1.0"/>
<text transform="translate(565.5,206.9) scale(1,1.06)" font-size="20" fill="#000">Shell detritus</text>
<circle cx="533.1" cy="237.89999999999998" r="4.0" fill="#FFEE38" fill-opacity="0.5" stroke="#FFEE38" stroke-opacity="0.7" stroke-width="1.0"/>
<text transform="translate(565.5,246.2) scale(1,1.06)" font-size="20" fill="#000">Tidal flat</text>
<circle cx="533.1" cy="277.2" r="4.0" fill="#0070B8" fill-opacity="0.5" stroke="#0070B8" stroke-opacity="0.7" stroke-width="1.0"/>
<text transform="translate(565.5,285.5) scale(1,1.06)" font-size="20" fill="#000">Water</text>
<text transform="translate(513.8,441.2) scale(1,1.04)" font-size="24.6" fill="#000">LU</text>
<circle cx="533.1" cy="475.3" r="4.0" fill="#D579AA" fill-opacity="0.5" stroke="#D579AA" stroke-opacity="0.7" stroke-width="1.0"/>
<text transform="translate(565.5,483.6) scale(1,1.06)" font-size="20" fill="#000">Mussel</text>
<circle cx="533.1" cy="514.6" r="4.0" fill="#E05A00" fill-opacity="0.5" stroke="#E05A00" stroke-opacity="0.7" stroke-width="1.0"/>
<text transform="translate(565.5,522.9) scale(1,1.06)" font-size="20" fill="#000">Shadow</text>
<circle cx="533.1" cy="553.9" r="4.0" fill="#52B8F0" fill-opacity="0.5" stroke="#52B8F0" stroke-opacity="0.7" stroke-width="1.0"/>
<text transform="translate(565.5,562.1999999999999) scale(1,1.06)" font-size="20" fill="#000">Shell detritus</text>
<circle cx="533.1" cy="593.2" r="4.0" fill="#FFEE38" fill-opacity="0.5" stroke="#FFEE38" stroke-opacity="0.7" stroke-width="1.0"/>
<text transform="translate(565.5,601.5) scale(1,1.06)" font-size="20" fill="#000">Tidal flat</text>
<circle cx="533.1" cy="632.5" r="4.0" fill="#0070B8" fill-opacity="0.5" stroke="#0070B8" stroke-opacity="0.7" stroke-width="1.0"/>
<text transform="translate(565.5,640.8) scale(1,1.06)" font-size="20" fill="#000">Water</text>
</svg></body></html>
